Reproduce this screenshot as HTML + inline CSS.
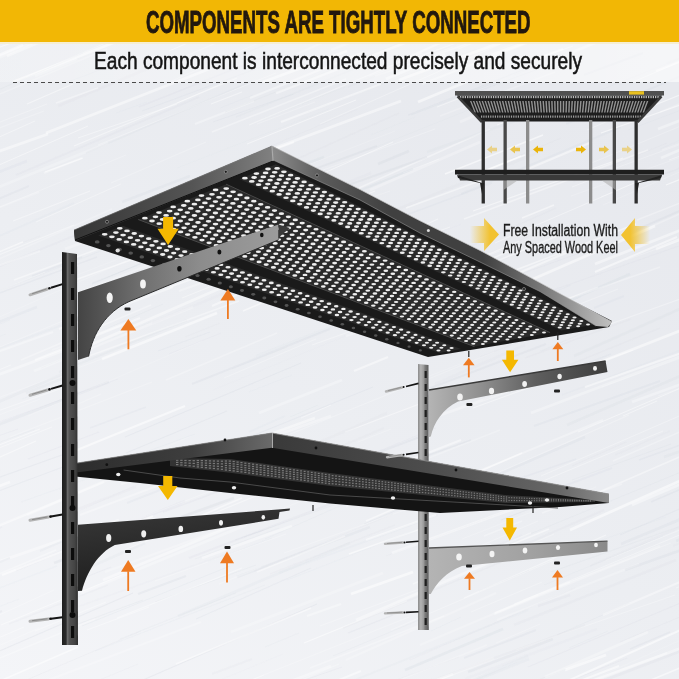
<!DOCTYPE html>
<html><head><meta charset="utf-8">
<style>
html,body{margin:0;padding:0;}
body{width:679px;height:679px;overflow:hidden;position:relative;background:#e8eaee;font-family:"Liberation Sans",sans-serif;}
#bg{position:absolute;left:0;top:0;width:679px;height:679px;}
.t{position:absolute;white-space:nowrap;transform-origin:0 0;line-height:1;}
#band{position:absolute;left:0;top:0;width:679px;height:42px;background:#f2b705;}
#title{left:146px;top:5.5px;font-weight:bold;font-size:32px;color:#22180e;-webkit-text-stroke:0.9px #22180e;transform:scaleX(0.584);}
#sub{left:94px;top:49px;font-size:24px;color:#141414;-webkit-text-stroke:0.55px #141414;transform:scaleX(0.797);}
#l1{left:503px;top:222.5px;font-size:15.8px;color:#1c1c1c;-webkit-text-stroke:0.35px #1c1c1c;transform:scaleX(0.775);}
#l2{left:503px;top:240.3px;font-size:15.8px;color:#1c1c1c;-webkit-text-stroke:0.35px #1c1c1c;transform:scaleX(0.69);}
#dash{position:absolute;left:13px;top:82px;width:653px;height:1px;background:repeating-linear-gradient(90deg,#4a4a4a 0 4px,transparent 4px 7px);}
svg{position:absolute;left:0;top:0;}
</style></head>
<body>
<svg id="bg" width="679" height="679" viewBox="0 0 679 679">
  <defs>
    <linearGradient id="bgg" x1="0" y1="1" x2="0.6" y2="0">
      <stop offset="0" stop-color="#f4f5f8"/>
      <stop offset="0.5" stop-color="#eceef2"/>
      <stop offset="1" stop-color="#e7e9ee"/>
    </linearGradient>
  </defs>
  <rect width="679" height="679" fill="url(#bgg)"/>
  <filter id="blr" x="-5%" y="-5%" width="110%" height="110%"><feGaussianBlur stdDeviation="0.75"/></filter><g filter="url(#blr)"><line x1="540" y1="705" x2="717" y2="637" stroke="#cdd2db" stroke-width="2.8" stroke-opacity="0.17"/><line x1="572" y1="187" x2="608" y2="173" stroke="#ffffff" stroke-width="0.9" stroke-opacity="0.36"/><line x1="356" y1="495" x2="385" y2="483" stroke="#ffffff" stroke-width="0.9" stroke-opacity="0.26"/><line x1="212" y1="674" x2="252" y2="659" stroke="#cdd2db" stroke-width="2" stroke-opacity="0.10"/><line x1="660" y1="149" x2="721" y2="122" stroke="#cdd2db" stroke-width="0.9" stroke-opacity="0.13"/><line x1="351" y1="594" x2="413" y2="572" stroke="#ffffff" stroke-width="2.8" stroke-opacity="0.54"/><line x1="-130" y1="344" x2="45" y2="272" stroke="#ffffff" stroke-width="1.1" stroke-opacity="0.31"/><line x1="-147" y1="594" x2="-65" y2="562" stroke="#ffffff" stroke-width="1.1" stroke-opacity="0.31"/><line x1="22" y1="399" x2="78" y2="378" stroke="#cdd2db" stroke-width="1.1" stroke-opacity="0.09"/><line x1="636" y1="-33" x2="789" y2="-90" stroke="#ffffff" stroke-width="1.1" stroke-opacity="0.49"/><line x1="508" y1="543" x2="686" y2="470" stroke="#cdd2db" stroke-width="0.7" stroke-opacity="0.23"/><line x1="170" y1="287" x2="283" y2="247" stroke="#ffffff" stroke-width="1.5" stroke-opacity="0.46"/><line x1="650" y1="-15" x2="828" y2="-81" stroke="#ffffff" stroke-width="0.7" stroke-opacity="0.38"/><line x1="-12" y1="212" x2="126" y2="155" stroke="#ffffff" stroke-width="0.7" stroke-opacity="0.31"/><line x1="-77" y1="91" x2="58" y2="33" stroke="#ffffff" stroke-width="1.5" stroke-opacity="0.22"/><line x1="346" y1="336" x2="413" y2="312" stroke="#ffffff" stroke-width="2" stroke-opacity="0.29"/><line x1="-15" y1="880" x2="115" y2="830" stroke="#ffffff" stroke-width="1.5" stroke-opacity="0.27"/><line x1="375" y1="76" x2="547" y2="16" stroke="#ffffff" stroke-width="1.5" stroke-opacity="0.35"/><line x1="636" y1="230" x2="734" y2="187" stroke="#cdd2db" stroke-width="2" stroke-opacity="0.24"/><line x1="304" y1="643" x2="407" y2="601" stroke="#ffffff" stroke-width="1.1" stroke-opacity="0.52"/><line x1="615" y1="455" x2="670" y2="431" stroke="#cdd2db" stroke-width="1.5" stroke-opacity="0.11"/><line x1="329" y1="471" x2="436" y2="428" stroke="#cdd2db" stroke-width="0.7" stroke-opacity="0.21"/><line x1="468" y1="672" x2="553" y2="639" stroke="#cdd2db" stroke-width="2.8" stroke-opacity="0.22"/><line x1="762" y1="630" x2="940" y2="555" stroke="#cdd2db" stroke-width="1.1" stroke-opacity="0.17"/><line x1="359" y1="188" x2="490" y2="129" stroke="#ffffff" stroke-width="1.5" stroke-opacity="0.38"/><line x1="182" y1="210" x2="264" y2="178" stroke="#ffffff" stroke-width="1.5" stroke-opacity="0.50"/><line x1="490" y1="877" x2="671" y2="812" stroke="#ffffff" stroke-width="2" stroke-opacity="0.54"/><line x1="187" y1="761" x2="258" y2="730" stroke="#cdd2db" stroke-width="0.7" stroke-opacity="0.20"/><line x1="576" y1="502" x2="707" y2="445" stroke="#ffffff" stroke-width="1.5" stroke-opacity="0.39"/><line x1="102" y1="896" x2="161" y2="875" stroke="#ffffff" stroke-width="2" stroke-opacity="0.43"/><line x1="488" y1="549" x2="522" y2="535" stroke="#cdd2db" stroke-width="1.5" stroke-opacity="0.11"/><line x1="-47" y1="870" x2="58" y2="832" stroke="#ffffff" stroke-width="2" stroke-opacity="0.36"/><line x1="419" y1="511" x2="484" y2="484" stroke="#ffffff" stroke-width="1.1" stroke-opacity="0.34"/><line x1="231" y1="59" x2="389" y2="-7" stroke="#cdd2db" stroke-width="1.1" stroke-opacity="0.17"/><line x1="125" y1="437" x2="301" y2="363" stroke="#cdd2db" stroke-width="1.1" stroke-opacity="0.22"/><line x1="606" y1="560" x2="692" y2="525" stroke="#ffffff" stroke-width="0.9" stroke-opacity="0.33"/><line x1="35" y1="76" x2="77" y2="59" stroke="#ffffff" stroke-width="2.8" stroke-opacity="0.24"/><line x1="422" y1="84" x2="550" y2="34" stroke="#ffffff" stroke-width="2" stroke-opacity="0.35"/><line x1="121" y1="874" x2="208" y2="837" stroke="#cdd2db" stroke-width="0.9" stroke-opacity="0.13"/><line x1="312" y1="345" x2="391" y2="317" stroke="#ffffff" stroke-width="1.1" stroke-opacity="0.30"/><line x1="-37" y1="541" x2="61" y2="501" stroke="#ffffff" stroke-width="1.1" stroke-opacity="0.25"/><line x1="297" y1="482" x2="363" y2="455" stroke="#cdd2db" stroke-width="1.5" stroke-opacity="0.13"/><line x1="-6" y1="889" x2="67" y2="858" stroke="#cdd2db" stroke-width="2" stroke-opacity="0.17"/><line x1="669" y1="800" x2="700" y2="789" stroke="#ffffff" stroke-width="0.9" stroke-opacity="0.39"/><line x1="126" y1="453" x2="227" y2="411" stroke="#cdd2db" stroke-width="1.1" stroke-opacity="0.22"/><line x1="-147" y1="476" x2="-13" y2="417" stroke="#cdd2db" stroke-width="0.7" stroke-opacity="0.17"/><line x1="574" y1="356" x2="691" y2="304" stroke="#cdd2db" stroke-width="2.8" stroke-opacity="0.19"/><line x1="632" y1="402" x2="770" y2="352" stroke="#ffffff" stroke-width="2.8" stroke-opacity="0.30"/><line x1="-89" y1="744" x2="50" y2="693" stroke="#cdd2db" stroke-width="1.5" stroke-opacity="0.19"/><line x1="139" y1="107" x2="277" y2="52" stroke="#cdd2db" stroke-width="1.5" stroke-opacity="0.17"/><line x1="354" y1="-4" x2="497" y2="-62" stroke="#cdd2db" stroke-width="1.1" stroke-opacity="0.21"/><line x1="-126" y1="636" x2="57" y2="566" stroke="#cdd2db" stroke-width="1.5" stroke-opacity="0.09"/><line x1="54" y1="563" x2="234" y2="498" stroke="#cdd2db" stroke-width="2.8" stroke-opacity="0.24"/><line x1="257" y1="124" x2="315" y2="102" stroke="#ffffff" stroke-width="0.9" stroke-opacity="0.27"/><line x1="464" y1="658" x2="536" y2="630" stroke="#cdd2db" stroke-width="2" stroke-opacity="0.20"/><line x1="-25" y1="360" x2="53" y2="332" stroke="#ffffff" stroke-width="2" stroke-opacity="0.32"/><line x1="701" y1="81" x2="776" y2="53" stroke="#cdd2db" stroke-width="2" stroke-opacity="0.17"/><line x1="366" y1="540" x2="436" y2="515" stroke="#ffffff" stroke-width="2" stroke-opacity="0.49"/><line x1="757" y1="718" x2="920" y2="649" stroke="#cdd2db" stroke-width="1.5" stroke-opacity="0.11"/><line x1="459" y1="31" x2="593" y2="-20" stroke="#cdd2db" stroke-width="0.7" stroke-opacity="0.17"/><line x1="213" y1="390" x2="392" y2="317" stroke="#cdd2db" stroke-width="0.7" stroke-opacity="0.09"/><line x1="-100" y1="93" x2="79" y2="26" stroke="#cdd2db" stroke-width="2.8" stroke-opacity="0.20"/><line x1="698" y1="417" x2="758" y2="390" stroke="#cdd2db" stroke-width="2.8" stroke-opacity="0.14"/><line x1="160" y1="533" x2="242" y2="498" stroke="#ffffff" stroke-width="1.5" stroke-opacity="0.45"/><line x1="125" y1="550" x2="304" y2="476" stroke="#ffffff" stroke-width="1.1" stroke-opacity="0.41"/><line x1="538" y1="326" x2="582" y2="309" stroke="#ffffff" stroke-width="0.7" stroke-opacity="0.27"/><line x1="722" y1="578" x2="804" y2="545" stroke="#ffffff" stroke-width="1.5" stroke-opacity="0.51"/><line x1="249" y1="392" x2="292" y2="375" stroke="#cdd2db" stroke-width="0.9" stroke-opacity="0.10"/><line x1="658" y1="396" x2="775" y2="354" stroke="#ffffff" stroke-width="0.7" stroke-opacity="0.26"/><line x1="69" y1="408" x2="101" y2="394" stroke="#ffffff" stroke-width="1.1" stroke-opacity="0.22"/><line x1="275" y1="756" x2="326" y2="733" stroke="#ffffff" stroke-width="2.8" stroke-opacity="0.36"/><line x1="774" y1="-18" x2="913" y2="-78" stroke="#ffffff" stroke-width="2" stroke-opacity="0.23"/><line x1="755" y1="296" x2="832" y2="265" stroke="#ffffff" stroke-width="1.5" stroke-opacity="0.22"/><line x1="285" y1="687" x2="342" y2="667" stroke="#cdd2db" stroke-width="0.9" stroke-opacity="0.19"/><line x1="757" y1="-44" x2="795" y2="-59" stroke="#ffffff" stroke-width="2.8" stroke-opacity="0.22"/><line x1="770" y1="443" x2="854" y2="410" stroke="#cdd2db" stroke-width="0.7" stroke-opacity="0.12"/><line x1="-64" y1="398" x2="73" y2="347" stroke="#ffffff" stroke-width="2.8" stroke-opacity="0.34"/><line x1="88" y1="337" x2="163" y2="304" stroke="#cdd2db" stroke-width="0.7" stroke-opacity="0.24"/><line x1="497" y1="559" x2="554" y2="534" stroke="#ffffff" stroke-width="0.9" stroke-opacity="0.31"/><line x1="354" y1="825" x2="475" y2="772" stroke="#ffffff" stroke-width="2.8" stroke-opacity="0.21"/><line x1="302" y1="493" x2="390" y2="458" stroke="#ffffff" stroke-width="2.8" stroke-opacity="0.20"/><line x1="490" y1="797" x2="678" y2="727" stroke="#ffffff" stroke-width="2" stroke-opacity="0.31"/><line x1="568" y1="728" x2="644" y2="695" stroke="#ffffff" stroke-width="0.9" stroke-opacity="0.37"/><line x1="593" y1="869" x2="727" y2="818" stroke="#ffffff" stroke-width="1.1" stroke-opacity="0.45"/><line x1="36" y1="222" x2="121" y2="184" stroke="#ffffff" stroke-width="0.7" stroke-opacity="0.47"/><line x1="565" y1="-50" x2="638" y2="-80" stroke="#cdd2db" stroke-width="0.9" stroke-opacity="0.15"/><line x1="460" y1="857" x2="604" y2="804" stroke="#ffffff" stroke-width="2.8" stroke-opacity="0.24"/><line x1="373" y1="255" x2="450" y2="227" stroke="#ffffff" stroke-width="0.9" stroke-opacity="0.44"/><line x1="-91" y1="676" x2="24" y2="627" stroke="#ffffff" stroke-width="0.7" stroke-opacity="0.54"/><line x1="255" y1="195" x2="435" y2="129" stroke="#ffffff" stroke-width="0.7" stroke-opacity="0.35"/><line x1="157" y1="-38" x2="277" y2="-88" stroke="#cdd2db" stroke-width="0.9" stroke-opacity="0.10"/><line x1="9" y1="624" x2="108" y2="585" stroke="#cdd2db" stroke-width="1.5" stroke-opacity="0.10"/><line x1="701" y1="388" x2="797" y2="348" stroke="#ffffff" stroke-width="1.5" stroke-opacity="0.43"/><line x1="290" y1="417" x2="318" y2="405" stroke="#cdd2db" stroke-width="0.9" stroke-opacity="0.15"/><line x1="760" y1="-19" x2="877" y2="-71" stroke="#cdd2db" stroke-width="1.5" stroke-opacity="0.14"/><line x1="37" y1="731" x2="113" y2="700" stroke="#ffffff" stroke-width="2" stroke-opacity="0.46"/><line x1="177" y1="186" x2="358" y2="109" stroke="#cdd2db" stroke-width="0.7" stroke-opacity="0.15"/><line x1="623" y1="416" x2="657" y2="401" stroke="#ffffff" stroke-width="0.9" stroke-opacity="0.46"/><line x1="706" y1="707" x2="852" y2="645" stroke="#cdd2db" stroke-width="1.5" stroke-opacity="0.22"/><line x1="594" y1="308" x2="624" y2="296" stroke="#cdd2db" stroke-width="2" stroke-opacity="0.18"/><line x1="-129" y1="594" x2="-4" y2="548" stroke="#ffffff" stroke-width="2" stroke-opacity="0.37"/><line x1="221" y1="883" x2="379" y2="823" stroke="#cdd2db" stroke-width="2.8" stroke-opacity="0.09"/><line x1="238" y1="860" x2="268" y2="847" stroke="#ffffff" stroke-width="2" stroke-opacity="0.30"/><line x1="570" y1="530" x2="731" y2="458" stroke="#ffffff" stroke-width="2.8" stroke-opacity="0.54"/><line x1="714" y1="173" x2="747" y2="158" stroke="#cdd2db" stroke-width="0.7" stroke-opacity="0.24"/><line x1="490" y1="746" x2="636" y2="694" stroke="#cdd2db" stroke-width="2" stroke-opacity="0.16"/><line x1="-37" y1="275" x2="112" y2="209" stroke="#ffffff" stroke-width="1.5" stroke-opacity="0.20"/><line x1="16" y1="570" x2="185" y2="501" stroke="#cdd2db" stroke-width="2.8" stroke-opacity="0.15"/><line x1="491" y1="476" x2="629" y2="415" stroke="#ffffff" stroke-width="1.1" stroke-opacity="0.24"/><line x1="592" y1="707" x2="631" y2="691" stroke="#ffffff" stroke-width="0.9" stroke-opacity="0.34"/><line x1="460" y1="491" x2="585" y2="437" stroke="#cdd2db" stroke-width="2.8" stroke-opacity="0.20"/><line x1="246" y1="452" x2="416" y2="383" stroke="#ffffff" stroke-width="1.1" stroke-opacity="0.23"/><line x1="158" y1="351" x2="210" y2="332" stroke="#cdd2db" stroke-width="1.1" stroke-opacity="0.18"/><line x1="27" y1="515" x2="155" y2="459" stroke="#ffffff" stroke-width="2.8" stroke-opacity="0.23"/><line x1="-22" y1="443" x2="18" y2="429" stroke="#cdd2db" stroke-width="0.9" stroke-opacity="0.19"/><line x1="63" y1="612" x2="226" y2="554" stroke="#cdd2db" stroke-width="1.5" stroke-opacity="0.08"/><line x1="-46" y1="269" x2="40" y2="236" stroke="#cdd2db" stroke-width="0.7" stroke-opacity="0.15"/><line x1="566" y1="124" x2="734" y2="54" stroke="#cdd2db" stroke-width="2" stroke-opacity="0.18"/><line x1="-54" y1="48" x2="-15" y2="34" stroke="#ffffff" stroke-width="0.9" stroke-opacity="0.26"/><line x1="769" y1="677" x2="836" y2="653" stroke="#ffffff" stroke-width="2" stroke-opacity="0.20"/><line x1="745" y1="76" x2="774" y2="66" stroke="#cdd2db" stroke-width="1.5" stroke-opacity="0.24"/><line x1="557" y1="635" x2="630" y2="603" stroke="#cdd2db" stroke-width="0.7" stroke-opacity="0.24"/><line x1="32" y1="276" x2="82" y2="257" stroke="#cdd2db" stroke-width="1.5" stroke-opacity="0.21"/><line x1="-48" y1="338" x2="126" y2="261" stroke="#ffffff" stroke-width="0.7" stroke-opacity="0.22"/><line x1="71" y1="583" x2="111" y2="567" stroke="#cdd2db" stroke-width="1.1" stroke-opacity="0.17"/><line x1="17" y1="752" x2="180" y2="686" stroke="#ffffff" stroke-width="0.9" stroke-opacity="0.32"/><line x1="-145" y1="678" x2="-60" y2="646" stroke="#ffffff" stroke-width="0.7" stroke-opacity="0.40"/><line x1="657" y1="24" x2="841" y2="-41" stroke="#cdd2db" stroke-width="0.9" stroke-opacity="0.15"/><line x1="-71" y1="215" x2="108" y2="143" stroke="#ffffff" stroke-width="2.8" stroke-opacity="0.21"/><line x1="567" y1="425" x2="729" y2="355" stroke="#cdd2db" stroke-width="2.8" stroke-opacity="0.19"/><line x1="-128" y1="681" x2="-36" y2="640" stroke="#cdd2db" stroke-width="1.5" stroke-opacity="0.15"/><line x1="553" y1="797" x2="605" y2="779" stroke="#ffffff" stroke-width="0.9" stroke-opacity="0.54"/><line x1="52" y1="350" x2="123" y2="325" stroke="#ffffff" stroke-width="1.5" stroke-opacity="0.20"/><line x1="565" y1="670" x2="606" y2="655" stroke="#ffffff" stroke-width="2.8" stroke-opacity="0.51"/><line x1="33" y1="-32" x2="193" y2="-91" stroke="#cdd2db" stroke-width="1.1" stroke-opacity="0.10"/><line x1="706" y1="841" x2="738" y2="827" stroke="#cdd2db" stroke-width="0.9" stroke-opacity="0.10"/><line x1="458" y1="267" x2="519" y2="241" stroke="#ffffff" stroke-width="1.1" stroke-opacity="0.54"/><line x1="-66" y1="55" x2="64" y2="6" stroke="#ffffff" stroke-width="1.1" stroke-opacity="0.52"/><line x1="262" y1="777" x2="443" y2="706" stroke="#ffffff" stroke-width="0.9" stroke-opacity="0.39"/><line x1="-26" y1="407" x2="115" y2="354" stroke="#ffffff" stroke-width="0.7" stroke-opacity="0.27"/><line x1="516" y1="174" x2="592" y2="142" stroke="#ffffff" stroke-width="2" stroke-opacity="0.44"/><line x1="572" y1="480" x2="671" y2="444" stroke="#cdd2db" stroke-width="0.7" stroke-opacity="0.23"/><line x1="343" y1="628" x2="518" y2="555" stroke="#cdd2db" stroke-width="1.5" stroke-opacity="0.13"/><line x1="717" y1="24" x2="814" y2="-19" stroke="#ffffff" stroke-width="2.8" stroke-opacity="0.42"/><line x1="327" y1="727" x2="413" y2="689" stroke="#ffffff" stroke-width="1.5" stroke-opacity="0.32"/><line x1="376" y1="147" x2="476" y2="107" stroke="#cdd2db" stroke-width="0.7" stroke-opacity="0.10"/><line x1="198" y1="274" x2="357" y2="216" stroke="#cdd2db" stroke-width="1.5" stroke-opacity="0.20"/><line x1="621" y1="544" x2="710" y2="507" stroke="#cdd2db" stroke-width="2.8" stroke-opacity="0.20"/><line x1="664" y1="819" x2="824" y2="757" stroke="#ffffff" stroke-width="2" stroke-opacity="0.22"/><line x1="372" y1="-41" x2="407" y2="-54" stroke="#ffffff" stroke-width="2" stroke-opacity="0.50"/><line x1="398" y1="62" x2="537" y2="-1" stroke="#ffffff" stroke-width="2" stroke-opacity="0.40"/><line x1="497" y1="620" x2="639" y2="564" stroke="#ffffff" stroke-width="2" stroke-opacity="0.22"/><line x1="453" y1="797" x2="595" y2="740" stroke="#cdd2db" stroke-width="0.7" stroke-opacity="0.20"/><line x1="227" y1="240" x2="325" y2="198" stroke="#ffffff" stroke-width="1.1" stroke-opacity="0.47"/><line x1="689" y1="392" x2="741" y2="371" stroke="#cdd2db" stroke-width="0.9" stroke-opacity="0.13"/><line x1="276" y1="93" x2="461" y2="21" stroke="#ffffff" stroke-width="2.8" stroke-opacity="0.42"/><line x1="13" y1="82" x2="118" y2="41" stroke="#ffffff" stroke-width="2.8" stroke-opacity="0.53"/><line x1="-134" y1="362" x2="-18" y2="314" stroke="#ffffff" stroke-width="2" stroke-opacity="0.52"/><line x1="466" y1="349" x2="618" y2="289" stroke="#ffffff" stroke-width="1.1" stroke-opacity="0.24"/><line x1="183" y1="795" x2="252" y2="766" stroke="#cdd2db" stroke-width="2.8" stroke-opacity="0.10"/><line x1="491" y1="55" x2="535" y2="39" stroke="#ffffff" stroke-width="2.8" stroke-opacity="0.46"/><line x1="572" y1="466" x2="626" y2="442" stroke="#cdd2db" stroke-width="1.1" stroke-opacity="0.13"/><line x1="156" y1="41" x2="194" y2="26" stroke="#ffffff" stroke-width="2.8" stroke-opacity="0.55"/><line x1="-88" y1="15" x2="-54" y2="2" stroke="#cdd2db" stroke-width="0.7" stroke-opacity="0.23"/><line x1="-53" y1="345" x2="10" y2="320" stroke="#cdd2db" stroke-width="0.7" stroke-opacity="0.17"/><line x1="484" y1="257" x2="569" y2="224" stroke="#ffffff" stroke-width="0.7" stroke-opacity="0.24"/><line x1="-43" y1="461" x2="-2" y2="445" stroke="#ffffff" stroke-width="2.8" stroke-opacity="0.35"/><line x1="362" y1="874" x2="457" y2="834" stroke="#cdd2db" stroke-width="0.9" stroke-opacity="0.24"/><line x1="460" y1="122" x2="518" y2="97" stroke="#ffffff" stroke-width="2.8" stroke-opacity="0.25"/><line x1="723" y1="393" x2="820" y2="350" stroke="#cdd2db" stroke-width="2" stroke-opacity="0.13"/><line x1="435" y1="384" x2="525" y2="345" stroke="#cdd2db" stroke-width="2.8" stroke-opacity="0.10"/><line x1="496" y1="643" x2="540" y2="624" stroke="#ffffff" stroke-width="0.9" stroke-opacity="0.26"/><line x1="265" y1="539" x2="426" y2="468" stroke="#cdd2db" stroke-width="0.9" stroke-opacity="0.16"/><line x1="673" y1="546" x2="810" y2="489" stroke="#cdd2db" stroke-width="2" stroke-opacity="0.10"/><line x1="163" y1="512" x2="293" y2="464" stroke="#cdd2db" stroke-width="1.5" stroke-opacity="0.17"/><line x1="413" y1="5" x2="487" y2="-24" stroke="#ffffff" stroke-width="2" stroke-opacity="0.35"/><line x1="-31" y1="572" x2="119" y2="520" stroke="#ffffff" stroke-width="2.8" stroke-opacity="0.37"/><line x1="746" y1="347" x2="818" y2="316" stroke="#cdd2db" stroke-width="2" stroke-opacity="0.14"/><line x1="320" y1="626" x2="446" y2="579" stroke="#ffffff" stroke-width="0.7" stroke-opacity="0.37"/><line x1="585" y1="683" x2="743" y2="612" stroke="#ffffff" stroke-width="0.7" stroke-opacity="0.20"/><line x1="535" y1="111" x2="591" y2="91" stroke="#ffffff" stroke-width="2" stroke-opacity="0.49"/><line x1="208" y1="562" x2="272" y2="538" stroke="#cdd2db" stroke-width="1.1" stroke-opacity="0.12"/><line x1="-88" y1="834" x2="-2" y2="798" stroke="#ffffff" stroke-width="2" stroke-opacity="0.46"/><line x1="405" y1="670" x2="503" y2="629" stroke="#cdd2db" stroke-width="2.8" stroke-opacity="0.23"/><line x1="-148" y1="354" x2="-46" y2="314" stroke="#cdd2db" stroke-width="0.9" stroke-opacity="0.10"/><line x1="258" y1="713" x2="361" y2="671" stroke="#ffffff" stroke-width="2" stroke-opacity="0.47"/><line x1="420" y1="392" x2="546" y2="344" stroke="#cdd2db" stroke-width="2" stroke-opacity="0.22"/><line x1="-131" y1="790" x2="54" y2="719" stroke="#cdd2db" stroke-width="0.9" stroke-opacity="0.20"/><line x1="347" y1="793" x2="401" y2="770" stroke="#ffffff" stroke-width="1.5" stroke-opacity="0.35"/><line x1="528" y1="319" x2="581" y2="297" stroke="#cdd2db" stroke-width="0.7" stroke-opacity="0.20"/><line x1="224" y1="378" x2="316" y2="339" stroke="#ffffff" stroke-width="0.7" stroke-opacity="0.38"/><line x1="489" y1="747" x2="559" y2="717" stroke="#cdd2db" stroke-width="0.7" stroke-opacity="0.23"/><line x1="237" y1="577" x2="370" y2="527" stroke="#cdd2db" stroke-width="2.8" stroke-opacity="0.20"/><line x1="391" y1="630" x2="554" y2="560" stroke="#ffffff" stroke-width="0.7" stroke-opacity="0.39"/><line x1="190" y1="40" x2="315" y2="-6" stroke="#cdd2db" stroke-width="1.1" stroke-opacity="0.18"/><line x1="356" y1="620" x2="532" y2="544" stroke="#ffffff" stroke-width="2.8" stroke-opacity="0.39"/><line x1="626" y1="260" x2="802" y2="197" stroke="#ffffff" stroke-width="0.7" stroke-opacity="0.33"/><line x1="522" y1="301" x2="693" y2="241" stroke="#cdd2db" stroke-width="1.1" stroke-opacity="0.15"/><line x1="415" y1="460" x2="471" y2="440" stroke="#cdd2db" stroke-width="1.5" stroke-opacity="0.24"/><line x1="297" y1="54" x2="404" y2="6" stroke="#ffffff" stroke-width="2" stroke-opacity="0.23"/><line x1="142" y1="27" x2="222" y2="-4" stroke="#ffffff" stroke-width="0.9" stroke-opacity="0.50"/><line x1="138" y1="594" x2="186" y2="576" stroke="#cdd2db" stroke-width="2" stroke-opacity="0.21"/><line x1="484" y1="31" x2="590" y2="-8" stroke="#ffffff" stroke-width="1.5" stroke-opacity="0.31"/><line x1="423" y1="494" x2="603" y2="420" stroke="#ffffff" stroke-width="2" stroke-opacity="0.30"/><line x1="131" y1="835" x2="204" y2="802" stroke="#ffffff" stroke-width="0.7" stroke-opacity="0.42"/><line x1="769" y1="777" x2="853" y2="743" stroke="#ffffff" stroke-width="0.7" stroke-opacity="0.23"/><line x1="155" y1="602" x2="256" y2="565" stroke="#cdd2db" stroke-width="0.7" stroke-opacity="0.22"/><line x1="278" y1="795" x2="388" y2="749" stroke="#ffffff" stroke-width="2" stroke-opacity="0.50"/><line x1="270" y1="574" x2="395" y2="525" stroke="#cdd2db" stroke-width="1.5" stroke-opacity="0.10"/><line x1="150" y1="-14" x2="300" y2="-80" stroke="#cdd2db" stroke-width="1.5" stroke-opacity="0.18"/><line x1="265" y1="647" x2="299" y2="633" stroke="#cdd2db" stroke-width="0.7" stroke-opacity="0.20"/><line x1="708" y1="230" x2="780" y2="198" stroke="#cdd2db" stroke-width="1.5" stroke-opacity="0.09"/><line x1="0" y1="266" x2="137" y2="210" stroke="#cdd2db" stroke-width="2" stroke-opacity="0.15"/><line x1="280" y1="-13" x2="366" y2="-48" stroke="#cdd2db" stroke-width="1.1" stroke-opacity="0.10"/><line x1="104" y1="824" x2="186" y2="791" stroke="#cdd2db" stroke-width="2.8" stroke-opacity="0.15"/><line x1="777" y1="74" x2="925" y2="20" stroke="#ffffff" stroke-width="2.8" stroke-opacity="0.33"/><line x1="765" y1="-41" x2="899" y2="-99" stroke="#ffffff" stroke-width="1.1" stroke-opacity="0.42"/><line x1="421" y1="382" x2="494" y2="352" stroke="#ffffff" stroke-width="0.7" stroke-opacity="0.27"/><line x1="493" y1="781" x2="626" y2="727" stroke="#cdd2db" stroke-width="0.7" stroke-opacity="0.21"/><line x1="165" y1="531" x2="218" y2="509" stroke="#ffffff" stroke-width="0.7" stroke-opacity="0.37"/><line x1="339" y1="-7" x2="402" y2="-33" stroke="#cdd2db" stroke-width="1.1" stroke-opacity="0.12"/><line x1="-120" y1="66" x2="-62" y2="42" stroke="#ffffff" stroke-width="2.8" stroke-opacity="0.29"/><line x1="-48" y1="896" x2="95" y2="832" stroke="#cdd2db" stroke-width="1.1" stroke-opacity="0.13"/><line x1="101" y1="12" x2="156" y2="-12" stroke="#cdd2db" stroke-width="2.8" stroke-opacity="0.22"/><line x1="287" y1="171" x2="324" y2="157" stroke="#cdd2db" stroke-width="2.8" stroke-opacity="0.23"/><line x1="206" y1="495" x2="279" y2="466" stroke="#cdd2db" stroke-width="0.7" stroke-opacity="0.08"/><line x1="539" y1="828" x2="617" y2="794" stroke="#cdd2db" stroke-width="0.9" stroke-opacity="0.16"/><line x1="542" y1="513" x2="622" y2="484" stroke="#ffffff" stroke-width="1.5" stroke-opacity="0.29"/><line x1="632" y1="505" x2="730" y2="463" stroke="#ffffff" stroke-width="2.8" stroke-opacity="0.40"/><line x1="-145" y1="237" x2="-82" y2="210" stroke="#ffffff" stroke-width="0.9" stroke-opacity="0.43"/><line x1="633" y1="82" x2="779" y2="19" stroke="#ffffff" stroke-width="0.9" stroke-opacity="0.41"/><line x1="531" y1="413" x2="698" y2="350" stroke="#ffffff" stroke-width="2.8" stroke-opacity="0.29"/><line x1="399" y1="711" x2="529" y2="659" stroke="#cdd2db" stroke-width="2.8" stroke-opacity="0.14"/><line x1="335" y1="747" x2="411" y2="716" stroke="#ffffff" stroke-width="2" stroke-opacity="0.26"/><line x1="202" y1="746" x2="366" y2="685" stroke="#cdd2db" stroke-width="2" stroke-opacity="0.10"/><line x1="371" y1="135" x2="415" y2="117" stroke="#cdd2db" stroke-width="0.7" stroke-opacity="0.11"/><line x1="35" y1="631" x2="106" y2="602" stroke="#ffffff" stroke-width="1.1" stroke-opacity="0.32"/><line x1="431" y1="-30" x2="496" y2="-55" stroke="#cdd2db" stroke-width="1.1" stroke-opacity="0.15"/><line x1="-87" y1="325" x2="97" y2="257" stroke="#cdd2db" stroke-width="1.5" stroke-opacity="0.20"/><line x1="350" y1="682" x2="528" y2="610" stroke="#cdd2db" stroke-width="2" stroke-opacity="0.12"/><line x1="90" y1="428" x2="146" y2="407" stroke="#cdd2db" stroke-width="1.5" stroke-opacity="0.18"/><line x1="711" y1="622" x2="851" y2="569" stroke="#cdd2db" stroke-width="2.8" stroke-opacity="0.17"/><line x1="464" y1="219" x2="648" y2="150" stroke="#ffffff" stroke-width="1.5" stroke-opacity="0.38"/><line x1="562" y1="395" x2="739" y2="328" stroke="#cdd2db" stroke-width="1.5" stroke-opacity="0.12"/><line x1="511" y1="159" x2="561" y2="138" stroke="#cdd2db" stroke-width="0.7" stroke-opacity="0.19"/><line x1="584" y1="767" x2="635" y2="747" stroke="#cdd2db" stroke-width="1.5" stroke-opacity="0.20"/><line x1="-46" y1="-5" x2="100" y2="-69" stroke="#ffffff" stroke-width="1.5" stroke-opacity="0.26"/><line x1="-131" y1="699" x2="-36" y2="657" stroke="#ffffff" stroke-width="2.8" stroke-opacity="0.46"/><line x1="58" y1="106" x2="166" y2="61" stroke="#cdd2db" stroke-width="2.8" stroke-opacity="0.13"/><line x1="396" y1="-42" x2="582" y2="-111" stroke="#ffffff" stroke-width="0.9" stroke-opacity="0.53"/><line x1="128" y1="721" x2="193" y2="694" stroke="#ffffff" stroke-width="2.8" stroke-opacity="0.37"/><line x1="67" y1="344" x2="130" y2="321" stroke="#ffffff" stroke-width="1.5" stroke-opacity="0.24"/><line x1="143" y1="680" x2="317" y2="604" stroke="#cdd2db" stroke-width="1.1" stroke-opacity="0.24"/><line x1="370" y1="190" x2="480" y2="142" stroke="#ffffff" stroke-width="2.8" stroke-opacity="0.25"/><line x1="-52" y1="367" x2="98" y2="312" stroke="#cdd2db" stroke-width="2" stroke-opacity="0.12"/><line x1="21" y1="360" x2="151" y2="305" stroke="#ffffff" stroke-width="1.5" stroke-opacity="0.29"/><line x1="516" y1="650" x2="675" y2="595" stroke="#ffffff" stroke-width="0.7" stroke-opacity="0.40"/><line x1="519" y1="547" x2="604" y2="510" stroke="#cdd2db" stroke-width="2" stroke-opacity="0.13"/><line x1="746" y1="-43" x2="849" y2="-85" stroke="#cdd2db" stroke-width="2.8" stroke-opacity="0.16"/><line x1="573" y1="182" x2="667" y2="143" stroke="#cdd2db" stroke-width="0.7" stroke-opacity="0.19"/><line x1="212" y1="132" x2="346" y2="79" stroke="#ffffff" stroke-width="1.5" stroke-opacity="0.33"/><line x1="-123" y1="65" x2="-32" y2="25" stroke="#cdd2db" stroke-width="0.7" stroke-opacity="0.16"/><line x1="685" y1="811" x2="753" y2="784" stroke="#cdd2db" stroke-width="0.9" stroke-opacity="0.16"/><line x1="-71" y1="796" x2="47" y2="744" stroke="#cdd2db" stroke-width="1.1" stroke-opacity="0.15"/><line x1="285" y1="1" x2="341" y2="-20" stroke="#ffffff" stroke-width="0.9" stroke-opacity="0.49"/><line x1="44" y1="173" x2="82" y2="158" stroke="#ffffff" stroke-width="2" stroke-opacity="0.28"/><line x1="751" y1="565" x2="871" y2="522" stroke="#ffffff" stroke-width="0.9" stroke-opacity="0.26"/><line x1="-43" y1="395" x2="-4" y2="379" stroke="#ffffff" stroke-width="1.5" stroke-opacity="0.52"/><line x1="719" y1="641" x2="759" y2="626" stroke="#cdd2db" stroke-width="1.1" stroke-opacity="0.15"/><line x1="333" y1="656" x2="419" y2="620" stroke="#cdd2db" stroke-width="0.9" stroke-opacity="0.15"/><line x1="412" y1="350" x2="571" y2="285" stroke="#cdd2db" stroke-width="0.9" stroke-opacity="0.20"/><line x1="-121" y1="786" x2="-78" y2="771" stroke="#cdd2db" stroke-width="0.9" stroke-opacity="0.15"/><line x1="676" y1="588" x2="722" y2="570" stroke="#ffffff" stroke-width="0.9" stroke-opacity="0.34"/><line x1="202" y1="249" x2="266" y2="224" stroke="#ffffff" stroke-width="0.9" stroke-opacity="0.30"/><line x1="308" y1="112" x2="477" y2="49" stroke="#cdd2db" stroke-width="0.7" stroke-opacity="0.14"/><line x1="312" y1="868" x2="354" y2="849" stroke="#cdd2db" stroke-width="0.9" stroke-opacity="0.17"/><line x1="483" y1="400" x2="660" y2="328" stroke="#cdd2db" stroke-width="1.5" stroke-opacity="0.13"/><line x1="689" y1="-25" x2="844" y2="-85" stroke="#ffffff" stroke-width="2" stroke-opacity="0.35"/><line x1="-130" y1="603" x2="-52" y2="569" stroke="#cdd2db" stroke-width="1.1" stroke-opacity="0.22"/><line x1="370" y1="846" x2="508" y2="795" stroke="#cdd2db" stroke-width="0.7" stroke-opacity="0.12"/><line x1="21" y1="502" x2="152" y2="456" stroke="#cdd2db" stroke-width="1.1" stroke-opacity="0.12"/><line x1="-0" y1="525" x2="104" y2="482" stroke="#ffffff" stroke-width="2" stroke-opacity="0.36"/><line x1="142" y1="-17" x2="216" y2="-45" stroke="#ffffff" stroke-width="1.5" stroke-opacity="0.40"/><line x1="94" y1="22" x2="139" y2="5" stroke="#ffffff" stroke-width="2" stroke-opacity="0.34"/><line x1="-51" y1="292" x2="-1" y2="273" stroke="#ffffff" stroke-width="1.5" stroke-opacity="0.41"/><line x1="461" y1="194" x2="621" y2="127" stroke="#cdd2db" stroke-width="2" stroke-opacity="0.18"/><line x1="731" y1="624" x2="836" y2="579" stroke="#ffffff" stroke-width="2.8" stroke-opacity="0.30"/><line x1="403" y1="173" x2="439" y2="159" stroke="#ffffff" stroke-width="0.7" stroke-opacity="0.47"/><line x1="471" y1="612" x2="542" y2="582" stroke="#ffffff" stroke-width="0.7" stroke-opacity="0.38"/><line x1="413" y1="584" x2="531" y2="533" stroke="#ffffff" stroke-width="1.5" stroke-opacity="0.37"/><line x1="-20" y1="410" x2="65" y2="373" stroke="#cdd2db" stroke-width="2.8" stroke-opacity="0.16"/><line x1="434" y1="338" x2="504" y2="310" stroke="#ffffff" stroke-width="2.8" stroke-opacity="0.46"/><line x1="769" y1="510" x2="869" y2="470" stroke="#ffffff" stroke-width="1.5" stroke-opacity="0.49"/><line x1="176" y1="664" x2="311" y2="608" stroke="#ffffff" stroke-width="1.5" stroke-opacity="0.45"/><line x1="538" y1="606" x2="570" y2="595" stroke="#cdd2db" stroke-width="2.8" stroke-opacity="0.17"/><line x1="155" y1="581" x2="286" y2="534" stroke="#ffffff" stroke-width="0.7" stroke-opacity="0.34"/><line x1="486" y1="17" x2="646" y2="-53" stroke="#ffffff" stroke-width="0.9" stroke-opacity="0.51"/><line x1="256" y1="744" x2="346" y2="712" stroke="#ffffff" stroke-width="2" stroke-opacity="0.54"/><line x1="692" y1="789" x2="825" y2="731" stroke="#ffffff" stroke-width="1.1" stroke-opacity="0.34"/><line x1="210" y1="781" x2="289" y2="752" stroke="#cdd2db" stroke-width="0.9" stroke-opacity="0.10"/><line x1="436" y1="-4" x2="464" y2="-16" stroke="#cdd2db" stroke-width="1.1" stroke-opacity="0.16"/><line x1="270" y1="24" x2="436" y2="-42" stroke="#cdd2db" stroke-width="0.9" stroke-opacity="0.17"/><line x1="386" y1="556" x2="504" y2="512" stroke="#cdd2db" stroke-width="0.7" stroke-opacity="0.16"/><line x1="639" y1="460" x2="705" y2="436" stroke="#cdd2db" stroke-width="1.5" stroke-opacity="0.20"/><line x1="-44" y1="676" x2="95" y2="619" stroke="#ffffff" stroke-width="1.5" stroke-opacity="0.28"/><line x1="376" y1="509" x2="442" y2="486" stroke="#cdd2db" stroke-width="0.9" stroke-opacity="0.11"/><line x1="529" y1="318" x2="630" y2="274" stroke="#cdd2db" stroke-width="2.8" stroke-opacity="0.23"/><line x1="-136" y1="-32" x2="10" y2="-90" stroke="#ffffff" stroke-width="0.9" stroke-opacity="0.52"/><line x1="169" y1="51" x2="246" y2="18" stroke="#ffffff" stroke-width="0.9" stroke-opacity="0.49"/><line x1="497" y1="125" x2="594" y2="91" stroke="#ffffff" stroke-width="0.9" stroke-opacity="0.48"/><line x1="752" y1="850" x2="865" y2="800" stroke="#cdd2db" stroke-width="1.1" stroke-opacity="0.24"/><line x1="751" y1="66" x2="799" y2="48" stroke="#cdd2db" stroke-width="2.8" stroke-opacity="0.13"/><line x1="729" y1="833" x2="794" y2="810" stroke="#cdd2db" stroke-width="1.5" stroke-opacity="0.12"/><line x1="0" y1="748" x2="131" y2="692" stroke="#cdd2db" stroke-width="2.8" stroke-opacity="0.20"/><line x1="-121" y1="205" x2="-28" y2="167" stroke="#ffffff" stroke-width="1.1" stroke-opacity="0.51"/><line x1="532" y1="498" x2="612" y2="468" stroke="#cdd2db" stroke-width="2" stroke-opacity="0.18"/><line x1="585" y1="387" x2="693" y2="349" stroke="#ffffff" stroke-width="2" stroke-opacity="0.45"/><line x1="394" y1="734" x2="456" y2="711" stroke="#cdd2db" stroke-width="1.5" stroke-opacity="0.24"/><line x1="-82" y1="272" x2="74" y2="203" stroke="#cdd2db" stroke-width="2" stroke-opacity="0.12"/><line x1="571" y1="196" x2="755" y2="131" stroke="#ffffff" stroke-width="0.7" stroke-opacity="0.26"/><line x1="-29" y1="742" x2="102" y2="691" stroke="#cdd2db" stroke-width="1.1" stroke-opacity="0.20"/><line x1="243" y1="311" x2="332" y2="273" stroke="#ffffff" stroke-width="1.5" stroke-opacity="0.48"/><line x1="-73" y1="150" x2="47" y2="104" stroke="#ffffff" stroke-width="0.9" stroke-opacity="0.29"/><line x1="177" y1="736" x2="265" y2="698" stroke="#ffffff" stroke-width="0.9" stroke-opacity="0.32"/><line x1="-1" y1="322" x2="37" y2="307" stroke="#cdd2db" stroke-width="2.8" stroke-opacity="0.18"/><line x1="415" y1="58" x2="584" y2="-3" stroke="#ffffff" stroke-width="1.1" stroke-opacity="0.39"/><line x1="34" y1="371" x2="193" y2="307" stroke="#ffffff" stroke-width="2.8" stroke-opacity="0.25"/><line x1="260" y1="-41" x2="314" y2="-60" stroke="#ffffff" stroke-width="0.7" stroke-opacity="0.42"/><line x1="197" y1="461" x2="315" y2="418" stroke="#ffffff" stroke-width="2.8" stroke-opacity="0.42"/><line x1="694" y1="617" x2="749" y2="593" stroke="#ffffff" stroke-width="1.5" stroke-opacity="0.36"/><line x1="14" y1="859" x2="47" y2="845" stroke="#ffffff" stroke-width="0.9" stroke-opacity="0.48"/><line x1="-149" y1="230" x2="27" y2="161" stroke="#cdd2db" stroke-width="2.8" stroke-opacity="0.18"/><line x1="422" y1="685" x2="453" y2="674" stroke="#ffffff" stroke-width="2.8" stroke-opacity="0.45"/><line x1="-68" y1="891" x2="103" y2="817" stroke="#ffffff" stroke-width="2.8" stroke-opacity="0.39"/><line x1="53" y1="755" x2="228" y2="690" stroke="#cdd2db" stroke-width="0.9" stroke-opacity="0.23"/><line x1="-81" y1="88" x2="97" y2="17" stroke="#ffffff" stroke-width="2.8" stroke-opacity="0.48"/><line x1="-74" y1="197" x2="88" y2="126" stroke="#ffffff" stroke-width="0.9" stroke-opacity="0.47"/><line x1="525" y1="358" x2="631" y2="319" stroke="#cdd2db" stroke-width="1.5" stroke-opacity="0.13"/><line x1="-143" y1="899" x2="8" y2="835" stroke="#cdd2db" stroke-width="0.7" stroke-opacity="0.22"/><line x1="677" y1="843" x2="716" y2="827" stroke="#cdd2db" stroke-width="2.8" stroke-opacity="0.12"/><line x1="366" y1="521" x2="522" y2="453" stroke="#ffffff" stroke-width="1.5" stroke-opacity="0.48"/><line x1="20" y1="713" x2="138" y2="664" stroke="#cdd2db" stroke-width="0.9" stroke-opacity="0.12"/><line x1="-80" y1="850" x2="49" y2="798" stroke="#ffffff" stroke-width="1.5" stroke-opacity="0.30"/><line x1="748" y1="612" x2="818" y2="585" stroke="#cdd2db" stroke-width="2.8" stroke-opacity="0.17"/><line x1="-102" y1="77" x2="29" y2="21" stroke="#cdd2db" stroke-width="2" stroke-opacity="0.13"/><line x1="156" y1="69" x2="320" y2="-2" stroke="#ffffff" stroke-width="1.1" stroke-opacity="0.28"/><line x1="642" y1="182" x2="719" y2="154" stroke="#cdd2db" stroke-width="1.5" stroke-opacity="0.17"/><line x1="478" y1="720" x2="619" y2="666" stroke="#ffffff" stroke-width="2" stroke-opacity="0.52"/><line x1="473" y1="211" x2="623" y2="158" stroke="#ffffff" stroke-width="1.1" stroke-opacity="0.48"/><line x1="625" y1="-33" x2="725" y2="-77" stroke="#cdd2db" stroke-width="1.1" stroke-opacity="0.17"/><line x1="660" y1="112" x2="837" y2="39" stroke="#ffffff" stroke-width="1.5" stroke-opacity="0.21"/><line x1="-74" y1="-10" x2="48" y2="-58" stroke="#ffffff" stroke-width="1.5" stroke-opacity="0.43"/><line x1="185" y1="337" x2="220" y2="323" stroke="#cdd2db" stroke-width="1.1" stroke-opacity="0.10"/><line x1="578" y1="432" x2="723" y2="370" stroke="#ffffff" stroke-width="0.9" stroke-opacity="0.49"/><line x1="-21" y1="660" x2="133" y2="593" stroke="#cdd2db" stroke-width="1.1" stroke-opacity="0.24"/><line x1="-92" y1="761" x2="-35" y2="740" stroke="#cdd2db" stroke-width="1.1" stroke-opacity="0.22"/><line x1="78" y1="138" x2="177" y2="104" stroke="#ffffff" stroke-width="0.9" stroke-opacity="0.42"/><line x1="386" y1="700" x2="494" y2="658" stroke="#ffffff" stroke-width="2.8" stroke-opacity="0.28"/><line x1="398" y1="693" x2="585" y2="625" stroke="#cdd2db" stroke-width="2" stroke-opacity="0.13"/><line x1="684" y1="461" x2="779" y2="423" stroke="#ffffff" stroke-width="0.9" stroke-opacity="0.42"/><line x1="432" y1="418" x2="534" y2="382" stroke="#ffffff" stroke-width="2.8" stroke-opacity="0.29"/><line x1="448" y1="-4" x2="477" y2="-16" stroke="#cdd2db" stroke-width="0.7" stroke-opacity="0.12"/><line x1="98" y1="145" x2="276" y2="73" stroke="#ffffff" stroke-width="0.9" stroke-opacity="0.32"/><line x1="281" y1="283" x2="328" y2="263" stroke="#cdd2db" stroke-width="0.9" stroke-opacity="0.14"/><line x1="2" y1="575" x2="153" y2="516" stroke="#ffffff" stroke-width="2" stroke-opacity="0.54"/><line x1="82" y1="626" x2="230" y2="566" stroke="#cdd2db" stroke-width="0.9" stroke-opacity="0.20"/><line x1="491" y1="775" x2="620" y2="725" stroke="#ffffff" stroke-width="1.5" stroke-opacity="0.35"/><line x1="281" y1="122" x2="381" y2="84" stroke="#ffffff" stroke-width="2" stroke-opacity="0.44"/><line x1="543" y1="481" x2="663" y2="431" stroke="#ffffff" stroke-width="0.7" stroke-opacity="0.47"/><line x1="177" y1="262" x2="219" y2="245" stroke="#ffffff" stroke-width="0.9" stroke-opacity="0.32"/><line x1="119" y1="17" x2="216" y2="-22" stroke="#ffffff" stroke-width="0.9" stroke-opacity="0.51"/><line x1="-131" y1="27" x2="7" y2="-24" stroke="#cdd2db" stroke-width="1.1" stroke-opacity="0.15"/><line x1="249" y1="432" x2="285" y2="416" stroke="#cdd2db" stroke-width="2" stroke-opacity="0.09"/><line x1="620" y1="642" x2="793" y2="570" stroke="#cdd2db" stroke-width="1.1" stroke-opacity="0.13"/><line x1="80" y1="772" x2="161" y2="737" stroke="#ffffff" stroke-width="2.8" stroke-opacity="0.27"/><line x1="326" y1="193" x2="427" y2="157" stroke="#cdd2db" stroke-width="2" stroke-opacity="0.24"/><line x1="323" y1="720" x2="432" y2="679" stroke="#cdd2db" stroke-width="0.9" stroke-opacity="0.21"/><line x1="601" y1="133" x2="731" y2="87" stroke="#ffffff" stroke-width="1.1" stroke-opacity="0.54"/><line x1="192" y1="384" x2="330" y2="329" stroke="#cdd2db" stroke-width="2" stroke-opacity="0.21"/><line x1="345" y1="432" x2="462" y2="388" stroke="#ffffff" stroke-width="1.1" stroke-opacity="0.42"/><line x1="301" y1="418" x2="331" y2="405" stroke="#ffffff" stroke-width="0.9" stroke-opacity="0.42"/><line x1="223" y1="43" x2="346" y2="-0" stroke="#ffffff" stroke-width="1.1" stroke-opacity="0.25"/><line x1="587" y1="130" x2="664" y2="97" stroke="#ffffff" stroke-width="0.9" stroke-opacity="0.34"/><line x1="189" y1="558" x2="346" y2="498" stroke="#cdd2db" stroke-width="2" stroke-opacity="0.17"/><line x1="329" y1="708" x2="487" y2="645" stroke="#ffffff" stroke-width="1.5" stroke-opacity="0.21"/><line x1="-125" y1="555" x2="-22" y2="513" stroke="#cdd2db" stroke-width="2.8" stroke-opacity="0.20"/><line x1="545" y1="746" x2="701" y2="682" stroke="#ffffff" stroke-width="0.9" stroke-opacity="0.39"/><line x1="704" y1="451" x2="835" y2="394" stroke="#cdd2db" stroke-width="2.8" stroke-opacity="0.22"/><line x1="394" y1="390" x2="460" y2="364" stroke="#ffffff" stroke-width="0.7" stroke-opacity="0.21"/><line x1="-76" y1="367" x2="6" y2="334" stroke="#cdd2db" stroke-width="0.9" stroke-opacity="0.11"/><line x1="16" y1="175" x2="199" y2="97" stroke="#cdd2db" stroke-width="2" stroke-opacity="0.15"/><line x1="209" y1="490" x2="387" y2="413" stroke="#cdd2db" stroke-width="2.8" stroke-opacity="0.10"/><line x1="484" y1="536" x2="522" y2="521" stroke="#ffffff" stroke-width="1.5" stroke-opacity="0.27"/><line x1="122" y1="202" x2="190" y2="176" stroke="#cdd2db" stroke-width="2.8" stroke-opacity="0.20"/><line x1="528" y1="684" x2="566" y2="669" stroke="#cdd2db" stroke-width="0.7" stroke-opacity="0.24"/><line x1="-8" y1="58" x2="23" y2="45" stroke="#ffffff" stroke-width="2.8" stroke-opacity="0.47"/><line x1="763" y1="646" x2="808" y2="629" stroke="#ffffff" stroke-width="2" stroke-opacity="0.21"/><line x1="166" y1="380" x2="277" y2="333" stroke="#ffffff" stroke-width="1.5" stroke-opacity="0.25"/><line x1="118" y1="462" x2="195" y2="434" stroke="#cdd2db" stroke-width="0.7" stroke-opacity="0.17"/><line x1="196" y1="619" x2="311" y2="568" stroke="#cdd2db" stroke-width="1.1" stroke-opacity="0.20"/><line x1="688" y1="122" x2="727" y2="107" stroke="#ffffff" stroke-width="2.8" stroke-opacity="0.45"/><line x1="208" y1="685" x2="283" y2="654" stroke="#cdd2db" stroke-width="0.7" stroke-opacity="0.09"/><line x1="179" y1="291" x2="333" y2="236" stroke="#ffffff" stroke-width="2" stroke-opacity="0.25"/><line x1="396" y1="819" x2="527" y2="764" stroke="#ffffff" stroke-width="1.5" stroke-opacity="0.47"/><line x1="-117" y1="297" x2="-71" y2="281" stroke="#cdd2db" stroke-width="0.7" stroke-opacity="0.10"/><line x1="762" y1="108" x2="836" y2="76" stroke="#cdd2db" stroke-width="0.9" stroke-opacity="0.09"/><line x1="86" y1="788" x2="230" y2="734" stroke="#ffffff" stroke-width="2" stroke-opacity="0.48"/><line x1="664" y1="457" x2="715" y2="439" stroke="#cdd2db" stroke-width="2.8" stroke-opacity="0.19"/><line x1="709" y1="667" x2="873" y2="596" stroke="#ffffff" stroke-width="0.9" stroke-opacity="0.28"/><line x1="250" y1="98" x2="364" y2="52" stroke="#ffffff" stroke-width="2" stroke-opacity="0.38"/><line x1="529" y1="109" x2="564" y2="97" stroke="#ffffff" stroke-width="2.8" stroke-opacity="0.30"/><line x1="128" y1="464" x2="191" y2="436" stroke="#ffffff" stroke-width="0.7" stroke-opacity="0.21"/><line x1="-134" y1="857" x2="30" y2="786" stroke="#cdd2db" stroke-width="0.7" stroke-opacity="0.17"/><line x1="316" y1="6" x2="451" y2="-51" stroke="#cdd2db" stroke-width="2.8" stroke-opacity="0.19"/><line x1="121" y1="484" x2="175" y2="464" stroke="#ffffff" stroke-width="2.8" stroke-opacity="0.26"/><line x1="427" y1="152" x2="591" y2="94" stroke="#cdd2db" stroke-width="2.8" stroke-opacity="0.14"/><line x1="511" y1="882" x2="624" y2="836" stroke="#cdd2db" stroke-width="1.5" stroke-opacity="0.16"/><line x1="-34" y1="104" x2="83" y2="53" stroke="#cdd2db" stroke-width="0.7" stroke-opacity="0.22"/><line x1="595" y1="264" x2="681" y2="230" stroke="#ffffff" stroke-width="2.8" stroke-opacity="0.42"/><line x1="-102" y1="488" x2="52" y2="427" stroke="#ffffff" stroke-width="0.7" stroke-opacity="0.51"/><line x1="693" y1="597" x2="846" y2="528" stroke="#ffffff" stroke-width="1.5" stroke-opacity="0.25"/><line x1="-12" y1="848" x2="54" y2="821" stroke="#cdd2db" stroke-width="0.9" stroke-opacity="0.21"/><line x1="630" y1="-4" x2="675" y2="-22" stroke="#cdd2db" stroke-width="1.5" stroke-opacity="0.08"/><line x1="65" y1="249" x2="114" y2="231" stroke="#ffffff" stroke-width="2.8" stroke-opacity="0.25"/><line x1="87" y1="630" x2="149" y2="607" stroke="#ffffff" stroke-width="0.7" stroke-opacity="0.55"/><line x1="349" y1="290" x2="428" y2="256" stroke="#ffffff" stroke-width="2.8" stroke-opacity="0.42"/><line x1="729" y1="587" x2="770" y2="572" stroke="#ffffff" stroke-width="1.5" stroke-opacity="0.40"/><line x1="708" y1="832" x2="825" y2="780" stroke="#ffffff" stroke-width="1.5" stroke-opacity="0.41"/><line x1="369" y1="690" x2="459" y2="657" stroke="#cdd2db" stroke-width="1.1" stroke-opacity="0.11"/><line x1="74" y1="146" x2="237" y2="78" stroke="#ffffff" stroke-width="1.1" stroke-opacity="0.41"/><line x1="-112" y1="606" x2="10" y2="558" stroke="#cdd2db" stroke-width="2" stroke-opacity="0.22"/><line x1="284" y1="553" x2="444" y2="496" stroke="#ffffff" stroke-width="0.7" stroke-opacity="0.31"/><line x1="118" y1="32" x2="286" y2="-28" stroke="#ffffff" stroke-width="0.7" stroke-opacity="0.44"/><line x1="628" y1="130" x2="772" y2="76" stroke="#cdd2db" stroke-width="0.7" stroke-opacity="0.17"/><line x1="761" y1="894" x2="915" y2="830" stroke="#ffffff" stroke-width="2" stroke-opacity="0.43"/><line x1="103" y1="580" x2="237" y2="524" stroke="#ffffff" stroke-width="2.8" stroke-opacity="0.40"/><line x1="449" y1="729" x2="627" y2="658" stroke="#cdd2db" stroke-width="1.1" stroke-opacity="0.17"/><line x1="157" y1="263" x2="260" y2="223" stroke="#cdd2db" stroke-width="0.9" stroke-opacity="0.13"/><line x1="723" y1="-31" x2="770" y2="-49" stroke="#cdd2db" stroke-width="0.7" stroke-opacity="0.15"/><line x1="263" y1="82" x2="347" y2="51" stroke="#ffffff" stroke-width="2.8" stroke-opacity="0.51"/><line x1="-103" y1="481" x2="35" y2="429" stroke="#cdd2db" stroke-width="0.7" stroke-opacity="0.20"/><line x1="544" y1="585" x2="663" y2="536" stroke="#cdd2db" stroke-width="0.7" stroke-opacity="0.17"/><line x1="573" y1="52" x2="616" y2="34" stroke="#ffffff" stroke-width="2.8" stroke-opacity="0.34"/><line x1="-142" y1="118" x2="-20" y2="72" stroke="#cdd2db" stroke-width="0.7" stroke-opacity="0.12"/><line x1="755" y1="92" x2="817" y2="67" stroke="#cdd2db" stroke-width="0.9" stroke-opacity="0.16"/><line x1="556" y1="15" x2="738" y2="-62" stroke="#cdd2db" stroke-width="2" stroke-opacity="0.10"/><line x1="291" y1="861" x2="389" y2="826" stroke="#ffffff" stroke-width="2.8" stroke-opacity="0.25"/><line x1="123" y1="525" x2="268" y2="469" stroke="#ffffff" stroke-width="0.7" stroke-opacity="0.34"/><line x1="-58" y1="9" x2="106" y2="-51" stroke="#ffffff" stroke-width="2.8" stroke-opacity="0.23"/><line x1="263" y1="492" x2="323" y2="468" stroke="#cdd2db" stroke-width="2" stroke-opacity="0.20"/><line x1="54" y1="284" x2="195" y2="229" stroke="#ffffff" stroke-width="0.7" stroke-opacity="0.21"/><line x1="755" y1="516" x2="939" y2="448" stroke="#cdd2db" stroke-width="1.5" stroke-opacity="0.22"/><line x1="96" y1="827" x2="125" y2="815" stroke="#cdd2db" stroke-width="2" stroke-opacity="0.10"/><line x1="411" y1="115" x2="494" y2="83" stroke="#cdd2db" stroke-width="1.1" stroke-opacity="0.23"/><line x1="578" y1="817" x2="744" y2="750" stroke="#ffffff" stroke-width="1.1" stroke-opacity="0.29"/><line x1="615" y1="121" x2="772" y2="58" stroke="#ffffff" stroke-width="1.1" stroke-opacity="0.52"/><line x1="508" y1="15" x2="677" y2="-54" stroke="#cdd2db" stroke-width="0.9" stroke-opacity="0.14"/><line x1="764" y1="52" x2="804" y2="37" stroke="#cdd2db" stroke-width="2.8" stroke-opacity="0.13"/><line x1="-87" y1="289" x2="74" y2="225" stroke="#ffffff" stroke-width="1.1" stroke-opacity="0.37"/><line x1="687" y1="653" x2="741" y2="630" stroke="#cdd2db" stroke-width="2" stroke-opacity="0.15"/><line x1="177" y1="103" x2="221" y2="84" stroke="#ffffff" stroke-width="0.7" stroke-opacity="0.46"/><line x1="620" y1="535" x2="748" y2="479" stroke="#cdd2db" stroke-width="1.1" stroke-opacity="0.20"/><line x1="358" y1="442" x2="391" y2="429" stroke="#ffffff" stroke-width="0.9" stroke-opacity="0.23"/><line x1="265" y1="182" x2="295" y2="168" stroke="#cdd2db" stroke-width="2.8" stroke-opacity="0.12"/><line x1="284" y1="508" x2="326" y2="491" stroke="#ffffff" stroke-width="0.9" stroke-opacity="0.22"/><line x1="-73" y1="513" x2="-5" y2="489" stroke="#ffffff" stroke-width="0.7" stroke-opacity="0.29"/><line x1="741" y1="791" x2="787" y2="771" stroke="#cdd2db" stroke-width="0.7" stroke-opacity="0.17"/><line x1="29" y1="2" x2="206" y2="-70" stroke="#ffffff" stroke-width="1.5" stroke-opacity="0.50"/><line x1="-79" y1="232" x2="29" y2="186" stroke="#cdd2db" stroke-width="2" stroke-opacity="0.20"/><line x1="603" y1="205" x2="698" y2="164" stroke="#ffffff" stroke-width="0.7" stroke-opacity="0.24"/><line x1="589" y1="18" x2="746" y2="-41" stroke="#cdd2db" stroke-width="0.7" stroke-opacity="0.10"/><line x1="494" y1="296" x2="655" y2="226" stroke="#ffffff" stroke-width="2.8" stroke-opacity="0.48"/><line x1="427" y1="238" x2="461" y2="224" stroke="#cdd2db" stroke-width="0.9" stroke-opacity="0.09"/><line x1="465" y1="869" x2="611" y2="810" stroke="#ffffff" stroke-width="2" stroke-opacity="0.38"/><line x1="728" y1="151" x2="906" y2="75" stroke="#cdd2db" stroke-width="1.5" stroke-opacity="0.10"/><line x1="457" y1="500" x2="576" y2="459" stroke="#cdd2db" stroke-width="1.5" stroke-opacity="0.18"/><line x1="235" y1="213" x2="393" y2="142" stroke="#ffffff" stroke-width="0.9" stroke-opacity="0.51"/><line x1="257" y1="177" x2="399" y2="113" stroke="#cdd2db" stroke-width="1.5" stroke-opacity="0.13"/><line x1="395" y1="294" x2="462" y2="270" stroke="#ffffff" stroke-width="0.7" stroke-opacity="0.21"/><line x1="637" y1="220" x2="718" y2="188" stroke="#ffffff" stroke-width="1.5" stroke-opacity="0.29"/><line x1="244" y1="537" x2="359" y2="496" stroke="#cdd2db" stroke-width="0.7" stroke-opacity="0.23"/><line x1="536" y1="782" x2="618" y2="753" stroke="#ffffff" stroke-width="2" stroke-opacity="0.34"/><line x1="667" y1="63" x2="794" y2="16" stroke="#cdd2db" stroke-width="2.8" stroke-opacity="0.12"/><line x1="202" y1="558" x2="292" y2="526" stroke="#ffffff" stroke-width="2.8" stroke-opacity="0.37"/><line x1="720" y1="522" x2="852" y2="464" stroke="#ffffff" stroke-width="1.5" stroke-opacity="0.40"/><line x1="397" y1="465" x2="461" y2="440" stroke="#ffffff" stroke-width="2" stroke-opacity="0.43"/><line x1="455" y1="877" x2="523" y2="853" stroke="#cdd2db" stroke-width="2.8" stroke-opacity="0.18"/><line x1="-134" y1="-20" x2="32" y2="-92" stroke="#cdd2db" stroke-width="1.5" stroke-opacity="0.23"/><line x1="392" y1="12" x2="506" y2="-32" stroke="#ffffff" stroke-width="0.7" stroke-opacity="0.53"/><line x1="698" y1="459" x2="748" y2="437" stroke="#ffffff" stroke-width="1.1" stroke-opacity="0.44"/><line x1="-25" y1="702" x2="141" y2="631" stroke="#cdd2db" stroke-width="0.7" stroke-opacity="0.19"/><line x1="778" y1="261" x2="905" y2="206" stroke="#cdd2db" stroke-width="0.7" stroke-opacity="0.24"/><line x1="-126" y1="625" x2="-97" y2="615" stroke="#ffffff" stroke-width="2.8" stroke-opacity="0.35"/><line x1="14" y1="280" x2="109" y2="245" stroke="#ffffff" stroke-width="1.5" stroke-opacity="0.42"/><line x1="300" y1="871" x2="386" y2="838" stroke="#cdd2db" stroke-width="2" stroke-opacity="0.12"/><line x1="444" y1="728" x2="511" y2="700" stroke="#cdd2db" stroke-width="0.9" stroke-opacity="0.18"/><line x1="373" y1="219" x2="537" y2="153" stroke="#cdd2db" stroke-width="2.8" stroke-opacity="0.13"/><line x1="764" y1="114" x2="831" y2="84" stroke="#ffffff" stroke-width="1.1" stroke-opacity="0.38"/><line x1="127" y1="843" x2="304" y2="769" stroke="#ffffff" stroke-width="2.8" stroke-opacity="0.53"/><line x1="65" y1="83" x2="116" y2="64" stroke="#cdd2db" stroke-width="0.7" stroke-opacity="0.20"/><line x1="348" y1="633" x2="393" y2="615" stroke="#cdd2db" stroke-width="1.1" stroke-opacity="0.22"/><line x1="92" y1="732" x2="165" y2="705" stroke="#cdd2db" stroke-width="2" stroke-opacity="0.16"/><line x1="746" y1="557" x2="826" y2="521" stroke="#cdd2db" stroke-width="1.5" stroke-opacity="0.11"/><line x1="258" y1="788" x2="384" y2="731" stroke="#ffffff" stroke-width="1.1" stroke-opacity="0.49"/><line x1="637" y1="827" x2="761" y2="781" stroke="#cdd2db" stroke-width="0.7" stroke-opacity="0.17"/><line x1="534" y1="426" x2="660" y2="381" stroke="#cdd2db" stroke-width="2" stroke-opacity="0.20"/><line x1="7" y1="56" x2="115" y2="10" stroke="#ffffff" stroke-width="2.8" stroke-opacity="0.40"/><line x1="-127" y1="96" x2="-1" y2="47" stroke="#ffffff" stroke-width="0.7" stroke-opacity="0.45"/><line x1="431" y1="631" x2="461" y2="617" stroke="#cdd2db" stroke-width="0.9" stroke-opacity="0.13"/><line x1="739" y1="523" x2="859" y2="481" stroke="#ffffff" stroke-width="0.9" stroke-opacity="0.27"/><line x1="717" y1="223" x2="806" y2="186" stroke="#ffffff" stroke-width="2.8" stroke-opacity="0.54"/><line x1="-132" y1="587" x2="-67" y2="563" stroke="#ffffff" stroke-width="2.8" stroke-opacity="0.32"/><line x1="751" y1="579" x2="847" y2="543" stroke="#cdd2db" stroke-width="1.1" stroke-opacity="0.15"/><line x1="331" y1="50" x2="461" y2="-2" stroke="#ffffff" stroke-width="2.8" stroke-opacity="0.24"/><line x1="541" y1="351" x2="590" y2="330" stroke="#cdd2db" stroke-width="1.1" stroke-opacity="0.16"/><line x1="730" y1="26" x2="919" y2="-41" stroke="#ffffff" stroke-width="0.9" stroke-opacity="0.54"/><line x1="13" y1="811" x2="147" y2="757" stroke="#ffffff" stroke-width="2.8" stroke-opacity="0.24"/><line x1="613" y1="461" x2="774" y2="391" stroke="#ffffff" stroke-width="1.5" stroke-opacity="0.26"/><line x1="-45" y1="438" x2="118" y2="379" stroke="#cdd2db" stroke-width="0.7" stroke-opacity="0.21"/><line x1="116" y1="113" x2="147" y2="102" stroke="#cdd2db" stroke-width="0.9" stroke-opacity="0.10"/><line x1="351" y1="314" x2="509" y2="257" stroke="#cdd2db" stroke-width="1.5" stroke-opacity="0.10"/><line x1="320" y1="124" x2="503" y2="43" stroke="#ffffff" stroke-width="0.7" stroke-opacity="0.44"/><line x1="177" y1="168" x2="329" y2="109" stroke="#cdd2db" stroke-width="0.7" stroke-opacity="0.11"/><line x1="67" y1="563" x2="102" y2="550" stroke="#cdd2db" stroke-width="2" stroke-opacity="0.24"/><line x1="246" y1="859" x2="312" y2="834" stroke="#cdd2db" stroke-width="0.7" stroke-opacity="0.15"/><line x1="382" y1="304" x2="522" y2="246" stroke="#ffffff" stroke-width="1.5" stroke-opacity="0.41"/><line x1="316" y1="783" x2="468" y2="721" stroke="#cdd2db" stroke-width="1.1" stroke-opacity="0.11"/><line x1="335" y1="208" x2="375" y2="191" stroke="#ffffff" stroke-width="1.1" stroke-opacity="0.44"/><line x1="65" y1="356" x2="230" y2="284" stroke="#ffffff" stroke-width="2.8" stroke-opacity="0.42"/><line x1="520" y1="744" x2="601" y2="708" stroke="#ffffff" stroke-width="2" stroke-opacity="0.52"/><line x1="586" y1="743" x2="756" y2="677" stroke="#cdd2db" stroke-width="1.1" stroke-opacity="0.15"/><line x1="117" y1="618" x2="242" y2="568" stroke="#ffffff" stroke-width="1.1" stroke-opacity="0.38"/><line x1="-127" y1="544" x2="-39" y2="513" stroke="#ffffff" stroke-width="0.7" stroke-opacity="0.45"/><line x1="-91" y1="578" x2="-40" y2="559" stroke="#ffffff" stroke-width="0.7" stroke-opacity="0.30"/><line x1="247" y1="144" x2="356" y2="100" stroke="#ffffff" stroke-width="0.9" stroke-opacity="0.52"/><line x1="779" y1="474" x2="949" y2="401" stroke="#ffffff" stroke-width="2" stroke-opacity="0.35"/><line x1="230" y1="759" x2="335" y2="719" stroke="#ffffff" stroke-width="0.7" stroke-opacity="0.50"/><line x1="45" y1="172" x2="83" y2="158" stroke="#ffffff" stroke-width="1.1" stroke-opacity="0.49"/><line x1="768" y1="57" x2="925" y2="-2" stroke="#ffffff" stroke-width="0.7" stroke-opacity="0.42"/><line x1="102" y1="359" x2="217" y2="313" stroke="#ffffff" stroke-width="2.8" stroke-opacity="0.51"/><line x1="765" y1="607" x2="864" y2="568" stroke="#ffffff" stroke-width="0.7" stroke-opacity="0.46"/><line x1="724" y1="68" x2="848" y2="23" stroke="#ffffff" stroke-width="1.5" stroke-opacity="0.23"/><line x1="514" y1="625" x2="676" y2="560" stroke="#cdd2db" stroke-width="2.8" stroke-opacity="0.13"/><line x1="533" y1="60" x2="563" y2="49" stroke="#ffffff" stroke-width="2" stroke-opacity="0.50"/><line x1="240" y1="452" x2="280" y2="438" stroke="#ffffff" stroke-width="0.7" stroke-opacity="0.27"/><line x1="368" y1="817" x2="490" y2="768" stroke="#ffffff" stroke-width="0.7" stroke-opacity="0.22"/><line x1="142" y1="111" x2="261" y2="67" stroke="#cdd2db" stroke-width="1.1" stroke-opacity="0.18"/><line x1="354" y1="819" x2="463" y2="779" stroke="#ffffff" stroke-width="0.7" stroke-opacity="0.35"/><line x1="269" y1="275" x2="396" y2="224" stroke="#ffffff" stroke-width="1.1" stroke-opacity="0.36"/><line x1="-149" y1="608" x2="-62" y2="578" stroke="#cdd2db" stroke-width="2" stroke-opacity="0.20"/><line x1="345" y1="870" x2="413" y2="845" stroke="#cdd2db" stroke-width="2" stroke-opacity="0.17"/><line x1="465" y1="679" x2="597" y2="629" stroke="#cdd2db" stroke-width="2.8" stroke-opacity="0.08"/><line x1="725" y1="-46" x2="802" y2="-75" stroke="#ffffff" stroke-width="1.5" stroke-opacity="0.28"/><line x1="47" y1="290" x2="170" y2="246" stroke="#ffffff" stroke-width="1.5" stroke-opacity="0.47"/><line x1="458" y1="49" x2="608" y2="-10" stroke="#ffffff" stroke-width="0.7" stroke-opacity="0.54"/><line x1="285" y1="20" x2="338" y2="-2" stroke="#ffffff" stroke-width="2" stroke-opacity="0.47"/><line x1="495" y1="613" x2="570" y2="582" stroke="#ffffff" stroke-width="2" stroke-opacity="0.31"/><line x1="537" y1="775" x2="634" y2="733" stroke="#cdd2db" stroke-width="1.1" stroke-opacity="0.22"/><line x1="708" y1="251" x2="828" y2="199" stroke="#cdd2db" stroke-width="2.8" stroke-opacity="0.22"/><line x1="40" y1="551" x2="79" y2="534" stroke="#cdd2db" stroke-width="2" stroke-opacity="0.16"/><line x1="254" y1="571" x2="393" y2="514" stroke="#cdd2db" stroke-width="1.1" stroke-opacity="0.11"/><line x1="514" y1="604" x2="682" y2="534" stroke="#ffffff" stroke-width="0.7" stroke-opacity="0.50"/><line x1="627" y1="821" x2="722" y2="782" stroke="#ffffff" stroke-width="0.7" stroke-opacity="0.32"/><line x1="436" y1="795" x2="526" y2="754" stroke="#cdd2db" stroke-width="1.5" stroke-opacity="0.13"/><line x1="675" y1="741" x2="742" y2="718" stroke="#cdd2db" stroke-width="1.1" stroke-opacity="0.20"/><line x1="28" y1="459" x2="99" y2="432" stroke="#cdd2db" stroke-width="1.1" stroke-opacity="0.17"/><line x1="120" y1="639" x2="236" y2="593" stroke="#cdd2db" stroke-width="1.1" stroke-opacity="0.14"/><line x1="46" y1="681" x2="201" y2="622" stroke="#ffffff" stroke-width="2" stroke-opacity="0.21"/><line x1="41" y1="368" x2="151" y2="322" stroke="#cdd2db" stroke-width="0.7" stroke-opacity="0.10"/><line x1="697" y1="34" x2="860" y2="-36" stroke="#ffffff" stroke-width="2.8" stroke-opacity="0.40"/><line x1="169" y1="354" x2="221" y2="333" stroke="#cdd2db" stroke-width="0.9" stroke-opacity="0.17"/><line x1="146" y1="763" x2="328" y2="697" stroke="#ffffff" stroke-width="2.8" stroke-opacity="0.29"/><line x1="219" y1="584" x2="261" y2="567" stroke="#ffffff" stroke-width="1.1" stroke-opacity="0.21"/><line x1="59" y1="372" x2="187" y2="320" stroke="#cdd2db" stroke-width="2" stroke-opacity="0.16"/><line x1="161" y1="258" x2="215" y2="238" stroke="#cdd2db" stroke-width="2.8" stroke-opacity="0.24"/><line x1="561" y1="106" x2="736" y2="36" stroke="#cdd2db" stroke-width="0.7" stroke-opacity="0.15"/><line x1="86" y1="153" x2="252" y2="81" stroke="#cdd2db" stroke-width="1.5" stroke-opacity="0.16"/><line x1="210" y1="730" x2="316" y2="690" stroke="#ffffff" stroke-width="0.9" stroke-opacity="0.43"/><line x1="522" y1="218" x2="554" y2="205" stroke="#ffffff" stroke-width="1.5" stroke-opacity="0.46"/><line x1="235" y1="540" x2="264" y2="530" stroke="#cdd2db" stroke-width="0.9" stroke-opacity="0.20"/><line x1="248" y1="223" x2="371" y2="173" stroke="#cdd2db" stroke-width="2.8" stroke-opacity="0.10"/><line x1="167" y1="83" x2="270" y2="38" stroke="#ffffff" stroke-width="0.7" stroke-opacity="0.32"/><line x1="625" y1="570" x2="813" y2="503" stroke="#cdd2db" stroke-width="2.8" stroke-opacity="0.22"/><line x1="681" y1="222" x2="858" y2="151" stroke="#cdd2db" stroke-width="2.8" stroke-opacity="0.24"/><line x1="482" y1="56" x2="625" y2="1" stroke="#ffffff" stroke-width="0.7" stroke-opacity="0.22"/><line x1="0" y1="681" x2="78" y2="647" stroke="#ffffff" stroke-width="1.5" stroke-opacity="0.51"/><line x1="231" y1="632" x2="383" y2="573" stroke="#ffffff" stroke-width="2.8" stroke-opacity="0.21"/><line x1="689" y1="287" x2="749" y2="263" stroke="#ffffff" stroke-width="1.1" stroke-opacity="0.24"/><line x1="399" y1="80" x2="540" y2="28" stroke="#ffffff" stroke-width="2.8" stroke-opacity="0.46"/><line x1="686" y1="821" x2="811" y2="771" stroke="#ffffff" stroke-width="2" stroke-opacity="0.46"/><line x1="546" y1="379" x2="611" y2="354" stroke="#cdd2db" stroke-width="1.5" stroke-opacity="0.18"/><line x1="-26" y1="874" x2="140" y2="809" stroke="#cdd2db" stroke-width="1.1" stroke-opacity="0.21"/><line x1="13" y1="221" x2="90" y2="191" stroke="#ffffff" stroke-width="1.1" stroke-opacity="0.37"/><line x1="377" y1="226" x2="492" y2="183" stroke="#cdd2db" stroke-width="1.5" stroke-opacity="0.18"/><line x1="-149" y1="31" x2="26" y2="-40" stroke="#cdd2db" stroke-width="1.5" stroke-opacity="0.18"/><line x1="418" y1="102" x2="466" y2="82" stroke="#ffffff" stroke-width="2.8" stroke-opacity="0.51"/><line x1="552" y1="726" x2="583" y2="714" stroke="#ffffff" stroke-width="0.7" stroke-opacity="0.48"/><line x1="630" y1="649" x2="670" y2="632" stroke="#cdd2db" stroke-width="1.5" stroke-opacity="0.20"/><line x1="92" y1="768" x2="215" y2="714" stroke="#cdd2db" stroke-width="1.5" stroke-opacity="0.20"/><line x1="688" y1="260" x2="753" y2="232" stroke="#ffffff" stroke-width="0.7" stroke-opacity="0.43"/><line x1="153" y1="250" x2="246" y2="213" stroke="#cdd2db" stroke-width="2.8" stroke-opacity="0.17"/><line x1="138" y1="276" x2="198" y2="254" stroke="#cdd2db" stroke-width="1.5" stroke-opacity="0.10"/><line x1="771" y1="698" x2="877" y2="658" stroke="#ffffff" stroke-width="0.9" stroke-opacity="0.38"/><line x1="712" y1="719" x2="823" y2="678" stroke="#ffffff" stroke-width="1.5" stroke-opacity="0.21"/><line x1="257" y1="572" x2="345" y2="536" stroke="#ffffff" stroke-width="1.5" stroke-opacity="0.39"/><line x1="697" y1="657" x2="746" y2="637" stroke="#ffffff" stroke-width="2.8" stroke-opacity="0.42"/><line x1="717" y1="431" x2="771" y2="409" stroke="#ffffff" stroke-width="2" stroke-opacity="0.39"/><line x1="223" y1="452" x2="259" y2="439" stroke="#ffffff" stroke-width="1.1" stroke-opacity="0.22"/><line x1="153" y1="239" x2="315" y2="182" stroke="#cdd2db" stroke-width="0.7" stroke-opacity="0.22"/><line x1="771" y1="644" x2="879" y2="598" stroke="#ffffff" stroke-width="1.1" stroke-opacity="0.25"/><line x1="154" y1="-39" x2="187" y2="-54" stroke="#cdd2db" stroke-width="0.9" stroke-opacity="0.09"/><line x1="479" y1="591" x2="529" y2="570" stroke="#cdd2db" stroke-width="0.7" stroke-opacity="0.20"/><line x1="-105" y1="487" x2="-59" y2="470" stroke="#ffffff" stroke-width="0.7" stroke-opacity="0.31"/><line x1="220" y1="108" x2="253" y2="95" stroke="#cdd2db" stroke-width="0.7" stroke-opacity="0.17"/><line x1="728" y1="515" x2="820" y2="475" stroke="#ffffff" stroke-width="1.1" stroke-opacity="0.38"/><line x1="440" y1="116" x2="555" y2="72" stroke="#ffffff" stroke-width="1.5" stroke-opacity="0.21"/><line x1="595" y1="272" x2="677" y2="237" stroke="#ffffff" stroke-width="2" stroke-opacity="0.49"/><line x1="157" y1="220" x2="217" y2="198" stroke="#cdd2db" stroke-width="0.7" stroke-opacity="0.10"/><line x1="-88" y1="70" x2="-0" y2="35" stroke="#ffffff" stroke-width="0.7" stroke-opacity="0.54"/><line x1="-129" y1="835" x2="-6" y2="783" stroke="#ffffff" stroke-width="0.9" stroke-opacity="0.49"/><line x1="656" y1="249" x2="688" y2="236" stroke="#ffffff" stroke-width="2.8" stroke-opacity="0.44"/><line x1="185" y1="805" x2="320" y2="750" stroke="#ffffff" stroke-width="1.1" stroke-opacity="0.27"/><line x1="78" y1="509" x2="136" y2="487" stroke="#cdd2db" stroke-width="2.8" stroke-opacity="0.10"/><line x1="473" y1="176" x2="521" y2="156" stroke="#ffffff" stroke-width="1.5" stroke-opacity="0.52"/><line x1="250" y1="889" x2="389" y2="831" stroke="#ffffff" stroke-width="1.1" stroke-opacity="0.46"/><line x1="756" y1="162" x2="896" y2="110" stroke="#cdd2db" stroke-width="2.8" stroke-opacity="0.24"/><line x1="713" y1="407" x2="857" y2="344" stroke="#ffffff" stroke-width="0.7" stroke-opacity="0.39"/><line x1="-56" y1="743" x2="37" y2="707" stroke="#cdd2db" stroke-width="0.9" stroke-opacity="0.13"/><line x1="602" y1="387" x2="714" y2="346" stroke="#ffffff" stroke-width="0.7" stroke-opacity="0.25"/><line x1="480" y1="357" x2="532" y2="337" stroke="#cdd2db" stroke-width="0.7" stroke-opacity="0.15"/><line x1="263" y1="119" x2="345" y2="87" stroke="#cdd2db" stroke-width="0.9" stroke-opacity="0.11"/><line x1="257" y1="865" x2="360" y2="823" stroke="#cdd2db" stroke-width="2.8" stroke-opacity="0.19"/><line x1="570" y1="680" x2="747" y2="600" stroke="#ffffff" stroke-width="2" stroke-opacity="0.55"/><line x1="-0" y1="894" x2="82" y2="864" stroke="#cdd2db" stroke-width="1.5" stroke-opacity="0.10"/><line x1="138" y1="724" x2="208" y2="699" stroke="#cdd2db" stroke-width="0.7" stroke-opacity="0.13"/><line x1="392" y1="553" x2="538" y2="500" stroke="#ffffff" stroke-width="2.8" stroke-opacity="0.38"/><line x1="-90" y1="177" x2="-30" y2="153" stroke="#cdd2db" stroke-width="2.8" stroke-opacity="0.11"/><line x1="772" y1="413" x2="948" y2="338" stroke="#ffffff" stroke-width="1.1" stroke-opacity="0.30"/><line x1="-142" y1="271" x2="-24" y2="224" stroke="#cdd2db" stroke-width="1.1" stroke-opacity="0.23"/><line x1="661" y1="158" x2="728" y2="129" stroke="#ffffff" stroke-width="2.8" stroke-opacity="0.34"/><line x1="739" y1="322" x2="875" y2="269" stroke="#ffffff" stroke-width="1.5" stroke-opacity="0.51"/><line x1="40" y1="797" x2="212" y2="727" stroke="#ffffff" stroke-width="1.5" stroke-opacity="0.30"/><line x1="310" y1="668" x2="444" y2="616" stroke="#ffffff" stroke-width="1.5" stroke-opacity="0.25"/><line x1="92" y1="284" x2="237" y2="223" stroke="#cdd2db" stroke-width="1.1" stroke-opacity="0.23"/><line x1="-144" y1="471" x2="40" y2="399" stroke="#ffffff" stroke-width="0.7" stroke-opacity="0.27"/><line x1="177" y1="761" x2="345" y2="688" stroke="#ffffff" stroke-width="1.5" stroke-opacity="0.46"/><line x1="-139" y1="426" x2="11" y2="365" stroke="#ffffff" stroke-width="0.9" stroke-opacity="0.40"/><line x1="742" y1="125" x2="897" y2="63" stroke="#ffffff" stroke-width="1.1" stroke-opacity="0.22"/><line x1="305" y1="737" x2="432" y2="692" stroke="#ffffff" stroke-width="0.7" stroke-opacity="0.31"/><line x1="346" y1="507" x2="401" y2="485" stroke="#ffffff" stroke-width="1.1" stroke-opacity="0.37"/><line x1="349" y1="554" x2="420" y2="529" stroke="#ffffff" stroke-width="1.5" stroke-opacity="0.54"/><line x1="689" y1="-9" x2="720" y2="-22" stroke="#ffffff" stroke-width="1.5" stroke-opacity="0.31"/><line x1="386" y1="79" x2="445" y2="54" stroke="#ffffff" stroke-width="2.8" stroke-opacity="0.41"/><line x1="92" y1="283" x2="218" y2="234" stroke="#cdd2db" stroke-width="0.9" stroke-opacity="0.16"/><line x1="593" y1="841" x2="711" y2="794" stroke="#ffffff" stroke-width="0.9" stroke-opacity="0.34"/><line x1="212" y1="306" x2="257" y2="286" stroke="#ffffff" stroke-width="2" stroke-opacity="0.44"/><line x1="80" y1="515" x2="223" y2="461" stroke="#ffffff" stroke-width="2" stroke-opacity="0.30"/><line x1="-85" y1="160" x2="44" y2="111" stroke="#ffffff" stroke-width="1.1" stroke-opacity="0.22"/><line x1="182" y1="791" x2="354" y2="731" stroke="#ffffff" stroke-width="0.9" stroke-opacity="0.45"/><line x1="603" y1="615" x2="766" y2="545" stroke="#ffffff" stroke-width="2" stroke-opacity="0.38"/><line x1="523" y1="600" x2="671" y2="543" stroke="#ffffff" stroke-width="0.7" stroke-opacity="0.33"/><line x1="-104" y1="8" x2="-54" y2="-12" stroke="#cdd2db" stroke-width="1.5" stroke-opacity="0.15"/><line x1="473" y1="408" x2="633" y2="350" stroke="#ffffff" stroke-width="1.1" stroke-opacity="0.41"/><line x1="551" y1="572" x2="692" y2="522" stroke="#cdd2db" stroke-width="1.1" stroke-opacity="0.16"/><line x1="182" y1="298" x2="302" y2="250" stroke="#ffffff" stroke-width="0.9" stroke-opacity="0.41"/><line x1="95" y1="651" x2="265" y2="585" stroke="#cdd2db" stroke-width="1.1" stroke-opacity="0.12"/><line x1="748" y1="298" x2="842" y2="260" stroke="#ffffff" stroke-width="2.8" stroke-opacity="0.40"/><line x1="-108" y1="185" x2="35" y2="121" stroke="#ffffff" stroke-width="0.9" stroke-opacity="0.42"/><line x1="111" y1="183" x2="206" y2="142" stroke="#ffffff" stroke-width="1.1" stroke-opacity="0.22"/><line x1="680" y1="121" x2="798" y2="73" stroke="#cdd2db" stroke-width="0.7" stroke-opacity="0.17"/><line x1="413" y1="707" x2="528" y2="656" stroke="#cdd2db" stroke-width="2.8" stroke-opacity="0.12"/><line x1="-103" y1="617" x2="56" y2="550" stroke="#ffffff" stroke-width="1.5" stroke-opacity="0.30"/><line x1="-114" y1="487" x2="-36" y2="459" stroke="#ffffff" stroke-width="2" stroke-opacity="0.54"/><line x1="-39" y1="424" x2="71" y2="385" stroke="#ffffff" stroke-width="1.1" stroke-opacity="0.34"/><line x1="699" y1="896" x2="820" y2="851" stroke="#ffffff" stroke-width="0.7" stroke-opacity="0.41"/><line x1="560" y1="555" x2="666" y2="517" stroke="#cdd2db" stroke-width="0.9" stroke-opacity="0.13"/><line x1="715" y1="557" x2="764" y2="538" stroke="#cdd2db" stroke-width="0.9" stroke-opacity="0.23"/><line x1="169" y1="727" x2="331" y2="666" stroke="#ffffff" stroke-width="2.8" stroke-opacity="0.30"/><line x1="-98" y1="292" x2="23" y2="242" stroke="#ffffff" stroke-width="1.5" stroke-opacity="0.54"/><line x1="572" y1="688" x2="667" y2="653" stroke="#ffffff" stroke-width="2" stroke-opacity="0.30"/><line x1="507" y1="-4" x2="648" y2="-58" stroke="#cdd2db" stroke-width="0.7" stroke-opacity="0.14"/><line x1="-117" y1="825" x2="56" y2="757" stroke="#ffffff" stroke-width="1.1" stroke-opacity="0.27"/><line x1="467" y1="883" x2="581" y2="843" stroke="#cdd2db" stroke-width="1.1" stroke-opacity="0.10"/><line x1="408" y1="115" x2="566" y2="53" stroke="#cdd2db" stroke-width="1.1" stroke-opacity="0.21"/><line x1="81" y1="593" x2="246" y2="525" stroke="#ffffff" stroke-width="2.8" stroke-opacity="0.28"/><line x1="774" y1="165" x2="851" y2="132" stroke="#ffffff" stroke-width="1.5" stroke-opacity="0.47"/><line x1="769" y1="115" x2="854" y2="82" stroke="#cdd2db" stroke-width="1.1" stroke-opacity="0.17"/><line x1="232" y1="164" x2="401" y2="101" stroke="#ffffff" stroke-width="2.8" stroke-opacity="0.45"/><line x1="352" y1="778" x2="401" y2="759" stroke="#cdd2db" stroke-width="2.8" stroke-opacity="0.13"/><line x1="369" y1="76" x2="453" y2="47" stroke="#ffffff" stroke-width="0.7" stroke-opacity="0.33"/><line x1="478" y1="269" x2="569" y2="231" stroke="#ffffff" stroke-width="1.5" stroke-opacity="0.43"/><line x1="232" y1="369" x2="287" y2="347" stroke="#cdd2db" stroke-width="0.9" stroke-opacity="0.15"/><line x1="292" y1="319" x2="345" y2="296" stroke="#cdd2db" stroke-width="1.5" stroke-opacity="0.09"/><line x1="236" y1="117" x2="381" y2="58" stroke="#cdd2db" stroke-width="1.5" stroke-opacity="0.14"/><line x1="708" y1="641" x2="739" y2="629" stroke="#ffffff" stroke-width="0.7" stroke-opacity="0.24"/><line x1="130" y1="845" x2="303" y2="779" stroke="#cdd2db" stroke-width="0.7" stroke-opacity="0.21"/><line x1="67" y1="577" x2="145" y2="543" stroke="#cdd2db" stroke-width="2.8" stroke-opacity="0.14"/><line x1="753" y1="573" x2="847" y2="537" stroke="#ffffff" stroke-width="2" stroke-opacity="0.20"/><line x1="638" y1="17" x2="669" y2="5" stroke="#cdd2db" stroke-width="2" stroke-opacity="0.14"/><line x1="259" y1="413" x2="342" y2="380" stroke="#ffffff" stroke-width="2.8" stroke-opacity="0.28"/><line x1="195" y1="124" x2="254" y2="101" stroke="#ffffff" stroke-width="2" stroke-opacity="0.30"/><line x1="38" y1="-32" x2="215" y2="-97" stroke="#ffffff" stroke-width="2" stroke-opacity="0.32"/><line x1="152" y1="218" x2="214" y2="194" stroke="#ffffff" stroke-width="0.7" stroke-opacity="0.36"/><line x1="669" y1="160" x2="795" y2="115" stroke="#ffffff" stroke-width="0.7" stroke-opacity="0.54"/><line x1="-125" y1="126" x2="-10" y2="84" stroke="#ffffff" stroke-width="0.7" stroke-opacity="0.36"/><line x1="-106" y1="248" x2="39" y2="192" stroke="#ffffff" stroke-width="2" stroke-opacity="0.20"/><line x1="249" y1="125" x2="422" y2="53" stroke="#ffffff" stroke-width="1.1" stroke-opacity="0.36"/><line x1="-85" y1="820" x2="84" y2="751" stroke="#cdd2db" stroke-width="0.9" stroke-opacity="0.10"/><line x1="73" y1="295" x2="239" y2="229" stroke="#ffffff" stroke-width="2" stroke-opacity="0.21"/><line x1="160" y1="740" x2="339" y2="664" stroke="#ffffff" stroke-width="1.1" stroke-opacity="0.23"/><line x1="495" y1="243" x2="662" y2="171" stroke="#ffffff" stroke-width="0.9" stroke-opacity="0.42"/><line x1="570" y1="374" x2="730" y2="311" stroke="#ffffff" stroke-width="2.8" stroke-opacity="0.48"/><line x1="-62" y1="448" x2="109" y2="382" stroke="#cdd2db" stroke-width="2.8" stroke-opacity="0.20"/><line x1="-135" y1="24" x2="-38" y2="-18" stroke="#ffffff" stroke-width="1.1" stroke-opacity="0.22"/><line x1="89" y1="356" x2="239" y2="301" stroke="#ffffff" stroke-width="1.5" stroke-opacity="0.37"/><line x1="410" y1="660" x2="575" y2="588" stroke="#cdd2db" stroke-width="1.1" stroke-opacity="0.11"/><line x1="-68" y1="175" x2="48" y2="134" stroke="#ffffff" stroke-width="2.8" stroke-opacity="0.45"/><line x1="726" y1="149" x2="846" y2="103" stroke="#cdd2db" stroke-width="2" stroke-opacity="0.20"/><line x1="362" y1="760" x2="486" y2="709" stroke="#cdd2db" stroke-width="1.5" stroke-opacity="0.13"/><line x1="156" y1="745" x2="317" y2="679" stroke="#cdd2db" stroke-width="0.9" stroke-opacity="0.12"/><line x1="77" y1="450" x2="185" y2="406" stroke="#ffffff" stroke-width="2" stroke-opacity="0.55"/><line x1="211" y1="104" x2="242" y2="92" stroke="#ffffff" stroke-width="1.1" stroke-opacity="0.42"/><line x1="-36" y1="473" x2="36" y2="441" stroke="#ffffff" stroke-width="1.1" stroke-opacity="0.45"/><line x1="490" y1="253" x2="539" y2="232" stroke="#cdd2db" stroke-width="0.9" stroke-opacity="0.19"/><line x1="326" y1="13" x2="378" y2="-7" stroke="#ffffff" stroke-width="2" stroke-opacity="0.52"/><line x1="46" y1="133" x2="209" y2="69" stroke="#ffffff" stroke-width="2.8" stroke-opacity="0.46"/><line x1="346" y1="660" x2="496" y2="593" stroke="#ffffff" stroke-width="2" stroke-opacity="0.22"/><line x1="767" y1="845" x2="932" y2="783" stroke="#ffffff" stroke-width="0.7" stroke-opacity="0.50"/><line x1="609" y1="-43" x2="670" y2="-69" stroke="#cdd2db" stroke-width="2" stroke-opacity="0.10"/><line x1="545" y1="677" x2="648" y2="632" stroke="#ffffff" stroke-width="2.8" stroke-opacity="0.29"/><line x1="628" y1="237" x2="751" y2="182" stroke="#ffffff" stroke-width="1.5" stroke-opacity="0.24"/><line x1="236" y1="686" x2="409" y2="617" stroke="#ffffff" stroke-width="1.1" stroke-opacity="0.22"/><line x1="165" y1="259" x2="235" y2="233" stroke="#cdd2db" stroke-width="0.7" stroke-opacity="0.24"/><line x1="1" y1="625" x2="124" y2="574" stroke="#ffffff" stroke-width="0.9" stroke-opacity="0.49"/><line x1="287" y1="286" x2="324" y2="271" stroke="#cdd2db" stroke-width="2" stroke-opacity="0.21"/><line x1="693" y1="72" x2="861" y2="-4" stroke="#cdd2db" stroke-width="1.1" stroke-opacity="0.13"/><line x1="509" y1="805" x2="622" y2="763" stroke="#ffffff" stroke-width="0.7" stroke-opacity="0.52"/><line x1="165" y1="-31" x2="201" y2="-46" stroke="#cdd2db" stroke-width="1.5" stroke-opacity="0.22"/><line x1="498" y1="726" x2="608" y2="686" stroke="#ffffff" stroke-width="1.5" stroke-opacity="0.43"/><line x1="542" y1="57" x2="573" y2="46" stroke="#ffffff" stroke-width="0.9" stroke-opacity="0.48"/><line x1="-30" y1="-12" x2="80" y2="-50" stroke="#ffffff" stroke-width="2" stroke-opacity="0.23"/><line x1="514" y1="75" x2="542" y2="64" stroke="#cdd2db" stroke-width="0.9" stroke-opacity="0.16"/><line x1="462" y1="539" x2="596" y2="487" stroke="#ffffff" stroke-width="0.7" stroke-opacity="0.27"/><line x1="457" y1="567" x2="549" y2="529" stroke="#ffffff" stroke-width="1.5" stroke-opacity="0.46"/><line x1="-104" y1="197" x2="-15" y2="158" stroke="#cdd2db" stroke-width="2" stroke-opacity="0.10"/><line x1="274" y1="293" x2="438" y2="219" stroke="#ffffff" stroke-width="1.1" stroke-opacity="0.40"/><line x1="56" y1="103" x2="98" y2="88" stroke="#ffffff" stroke-width="1.5" stroke-opacity="0.34"/><line x1="25" y1="839" x2="173" y2="778" stroke="#cdd2db" stroke-width="2" stroke-opacity="0.24"/><line x1="171" y1="861" x2="294" y2="817" stroke="#ffffff" stroke-width="1.1" stroke-opacity="0.42"/><line x1="774" y1="754" x2="898" y2="707" stroke="#cdd2db" stroke-width="0.7" stroke-opacity="0.22"/><line x1="751" y1="458" x2="799" y2="441" stroke="#ffffff" stroke-width="2" stroke-opacity="0.21"/><line x1="-48" y1="724" x2="53" y2="682" stroke="#cdd2db" stroke-width="1.1" stroke-opacity="0.16"/><line x1="658" y1="129" x2="738" y2="98" stroke="#ffffff" stroke-width="2.8" stroke-opacity="0.35"/><line x1="654" y1="791" x2="714" y2="766" stroke="#cdd2db" stroke-width="0.9" stroke-opacity="0.22"/><line x1="364" y1="524" x2="428" y2="497" stroke="#cdd2db" stroke-width="0.9" stroke-opacity="0.22"/><line x1="599" y1="328" x2="683" y2="298" stroke="#ffffff" stroke-width="1.1" stroke-opacity="0.31"/><line x1="448" y1="30" x2="618" y2="-34" stroke="#cdd2db" stroke-width="0.7" stroke-opacity="0.20"/><line x1="95" y1="304" x2="188" y2="265" stroke="#cdd2db" stroke-width="0.7" stroke-opacity="0.20"/><line x1="569" y1="648" x2="608" y2="631" stroke="#cdd2db" stroke-width="0.9" stroke-opacity="0.16"/><line x1="420" y1="645" x2="538" y2="595" stroke="#ffffff" stroke-width="2" stroke-opacity="0.21"/><line x1="127" y1="503" x2="292" y2="438" stroke="#cdd2db" stroke-width="2" stroke-opacity="0.18"/><line x1="-42" y1="280" x2="40" y2="251" stroke="#ffffff" stroke-width="2" stroke-opacity="0.31"/><line x1="26" y1="393" x2="64" y2="378" stroke="#cdd2db" stroke-width="2.8" stroke-opacity="0.16"/><line x1="-134" y1="536" x2="10" y2="482" stroke="#ffffff" stroke-width="2.8" stroke-opacity="0.48"/><line x1="406" y1="208" x2="493" y2="176" stroke="#ffffff" stroke-width="1.5" stroke-opacity="0.43"/><line x1="259" y1="-3" x2="385" y2="-59" stroke="#ffffff" stroke-width="2.8" stroke-opacity="0.43"/><line x1="39" y1="801" x2="193" y2="744" stroke="#ffffff" stroke-width="1.1" stroke-opacity="0.40"/><line x1="421" y1="781" x2="590" y2="721" stroke="#ffffff" stroke-width="1.5" stroke-opacity="0.40"/><line x1="79" y1="511" x2="163" y2="473" stroke="#cdd2db" stroke-width="0.7" stroke-opacity="0.12"/><line x1="213" y1="122" x2="294" y2="94" stroke="#cdd2db" stroke-width="0.9" stroke-opacity="0.22"/><line x1="59" y1="329" x2="173" y2="287" stroke="#ffffff" stroke-width="2" stroke-opacity="0.39"/><line x1="700" y1="869" x2="856" y2="814" stroke="#cdd2db" stroke-width="1.5" stroke-opacity="0.20"/><line x1="723" y1="664" x2="844" y2="618" stroke="#cdd2db" stroke-width="2" stroke-opacity="0.13"/><line x1="702" y1="754" x2="744" y2="736" stroke="#ffffff" stroke-width="0.7" stroke-opacity="0.46"/><line x1="28" y1="416" x2="202" y2="341" stroke="#ffffff" stroke-width="0.7" stroke-opacity="0.21"/><line x1="590" y1="566" x2="748" y2="498" stroke="#cdd2db" stroke-width="2" stroke-opacity="0.10"/><line x1="-25" y1="626" x2="54" y2="590" stroke="#ffffff" stroke-width="0.7" stroke-opacity="0.37"/><line x1="765" y1="-3" x2="868" y2="-46" stroke="#ffffff" stroke-width="2.8" stroke-opacity="0.20"/><line x1="528" y1="667" x2="683" y2="602" stroke="#cdd2db" stroke-width="1.1" stroke-opacity="0.17"/><line x1="-57" y1="118" x2="107" y2="49" stroke="#ffffff" stroke-width="1.5" stroke-opacity="0.22"/><line x1="662" y1="150" x2="742" y2="121" stroke="#ffffff" stroke-width="1.1" stroke-opacity="0.26"/><line x1="755" y1="313" x2="783" y2="301" stroke="#cdd2db" stroke-width="1.5" stroke-opacity="0.13"/><line x1="584" y1="75" x2="643" y2="53" stroke="#cdd2db" stroke-width="2" stroke-opacity="0.21"/><line x1="-79" y1="520" x2="71" y2="464" stroke="#cdd2db" stroke-width="1.1" stroke-opacity="0.20"/><line x1="616" y1="168" x2="802" y2="100" stroke="#ffffff" stroke-width="0.7" stroke-opacity="0.33"/><line x1="348" y1="87" x2="486" y2="32" stroke="#cdd2db" stroke-width="1.5" stroke-opacity="0.13"/><line x1="-149" y1="807" x2="-62" y2="769" stroke="#ffffff" stroke-width="2.8" stroke-opacity="0.50"/><line x1="776" y1="488" x2="885" y2="442" stroke="#cdd2db" stroke-width="1.5" stroke-opacity="0.24"/><line x1="383" y1="34" x2="516" y2="-21" stroke="#cdd2db" stroke-width="0.9" stroke-opacity="0.18"/><line x1="-19" y1="355" x2="106" y2="303" stroke="#ffffff" stroke-width="0.7" stroke-opacity="0.31"/><line x1="28" y1="750" x2="189" y2="688" stroke="#ffffff" stroke-width="0.9" stroke-opacity="0.39"/><line x1="678" y1="800" x2="822" y2="744" stroke="#cdd2db" stroke-width="2" stroke-opacity="0.19"/><line x1="700" y1="74" x2="850" y2="16" stroke="#ffffff" stroke-width="0.7" stroke-opacity="0.23"/><line x1="-42" y1="492" x2="76" y2="450" stroke="#cdd2db" stroke-width="1.1" stroke-opacity="0.21"/><line x1="390" y1="282" x2="556" y2="208" stroke="#cdd2db" stroke-width="1.5" stroke-opacity="0.10"/><line x1="730" y1="397" x2="840" y2="349" stroke="#ffffff" stroke-width="0.7" stroke-opacity="0.23"/><line x1="27" y1="104" x2="73" y2="84" stroke="#ffffff" stroke-width="1.1" stroke-opacity="0.43"/><line x1="152" y1="323" x2="285" y2="268" stroke="#cdd2db" stroke-width="2.8" stroke-opacity="0.08"/><line x1="702" y1="876" x2="884" y2="807" stroke="#ffffff" stroke-width="1.1" stroke-opacity="0.37"/><line x1="369" y1="456" x2="425" y2="435" stroke="#cdd2db" stroke-width="2" stroke-opacity="0.22"/><line x1="222" y1="269" x2="258" y2="255" stroke="#cdd2db" stroke-width="1.1" stroke-opacity="0.09"/><line x1="494" y1="614" x2="660" y2="546" stroke="#ffffff" stroke-width="2.8" stroke-opacity="0.26"/><line x1="582" y1="685" x2="708" y2="638" stroke="#ffffff" stroke-width="2.8" stroke-opacity="0.32"/><line x1="354" y1="371" x2="388" y2="357" stroke="#ffffff" stroke-width="2" stroke-opacity="0.43"/><line x1="666" y1="185" x2="701" y2="171" stroke="#ffffff" stroke-width="1.1" stroke-opacity="0.54"/><line x1="651" y1="502" x2="799" y2="438" stroke="#cdd2db" stroke-width="1.5" stroke-opacity="0.22"/><line x1="35" y1="360" x2="140" y2="318" stroke="#ffffff" stroke-width="2" stroke-opacity="0.43"/><line x1="515" y1="389" x2="545" y2="375" stroke="#ffffff" stroke-width="1.1" stroke-opacity="0.52"/><line x1="656" y1="71" x2="762" y2="30" stroke="#ffffff" stroke-width="2" stroke-opacity="0.45"/><line x1="589" y1="164" x2="763" y2="92" stroke="#ffffff" stroke-width="0.9" stroke-opacity="0.25"/><line x1="707" y1="91" x2="892" y2="27" stroke="#cdd2db" stroke-width="2" stroke-opacity="0.22"/><line x1="717" y1="95" x2="877" y2="36" stroke="#ffffff" stroke-width="0.9" stroke-opacity="0.32"/><line x1="423" y1="886" x2="456" y2="874" stroke="#cdd2db" stroke-width="1.5" stroke-opacity="0.14"/><line x1="601" y1="197" x2="644" y2="179" stroke="#ffffff" stroke-width="0.7" stroke-opacity="0.35"/><line x1="276" y1="474" x2="384" y2="428" stroke="#cdd2db" stroke-width="2" stroke-opacity="0.10"/><line x1="488" y1="327" x2="660" y2="267" stroke="#ffffff" stroke-width="1.5" stroke-opacity="0.27"/><line x1="209" y1="208" x2="377" y2="146" stroke="#cdd2db" stroke-width="2" stroke-opacity="0.24"/><line x1="278" y1="32" x2="409" y2="-16" stroke="#ffffff" stroke-width="0.7" stroke-opacity="0.40"/><line x1="501" y1="748" x2="546" y2="731" stroke="#cdd2db" stroke-width="0.9" stroke-opacity="0.13"/><line x1="-103" y1="646" x2="19" y2="599" stroke="#cdd2db" stroke-width="0.9" stroke-opacity="0.13"/><line x1="464" y1="598" x2="606" y2="535" stroke="#ffffff" stroke-width="1.1" stroke-opacity="0.40"/><line x1="471" y1="834" x2="641" y2="772" stroke="#ffffff" stroke-width="1.1" stroke-opacity="0.53"/><line x1="262" y1="154" x2="294" y2="142" stroke="#ffffff" stroke-width="2" stroke-opacity="0.49"/><line x1="-101" y1="386" x2="-4" y2="346" stroke="#cdd2db" stroke-width="1.5" stroke-opacity="0.10"/><line x1="495" y1="278" x2="636" y2="224" stroke="#ffffff" stroke-width="1.5" stroke-opacity="0.45"/><line x1="445" y1="174" x2="543" y2="135" stroke="#ffffff" stroke-width="1.5" stroke-opacity="0.54"/><line x1="-119" y1="78" x2="26" y2="20" stroke="#ffffff" stroke-width="0.9" stroke-opacity="0.33"/><line x1="428" y1="307" x2="591" y2="249" stroke="#cdd2db" stroke-width="0.9" stroke-opacity="0.19"/><line x1="242" y1="440" x2="373" y2="387" stroke="#cdd2db" stroke-width="1.1" stroke-opacity="0.20"/><line x1="-87" y1="567" x2="2" y2="527" stroke="#cdd2db" stroke-width="1.5" stroke-opacity="0.15"/><line x1="409" y1="-46" x2="593" y2="-114" stroke="#ffffff" stroke-width="0.7" stroke-opacity="0.48"/><line x1="450" y1="559" x2="538" y2="521" stroke="#ffffff" stroke-width="0.9" stroke-opacity="0.26"/><line x1="526" y1="-28" x2="661" y2="-81" stroke="#ffffff" stroke-width="0.9" stroke-opacity="0.30"/><line x1="250" y1="873" x2="358" y2="827" stroke="#cdd2db" stroke-width="1.5" stroke-opacity="0.14"/><line x1="150" y1="844" x2="285" y2="785" stroke="#ffffff" stroke-width="1.1" stroke-opacity="0.46"/><line x1="501" y1="520" x2="560" y2="497" stroke="#cdd2db" stroke-width="1.1" stroke-opacity="0.24"/><line x1="10" y1="437" x2="152" y2="382" stroke="#ffffff" stroke-width="1.1" stroke-opacity="0.22"/><line x1="432" y1="350" x2="598" y2="287" stroke="#ffffff" stroke-width="1.1" stroke-opacity="0.39"/><line x1="764" y1="303" x2="876" y2="254" stroke="#ffffff" stroke-width="1.1" stroke-opacity="0.22"/><line x1="-55" y1="312" x2="116" y2="245" stroke="#cdd2db" stroke-width="1.1" stroke-opacity="0.14"/><line x1="365" y1="483" x2="500" y2="430" stroke="#ffffff" stroke-width="1.5" stroke-opacity="0.21"/><line x1="256" y1="356" x2="331" y2="327" stroke="#cdd2db" stroke-width="2.8" stroke-opacity="0.09"/><line x1="52" y1="761" x2="172" y2="719" stroke="#ffffff" stroke-width="2" stroke-opacity="0.31"/><line x1="287" y1="580" x2="418" y2="529" stroke="#cdd2db" stroke-width="1.1" stroke-opacity="0.09"/><line x1="178" y1="616" x2="350" y2="543" stroke="#cdd2db" stroke-width="2.8" stroke-opacity="0.14"/><line x1="743" y1="11" x2="902" y2="-49" stroke="#cdd2db" stroke-width="0.7" stroke-opacity="0.20"/><line x1="438" y1="275" x2="499" y2="251" stroke="#ffffff" stroke-width="0.7" stroke-opacity="0.30"/><line x1="738" y1="841" x2="786" y2="821" stroke="#cdd2db" stroke-width="0.9" stroke-opacity="0.21"/><line x1="162" y1="265" x2="339" y2="198" stroke="#ffffff" stroke-width="0.7" stroke-opacity="0.47"/><line x1="74" y1="824" x2="128" y2="801" stroke="#cdd2db" stroke-width="1.1" stroke-opacity="0.23"/><line x1="202" y1="461" x2="331" y2="416" stroke="#ffffff" stroke-width="2.8" stroke-opacity="0.32"/><line x1="-67" y1="499" x2="0" y2="469" stroke="#cdd2db" stroke-width="2" stroke-opacity="0.10"/><line x1="317" y1="731" x2="400" y2="695" stroke="#cdd2db" stroke-width="1.5" stroke-opacity="0.13"/><line x1="437" y1="107" x2="468" y2="95" stroke="#ffffff" stroke-width="0.9" stroke-opacity="0.45"/><line x1="476" y1="174" x2="525" y2="155" stroke="#ffffff" stroke-width="1.5" stroke-opacity="0.51"/><line x1="26" y1="77" x2="143" y2="27" stroke="#ffffff" stroke-width="0.9" stroke-opacity="0.35"/><line x1="-19" y1="54" x2="115" y2="5" stroke="#ffffff" stroke-width="1.1" stroke-opacity="0.48"/><line x1="727" y1="123" x2="820" y2="89" stroke="#ffffff" stroke-width="2.8" stroke-opacity="0.24"/><line x1="-127" y1="665" x2="2" y2="611" stroke="#cdd2db" stroke-width="2" stroke-opacity="0.22"/><line x1="-52" y1="465" x2="40" y2="429" stroke="#ffffff" stroke-width="0.9" stroke-opacity="0.51"/><line x1="98" y1="26" x2="262" y2="-39" stroke="#cdd2db" stroke-width="2" stroke-opacity="0.12"/><line x1="307" y1="616" x2="341" y2="604" stroke="#ffffff" stroke-width="2" stroke-opacity="0.34"/><line x1="275" y1="225" x2="413" y2="169" stroke="#cdd2db" stroke-width="2" stroke-opacity="0.23"/><line x1="699" y1="-38" x2="868" y2="-105" stroke="#ffffff" stroke-width="0.9" stroke-opacity="0.50"/><line x1="708" y1="448" x2="743" y2="433" stroke="#cdd2db" stroke-width="0.7" stroke-opacity="0.15"/><line x1="458" y1="819" x2="549" y2="785" stroke="#cdd2db" stroke-width="0.9" stroke-opacity="0.24"/><line x1="-31" y1="659" x2="39" y2="628" stroke="#ffffff" stroke-width="0.7" stroke-opacity="0.32"/><line x1="478" y1="91" x2="566" y2="59" stroke="#cdd2db" stroke-width="0.9" stroke-opacity="0.22"/><line x1="323" y1="897" x2="368" y2="880" stroke="#ffffff" stroke-width="2.8" stroke-opacity="0.28"/><line x1="676" y1="541" x2="831" y2="473" stroke="#cdd2db" stroke-width="2.8" stroke-opacity="0.22"/><line x1="514" y1="275" x2="568" y2="252" stroke="#ffffff" stroke-width="2" stroke-opacity="0.44"/><line x1="298" y1="885" x2="400" y2="844" stroke="#ffffff" stroke-width="2.8" stroke-opacity="0.42"/><line x1="541" y1="476" x2="700" y2="407" stroke="#ffffff" stroke-width="0.7" stroke-opacity="0.43"/><line x1="365" y1="861" x2="506" y2="811" stroke="#ffffff" stroke-width="2.8" stroke-opacity="0.39"/><line x1="517" y1="769" x2="589" y2="740" stroke="#ffffff" stroke-width="0.7" stroke-opacity="0.25"/><line x1="478" y1="750" x2="535" y2="729" stroke="#cdd2db" stroke-width="0.9" stroke-opacity="0.16"/><line x1="-131" y1="722" x2="-59" y2="695" stroke="#ffffff" stroke-width="1.1" stroke-opacity="0.49"/><line x1="330" y1="212" x2="390" y2="191" stroke="#ffffff" stroke-width="0.7" stroke-opacity="0.27"/><line x1="225" y1="112" x2="402" y2="42" stroke="#cdd2db" stroke-width="1.1" stroke-opacity="0.19"/><line x1="733" y1="211" x2="822" y2="179" stroke="#ffffff" stroke-width="1.1" stroke-opacity="0.29"/><line x1="-82" y1="877" x2="-21" y2="854" stroke="#cdd2db" stroke-width="1.1" stroke-opacity="0.16"/><line x1="78" y1="624" x2="143" y2="600" stroke="#cdd2db" stroke-width="1.1" stroke-opacity="0.19"/><line x1="279" y1="573" x2="438" y2="515" stroke="#cdd2db" stroke-width="2" stroke-opacity="0.09"/><line x1="684" y1="613" x2="738" y2="591" stroke="#cdd2db" stroke-width="2" stroke-opacity="0.10"/><line x1="378" y1="164" x2="409" y2="151" stroke="#cdd2db" stroke-width="2.8" stroke-opacity="0.24"/><line x1="744" y1="20" x2="891" y2="-42" stroke="#ffffff" stroke-width="1.1" stroke-opacity="0.50"/><line x1="259" y1="184" x2="395" y2="131" stroke="#ffffff" stroke-width="0.7" stroke-opacity="0.22"/><line x1="-104" y1="-45" x2="-36" y2="-69" stroke="#cdd2db" stroke-width="2.8" stroke-opacity="0.16"/><line x1="85" y1="749" x2="264" y2="675" stroke="#ffffff" stroke-width="0.9" stroke-opacity="0.32"/><line x1="731" y1="826" x2="762" y2="812" stroke="#ffffff" stroke-width="2.8" stroke-opacity="0.49"/><line x1="695" y1="682" x2="786" y2="644" stroke="#ffffff" stroke-width="0.9" stroke-opacity="0.31"/><line x1="651" y1="680" x2="687" y2="665" stroke="#ffffff" stroke-width="1.5" stroke-opacity="0.50"/><line x1="183" y1="842" x2="330" y2="777" stroke="#cdd2db" stroke-width="1.1" stroke-opacity="0.21"/><line x1="460" y1="100" x2="501" y2="83" stroke="#cdd2db" stroke-width="0.7" stroke-opacity="0.10"/><line x1="195" y1="559" x2="279" y2="528" stroke="#cdd2db" stroke-width="0.9" stroke-opacity="0.15"/><line x1="-86" y1="526" x2="-13" y2="493" stroke="#ffffff" stroke-width="0.7" stroke-opacity="0.51"/><line x1="-130" y1="397" x2="-30" y2="361" stroke="#cdd2db" stroke-width="2.8" stroke-opacity="0.20"/><line x1="105" y1="572" x2="247" y2="520" stroke="#ffffff" stroke-width="2" stroke-opacity="0.24"/><line x1="-105" y1="885" x2="-53" y2="862" stroke="#cdd2db" stroke-width="2.8" stroke-opacity="0.20"/><line x1="640" y1="749" x2="762" y2="698" stroke="#ffffff" stroke-width="1.5" stroke-opacity="0.34"/></g>
</svg>
<div id="band"></div>
<div style="position:absolute;left:0;top:42px;width:679px;height:2px;background:#f6eed2;"></div>
<div style="position:absolute;left:0;top:44px;width:679px;height:38px;background:linear-gradient(90deg,rgba(255,255,255,0.25),rgba(255,255,255,0.6));"></div>
<div class="t" id="title">COMPONENTS ARE TIGHTLY CONNECTED</div>
<div class="t" id="sub">Each component is interconnected precisely and securely</div>
<div id="dash"></div>
<svg id="art" width="679" height="679" viewBox="0 0 679 679">
<defs><linearGradient id="rimRg" gradientUnits="userSpaceOnUse" x1="272" y1="0" x2="612" y2="0"><stop offset="0" stop-color="#8c8c8c"/><stop offset="0.15" stop-color="#5a5a5a"/><stop offset="0.35" stop-color="#404040"/><stop offset="0.62" stop-color="#404040"/><stop offset="0.8" stop-color="#7a7a7a"/><stop offset="1" stop-color="#c0c0c0"/></linearGradient>
<linearGradient id="rimLg" gradientUnits="userSpaceOnUse" x1="74" y1="0" x2="272" y2="0"><stop offset="0" stop-color="#353535"/><stop offset="0.6" stop-color="#555"/><stop offset="1" stop-color="#808080"/></linearGradient>
<linearGradient id="brL" gradientUnits="userSpaceOnUse" x1="78" y1="0" x2="280" y2="0"><stop offset="0" stop-color="#444"/><stop offset="0.3" stop-color="#6e6e6e"/><stop offset="0.6" stop-color="#8c8c8c"/><stop offset="1" stop-color="#9c9c9c"/></linearGradient>
<linearGradient id="upR" gradientUnits="userSpaceOnUse" x1="418" y1="0" x2="429" y2="0"><stop offset="0" stop-color="#8a8a8a"/><stop offset="0.25" stop-color="#b4b4b4"/><stop offset="0.5" stop-color="#9c9c9c"/><stop offset="0.65" stop-color="#7a7a7a"/><stop offset="1" stop-color="#5a5a5a"/></linearGradient>
<linearGradient id="brR" gradientUnits="userSpaceOnUse" x1="429" y1="0" x2="607" y2="0"><stop offset="0" stop-color="#b4b4b4"/><stop offset="0.3" stop-color="#8e8e8e"/><stop offset="0.6" stop-color="#5e5e5e"/><stop offset="1" stop-color="#3e3e3e"/></linearGradient>
<linearGradient id="rimBL" gradientUnits="userSpaceOnUse" x1="0" y1="433" x2="0" y2="452"><stop offset="0" stop-color="#7a7a7a"/><stop offset="1" stop-color="#505050"/></linearGradient>
<linearGradient id="rimBL2" gradientUnits="userSpaceOnUse" x1="74" y1="0" x2="272" y2="0"><stop offset="0" stop-color="#2c2c2c"/><stop offset="0.6" stop-color="#3e3e3e"/><stop offset="1" stop-color="#6a6a6a"/></linearGradient>
<linearGradient id="rimB2" gradientUnits="userSpaceOnUse" x1="272" y1="0" x2="609" y2="0"><stop offset="0" stop-color="#3a3a3a"/><stop offset="0.5" stop-color="#4e4e4e"/><stop offset="0.85" stop-color="#666"/><stop offset="1" stop-color="#8a8a8a"/></linearGradient>
<linearGradient id="rimBh" gradientUnits="userSpaceOnUse" x1="272" y1="0" x2="609" y2="0"><stop offset="0" stop-color="#000"/><stop offset="1" stop-color="#fff"/></linearGradient>
<linearGradient id="upL" gradientUnits="userSpaceOnUse" x1="62" y1="0" x2="78" y2="0"><stop offset="0" stop-color="#1e1e1e"/><stop offset="0.25" stop-color="#2a2a2a"/><stop offset="0.34" stop-color="#6a6a6a"/><stop offset="0.48" stop-color="#505050"/><stop offset="0.8" stop-color="#444"/><stop offset="1" stop-color="#2e2e2e"/></linearGradient>
<linearGradient id="brL2" gradientUnits="userSpaceOnUse" x1="0" y1="505" x2="10" y2="590"><stop offset="0" stop-color="#555"/><stop offset="0.25" stop-color="#363636"/><stop offset="1" stop-color="#222"/></linearGradient>
<linearGradient id="brR2" gradientUnits="userSpaceOnUse" x1="429" y1="0" x2="607" y2="0"><stop offset="0" stop-color="#b4b4b4"/><stop offset="0.6" stop-color="#a0a0a0"/><stop offset="1" stop-color="#8a8a8a"/></linearGradient>
<linearGradient id="yaL2" gradientUnits="userSpaceOnUse" x1="470" y1="0" x2="490" y2="0"><stop offset="0" stop-color="#f2c230" stop-opacity="0"/><stop offset="1" stop-color="#f2c230" stop-opacity="1"/></linearGradient>
<linearGradient id="yaR2" gradientUnits="userSpaceOnUse" x1="650" y1="0" x2="630" y2="0"><stop offset="0" stop-color="#f2c230" stop-opacity="0"/><stop offset="1" stop-color="#f2c230" stop-opacity="1"/></linearGradient></defs>
<polygon points="74.0,230.0 272.0,146.0 612.0,321.0 609.0,327.0 428.0,357.0 75.0,241.0" fill="#1a1a1a" />
<polygon points="98.1,235.6 439.8,353.0 461.1,349.1 122.8,225.7" fill="#2a2a2a" />
<polygon points="138.6,219.4 474.7,346.6 549.6,332.7 225.5,184.5" fill="#2a2a2a" />
<polygon points="239.3,178.9 561.5,330.5 593.0,324.7 275.9,164.3" fill="#2a2a2a" />
<g fill="#eeeeee" opacity="1"><ellipse cx="104.7" cy="234.3" rx="2.9" ry="1.4"/><ellipse cx="111.9" cy="236.8" rx="2.9" ry="1.4"/><ellipse cx="119.2" cy="239.4" rx="2.8" ry="1.4"/><ellipse cx="126.4" cy="241.9" rx="2.8" ry="1.4"/><ellipse cx="133.7" cy="244.4" rx="2.8" ry="1.4"/><ellipse cx="140.9" cy="246.9" rx="2.8" ry="1.4"/><ellipse cx="148.2" cy="249.5" rx="2.8" ry="1.4"/><ellipse cx="155.5" cy="252.0" rx="2.8" ry="1.4"/><ellipse cx="162.7" cy="254.5" rx="2.7" ry="1.4"/><ellipse cx="170.0" cy="257.0" rx="2.7" ry="1.4"/><ellipse cx="177.2" cy="259.5" rx="2.7" ry="1.4"/><ellipse cx="184.5" cy="262.1" rx="2.7" ry="1.3"/><ellipse cx="191.7" cy="264.6" rx="2.7" ry="1.3"/><ellipse cx="199.0" cy="267.1" rx="2.6" ry="1.3"/><ellipse cx="206.3" cy="269.6" rx="2.6" ry="1.3"/><ellipse cx="213.5" cy="272.2" rx="2.6" ry="1.3"/><ellipse cx="220.8" cy="274.7" rx="2.6" ry="1.3"/><ellipse cx="228.0" cy="277.2" rx="2.6" ry="1.3"/><ellipse cx="235.3" cy="279.7" rx="2.6" ry="1.3"/><ellipse cx="242.5" cy="282.2" rx="2.5" ry="1.3"/><ellipse cx="249.8" cy="284.8" rx="2.5" ry="1.3"/><ellipse cx="257.1" cy="287.3" rx="2.5" ry="1.3"/><ellipse cx="264.3" cy="289.8" rx="2.5" ry="1.2"/><ellipse cx="271.6" cy="292.3" rx="2.5" ry="1.2"/><ellipse cx="278.8" cy="294.9" rx="2.4" ry="1.2"/><ellipse cx="286.1" cy="297.4" rx="2.4" ry="1.2"/><ellipse cx="293.3" cy="299.9" rx="2.4" ry="1.2"/><ellipse cx="300.6" cy="302.4" rx="2.4" ry="1.2"/><ellipse cx="307.8" cy="304.9" rx="2.4" ry="1.2"/><ellipse cx="315.1" cy="307.5" rx="2.4" ry="1.2"/><ellipse cx="322.4" cy="310.0" rx="2.3" ry="1.2"/><ellipse cx="329.6" cy="312.5" rx="2.3" ry="1.2"/><ellipse cx="336.9" cy="315.0" rx="2.3" ry="1.2"/><ellipse cx="344.1" cy="317.6" rx="2.3" ry="1.1"/><ellipse cx="351.4" cy="320.1" rx="2.3" ry="1.1"/><ellipse cx="358.6" cy="322.6" rx="2.3" ry="1.1"/><ellipse cx="365.9" cy="325.1" rx="2.2" ry="1.1"/><ellipse cx="373.2" cy="327.7" rx="2.2" ry="1.1"/><ellipse cx="380.4" cy="330.2" rx="2.2" ry="1.1"/><ellipse cx="387.7" cy="332.7" rx="2.2" ry="1.1"/><ellipse cx="394.9" cy="335.2" rx="2.2" ry="1.1"/><ellipse cx="402.2" cy="337.7" rx="2.1" ry="1.1"/><ellipse cx="409.4" cy="340.3" rx="2.1" ry="1.1"/><ellipse cx="416.7" cy="342.8" rx="2.1" ry="1.1"/><ellipse cx="424.0" cy="345.3" rx="2.1" ry="1.0"/><ellipse cx="431.2" cy="347.8" rx="2.1" ry="1.0"/><ellipse cx="438.5" cy="350.4" rx="2.1" ry="1.0"/><ellipse cx="115.9" cy="232.6" rx="2.9" ry="1.4"/><ellipse cx="123.1" cy="235.1" rx="2.9" ry="1.4"/><ellipse cx="130.3" cy="237.7" rx="2.8" ry="1.4"/><ellipse cx="137.6" cy="240.3" rx="2.8" ry="1.4"/><ellipse cx="144.8" cy="242.8" rx="2.8" ry="1.4"/><ellipse cx="152.0" cy="245.4" rx="2.8" ry="1.4"/><ellipse cx="159.3" cy="247.9" rx="2.8" ry="1.4"/><ellipse cx="166.5" cy="250.5" rx="2.7" ry="1.4"/><ellipse cx="173.7" cy="253.1" rx="2.7" ry="1.4"/><ellipse cx="181.0" cy="255.6" rx="2.7" ry="1.4"/><ellipse cx="188.2" cy="258.2" rx="2.7" ry="1.3"/><ellipse cx="195.4" cy="260.7" rx="2.7" ry="1.3"/><ellipse cx="202.7" cy="263.3" rx="2.7" ry="1.3"/><ellipse cx="209.9" cy="265.9" rx="2.6" ry="1.3"/><ellipse cx="217.1" cy="268.4" rx="2.6" ry="1.3"/><ellipse cx="224.4" cy="271.0" rx="2.6" ry="1.3"/><ellipse cx="231.6" cy="273.6" rx="2.6" ry="1.3"/><ellipse cx="238.8" cy="276.1" rx="2.6" ry="1.3"/><ellipse cx="246.1" cy="278.7" rx="2.5" ry="1.3"/><ellipse cx="253.3" cy="281.2" rx="2.5" ry="1.3"/><ellipse cx="260.5" cy="283.8" rx="2.5" ry="1.3"/><ellipse cx="267.8" cy="286.4" rx="2.5" ry="1.2"/><ellipse cx="275.0" cy="288.9" rx="2.5" ry="1.2"/><ellipse cx="282.2" cy="291.5" rx="2.5" ry="1.2"/><ellipse cx="289.5" cy="294.0" rx="2.4" ry="1.2"/><ellipse cx="296.7" cy="296.6" rx="2.4" ry="1.2"/><ellipse cx="303.9" cy="299.2" rx="2.4" ry="1.2"/><ellipse cx="311.2" cy="301.7" rx="2.4" ry="1.2"/><ellipse cx="318.4" cy="304.3" rx="2.4" ry="1.2"/><ellipse cx="325.6" cy="306.9" rx="2.4" ry="1.2"/><ellipse cx="332.9" cy="309.4" rx="2.3" ry="1.2"/><ellipse cx="340.1" cy="312.0" rx="2.3" ry="1.2"/><ellipse cx="347.3" cy="314.5" rx="2.3" ry="1.1"/><ellipse cx="354.6" cy="317.1" rx="2.3" ry="1.1"/><ellipse cx="361.8" cy="319.7" rx="2.3" ry="1.1"/><ellipse cx="369.1" cy="322.2" rx="2.2" ry="1.1"/><ellipse cx="376.3" cy="324.8" rx="2.2" ry="1.1"/><ellipse cx="383.5" cy="327.3" rx="2.2" ry="1.1"/><ellipse cx="390.8" cy="329.9" rx="2.2" ry="1.1"/><ellipse cx="398.0" cy="332.5" rx="2.2" ry="1.1"/><ellipse cx="405.2" cy="335.0" rx="2.2" ry="1.1"/><ellipse cx="412.5" cy="337.6" rx="2.1" ry="1.1"/><ellipse cx="419.7" cy="340.2" rx="2.1" ry="1.1"/><ellipse cx="426.9" cy="342.7" rx="2.1" ry="1.0"/><ellipse cx="434.2" cy="345.3" rx="2.1" ry="1.0"/><ellipse cx="441.4" cy="347.8" rx="2.1" ry="1.0"/><ellipse cx="448.6" cy="350.4" rx="2.0" ry="1.0"/><ellipse cx="119.8" cy="228.3" rx="2.9" ry="1.4"/><ellipse cx="127.0" cy="230.9" rx="2.9" ry="1.4"/><ellipse cx="134.2" cy="233.5" rx="2.8" ry="1.4"/><ellipse cx="141.4" cy="236.1" rx="2.8" ry="1.4"/><ellipse cx="148.7" cy="238.7" rx="2.8" ry="1.4"/><ellipse cx="155.9" cy="241.3" rx="2.8" ry="1.4"/><ellipse cx="163.1" cy="243.9" rx="2.8" ry="1.4"/><ellipse cx="170.3" cy="246.5" rx="2.8" ry="1.4"/><ellipse cx="177.5" cy="249.1" rx="2.7" ry="1.4"/><ellipse cx="184.7" cy="251.7" rx="2.7" ry="1.4"/><ellipse cx="191.9" cy="254.3" rx="2.7" ry="1.4"/><ellipse cx="199.1" cy="256.9" rx="2.7" ry="1.3"/><ellipse cx="206.3" cy="259.5" rx="2.7" ry="1.3"/><ellipse cx="213.6" cy="262.1" rx="2.6" ry="1.3"/><ellipse cx="220.8" cy="264.7" rx="2.6" ry="1.3"/><ellipse cx="228.0" cy="267.3" rx="2.6" ry="1.3"/><ellipse cx="235.2" cy="269.9" rx="2.6" ry="1.3"/><ellipse cx="242.4" cy="272.5" rx="2.6" ry="1.3"/><ellipse cx="249.6" cy="275.1" rx="2.6" ry="1.3"/><ellipse cx="256.8" cy="277.7" rx="2.5" ry="1.3"/><ellipse cx="264.0" cy="280.3" rx="2.5" ry="1.3"/><ellipse cx="271.3" cy="282.9" rx="2.5" ry="1.3"/><ellipse cx="278.5" cy="285.5" rx="2.5" ry="1.2"/><ellipse cx="285.7" cy="288.1" rx="2.5" ry="1.2"/><ellipse cx="292.9" cy="290.7" rx="2.4" ry="1.2"/><ellipse cx="300.1" cy="293.3" rx="2.4" ry="1.2"/><ellipse cx="307.3" cy="295.9" rx="2.4" ry="1.2"/><ellipse cx="314.5" cy="298.5" rx="2.4" ry="1.2"/><ellipse cx="321.7" cy="301.1" rx="2.4" ry="1.2"/><ellipse cx="329.0" cy="303.7" rx="2.4" ry="1.2"/><ellipse cx="336.2" cy="306.3" rx="2.3" ry="1.2"/><ellipse cx="343.4" cy="308.9" rx="2.3" ry="1.2"/><ellipse cx="350.6" cy="311.5" rx="2.3" ry="1.2"/><ellipse cx="357.8" cy="314.1" rx="2.3" ry="1.1"/><ellipse cx="365.0" cy="316.7" rx="2.3" ry="1.1"/><ellipse cx="372.2" cy="319.3" rx="2.3" ry="1.1"/><ellipse cx="379.4" cy="321.9" rx="2.2" ry="1.1"/><ellipse cx="386.6" cy="324.5" rx="2.2" ry="1.1"/><ellipse cx="393.9" cy="327.1" rx="2.2" ry="1.1"/><ellipse cx="401.1" cy="329.7" rx="2.2" ry="1.1"/><ellipse cx="408.3" cy="332.3" rx="2.2" ry="1.1"/><ellipse cx="415.5" cy="334.9" rx="2.1" ry="1.1"/><ellipse cx="422.7" cy="337.5" rx="2.1" ry="1.1"/><ellipse cx="429.9" cy="340.1" rx="2.1" ry="1.1"/><ellipse cx="437.1" cy="342.7" rx="2.1" ry="1.0"/><ellipse cx="444.3" cy="345.3" rx="2.1" ry="1.0"/><ellipse cx="451.6" cy="347.9" rx="2.1" ry="1.0"/></g>
<g fill="#eeeeee" opacity="1"><ellipse cx="144.9" cy="218.2" rx="2.9" ry="1.4"/><ellipse cx="152.0" cy="221.0" rx="2.9" ry="1.4"/><ellipse cx="159.2" cy="223.7" rx="2.8" ry="1.4"/><ellipse cx="166.3" cy="226.4" rx="2.8" ry="1.4"/><ellipse cx="173.4" cy="229.1" rx="2.8" ry="1.4"/><ellipse cx="180.6" cy="231.9" rx="2.8" ry="1.4"/><ellipse cx="187.7" cy="234.6" rx="2.8" ry="1.4"/><ellipse cx="194.9" cy="237.3" rx="2.8" ry="1.4"/><ellipse cx="202.0" cy="240.1" rx="2.7" ry="1.4"/><ellipse cx="209.1" cy="242.8" rx="2.7" ry="1.4"/><ellipse cx="216.3" cy="245.5" rx="2.7" ry="1.4"/><ellipse cx="223.4" cy="248.2" rx="2.7" ry="1.3"/><ellipse cx="230.6" cy="251.0" rx="2.7" ry="1.3"/><ellipse cx="237.7" cy="253.7" rx="2.6" ry="1.3"/><ellipse cx="244.8" cy="256.4" rx="2.6" ry="1.3"/><ellipse cx="252.0" cy="259.2" rx="2.6" ry="1.3"/><ellipse cx="259.1" cy="261.9" rx="2.6" ry="1.3"/><ellipse cx="266.2" cy="264.6" rx="2.6" ry="1.3"/><ellipse cx="273.4" cy="267.4" rx="2.6" ry="1.3"/><ellipse cx="280.5" cy="270.1" rx="2.5" ry="1.3"/><ellipse cx="287.7" cy="272.8" rx="2.5" ry="1.3"/><ellipse cx="294.8" cy="275.5" rx="2.5" ry="1.3"/><ellipse cx="301.9" cy="278.3" rx="2.5" ry="1.2"/><ellipse cx="309.1" cy="281.0" rx="2.5" ry="1.2"/><ellipse cx="316.2" cy="283.7" rx="2.4" ry="1.2"/><ellipse cx="323.3" cy="286.5" rx="2.4" ry="1.2"/><ellipse cx="330.5" cy="289.2" rx="2.4" ry="1.2"/><ellipse cx="337.6" cy="291.9" rx="2.4" ry="1.2"/><ellipse cx="344.8" cy="294.6" rx="2.4" ry="1.2"/><ellipse cx="351.9" cy="297.4" rx="2.4" ry="1.2"/><ellipse cx="359.0" cy="300.1" rx="2.3" ry="1.2"/><ellipse cx="366.2" cy="302.8" rx="2.3" ry="1.2"/><ellipse cx="373.3" cy="305.6" rx="2.3" ry="1.2"/><ellipse cx="380.5" cy="308.3" rx="2.3" ry="1.1"/><ellipse cx="387.6" cy="311.0" rx="2.3" ry="1.1"/><ellipse cx="394.7" cy="313.8" rx="2.3" ry="1.1"/><ellipse cx="401.9" cy="316.5" rx="2.2" ry="1.1"/><ellipse cx="409.0" cy="319.2" rx="2.2" ry="1.1"/><ellipse cx="416.1" cy="321.9" rx="2.2" ry="1.1"/><ellipse cx="423.3" cy="324.7" rx="2.2" ry="1.1"/><ellipse cx="430.4" cy="327.4" rx="2.2" ry="1.1"/><ellipse cx="437.6" cy="330.1" rx="2.1" ry="1.1"/><ellipse cx="444.7" cy="332.9" rx="2.1" ry="1.1"/><ellipse cx="451.8" cy="335.6" rx="2.1" ry="1.1"/><ellipse cx="459.0" cy="338.3" rx="2.1" ry="1.0"/><ellipse cx="466.1" cy="341.1" rx="2.1" ry="1.0"/><ellipse cx="473.3" cy="343.8" rx="2.1" ry="1.0"/><ellipse cx="155.5" cy="216.8" rx="2.9" ry="1.4"/><ellipse cx="162.6" cy="219.5" rx="2.9" ry="1.4"/><ellipse cx="169.8" cy="222.3" rx="2.8" ry="1.4"/><ellipse cx="176.9" cy="225.1" rx="2.8" ry="1.4"/><ellipse cx="184.0" cy="227.8" rx="2.8" ry="1.4"/><ellipse cx="191.1" cy="230.6" rx="2.8" ry="1.4"/><ellipse cx="198.2" cy="233.4" rx="2.8" ry="1.4"/><ellipse cx="205.3" cy="236.1" rx="2.7" ry="1.4"/><ellipse cx="212.5" cy="238.9" rx="2.7" ry="1.4"/><ellipse cx="219.6" cy="241.7" rx="2.7" ry="1.4"/><ellipse cx="226.7" cy="244.4" rx="2.7" ry="1.3"/><ellipse cx="233.8" cy="247.2" rx="2.7" ry="1.3"/><ellipse cx="240.9" cy="250.0" rx="2.7" ry="1.3"/><ellipse cx="248.1" cy="252.7" rx="2.6" ry="1.3"/><ellipse cx="255.2" cy="255.5" rx="2.6" ry="1.3"/><ellipse cx="262.3" cy="258.3" rx="2.6" ry="1.3"/><ellipse cx="269.4" cy="261.0" rx="2.6" ry="1.3"/><ellipse cx="276.5" cy="263.8" rx="2.6" ry="1.3"/><ellipse cx="283.6" cy="266.6" rx="2.5" ry="1.3"/><ellipse cx="290.8" cy="269.3" rx="2.5" ry="1.3"/><ellipse cx="297.9" cy="272.1" rx="2.5" ry="1.3"/><ellipse cx="305.0" cy="274.9" rx="2.5" ry="1.2"/><ellipse cx="312.1" cy="277.6" rx="2.5" ry="1.2"/><ellipse cx="319.2" cy="280.4" rx="2.5" ry="1.2"/><ellipse cx="326.3" cy="283.2" rx="2.4" ry="1.2"/><ellipse cx="333.5" cy="285.9" rx="2.4" ry="1.2"/><ellipse cx="340.6" cy="288.7" rx="2.4" ry="1.2"/><ellipse cx="347.7" cy="291.5" rx="2.4" ry="1.2"/><ellipse cx="354.8" cy="294.2" rx="2.4" ry="1.2"/><ellipse cx="361.9" cy="297.0" rx="2.4" ry="1.2"/><ellipse cx="369.0" cy="299.8" rx="2.3" ry="1.2"/><ellipse cx="376.2" cy="302.5" rx="2.3" ry="1.2"/><ellipse cx="383.3" cy="305.3" rx="2.3" ry="1.1"/><ellipse cx="390.4" cy="308.1" rx="2.3" ry="1.1"/><ellipse cx="397.5" cy="310.8" rx="2.3" ry="1.1"/><ellipse cx="404.6" cy="313.6" rx="2.2" ry="1.1"/><ellipse cx="411.8" cy="316.3" rx="2.2" ry="1.1"/><ellipse cx="418.9" cy="319.1" rx="2.2" ry="1.1"/><ellipse cx="426.0" cy="321.9" rx="2.2" ry="1.1"/><ellipse cx="433.1" cy="324.6" rx="2.2" ry="1.1"/><ellipse cx="440.2" cy="327.4" rx="2.2" ry="1.1"/><ellipse cx="447.3" cy="330.2" rx="2.1" ry="1.1"/><ellipse cx="454.5" cy="332.9" rx="2.1" ry="1.1"/><ellipse cx="461.6" cy="335.7" rx="2.1" ry="1.0"/><ellipse cx="468.7" cy="338.5" rx="2.1" ry="1.0"/><ellipse cx="475.8" cy="341.2" rx="2.1" ry="1.0"/><ellipse cx="482.9" cy="344.0" rx="2.0" ry="1.0"/><ellipse cx="159.0" cy="212.6" rx="2.9" ry="1.4"/><ellipse cx="166.1" cy="215.4" rx="2.9" ry="1.4"/><ellipse cx="173.2" cy="218.2" rx="2.8" ry="1.4"/><ellipse cx="180.3" cy="221.0" rx="2.8" ry="1.4"/><ellipse cx="187.4" cy="223.8" rx="2.8" ry="1.4"/><ellipse cx="194.5" cy="226.6" rx="2.8" ry="1.4"/><ellipse cx="201.6" cy="229.4" rx="2.8" ry="1.4"/><ellipse cx="208.7" cy="232.2" rx="2.8" ry="1.4"/><ellipse cx="215.8" cy="235.0" rx="2.7" ry="1.4"/><ellipse cx="222.9" cy="237.8" rx="2.7" ry="1.4"/><ellipse cx="230.0" cy="240.6" rx="2.7" ry="1.4"/><ellipse cx="237.1" cy="243.4" rx="2.7" ry="1.3"/><ellipse cx="244.2" cy="246.2" rx="2.7" ry="1.3"/><ellipse cx="251.3" cy="249.0" rx="2.6" ry="1.3"/><ellipse cx="258.4" cy="251.8" rx="2.6" ry="1.3"/><ellipse cx="265.5" cy="254.6" rx="2.6" ry="1.3"/><ellipse cx="272.6" cy="257.4" rx="2.6" ry="1.3"/><ellipse cx="279.7" cy="260.2" rx="2.6" ry="1.3"/><ellipse cx="286.8" cy="263.0" rx="2.6" ry="1.3"/><ellipse cx="293.9" cy="265.8" rx="2.5" ry="1.3"/><ellipse cx="301.0" cy="268.6" rx="2.5" ry="1.3"/><ellipse cx="308.1" cy="271.4" rx="2.5" ry="1.3"/><ellipse cx="315.2" cy="274.2" rx="2.5" ry="1.2"/><ellipse cx="322.3" cy="277.0" rx="2.5" ry="1.2"/><ellipse cx="329.4" cy="279.8" rx="2.4" ry="1.2"/><ellipse cx="336.5" cy="282.6" rx="2.4" ry="1.2"/><ellipse cx="343.6" cy="285.4" rx="2.4" ry="1.2"/><ellipse cx="350.7" cy="288.2" rx="2.4" ry="1.2"/><ellipse cx="357.7" cy="291.0" rx="2.4" ry="1.2"/><ellipse cx="364.8" cy="293.8" rx="2.4" ry="1.2"/><ellipse cx="371.9" cy="296.6" rx="2.3" ry="1.2"/><ellipse cx="379.0" cy="299.4" rx="2.3" ry="1.2"/><ellipse cx="386.1" cy="302.2" rx="2.3" ry="1.2"/><ellipse cx="393.2" cy="305.0" rx="2.3" ry="1.1"/><ellipse cx="400.3" cy="307.8" rx="2.3" ry="1.1"/><ellipse cx="407.4" cy="310.6" rx="2.3" ry="1.1"/><ellipse cx="414.5" cy="313.4" rx="2.2" ry="1.1"/><ellipse cx="421.6" cy="316.2" rx="2.2" ry="1.1"/><ellipse cx="428.7" cy="319.1" rx="2.2" ry="1.1"/><ellipse cx="435.8" cy="321.9" rx="2.2" ry="1.1"/><ellipse cx="442.9" cy="324.7" rx="2.2" ry="1.1"/><ellipse cx="450.0" cy="327.5" rx="2.1" ry="1.1"/><ellipse cx="457.1" cy="330.3" rx="2.1" ry="1.1"/><ellipse cx="464.2" cy="333.1" rx="2.1" ry="1.1"/><ellipse cx="471.3" cy="335.9" rx="2.1" ry="1.0"/><ellipse cx="478.4" cy="338.7" rx="2.1" ry="1.0"/><ellipse cx="485.5" cy="341.5" rx="2.1" ry="1.0"/><ellipse cx="169.7" cy="211.1" rx="2.9" ry="1.4"/><ellipse cx="176.7" cy="214.0" rx="2.9" ry="1.4"/><ellipse cx="183.8" cy="216.8" rx="2.8" ry="1.4"/><ellipse cx="190.9" cy="219.7" rx="2.8" ry="1.4"/><ellipse cx="198.0" cy="222.5" rx="2.8" ry="1.4"/><ellipse cx="205.0" cy="225.3" rx="2.8" ry="1.4"/><ellipse cx="212.1" cy="228.2" rx="2.8" ry="1.4"/><ellipse cx="219.2" cy="231.0" rx="2.7" ry="1.4"/><ellipse cx="226.3" cy="233.9" rx="2.7" ry="1.4"/><ellipse cx="233.3" cy="236.7" rx="2.7" ry="1.4"/><ellipse cx="240.4" cy="239.5" rx="2.7" ry="1.3"/><ellipse cx="247.5" cy="242.4" rx="2.7" ry="1.3"/><ellipse cx="254.6" cy="245.2" rx="2.7" ry="1.3"/><ellipse cx="261.6" cy="248.1" rx="2.6" ry="1.3"/><ellipse cx="268.7" cy="250.9" rx="2.6" ry="1.3"/><ellipse cx="275.8" cy="253.7" rx="2.6" ry="1.3"/><ellipse cx="282.9" cy="256.6" rx="2.6" ry="1.3"/><ellipse cx="289.9" cy="259.4" rx="2.6" ry="1.3"/><ellipse cx="297.0" cy="262.2" rx="2.5" ry="1.3"/><ellipse cx="304.1" cy="265.1" rx="2.5" ry="1.3"/><ellipse cx="311.2" cy="267.9" rx="2.5" ry="1.3"/><ellipse cx="318.2" cy="270.8" rx="2.5" ry="1.2"/><ellipse cx="325.3" cy="273.6" rx="2.5" ry="1.2"/><ellipse cx="332.4" cy="276.4" rx="2.5" ry="1.2"/><ellipse cx="339.5" cy="279.3" rx="2.4" ry="1.2"/><ellipse cx="346.5" cy="282.1" rx="2.4" ry="1.2"/><ellipse cx="353.6" cy="285.0" rx="2.4" ry="1.2"/><ellipse cx="360.7" cy="287.8" rx="2.4" ry="1.2"/><ellipse cx="367.8" cy="290.6" rx="2.4" ry="1.2"/><ellipse cx="374.9" cy="293.5" rx="2.4" ry="1.2"/><ellipse cx="381.9" cy="296.3" rx="2.3" ry="1.2"/><ellipse cx="389.0" cy="299.2" rx="2.3" ry="1.2"/><ellipse cx="396.1" cy="302.0" rx="2.3" ry="1.1"/><ellipse cx="403.2" cy="304.8" rx="2.3" ry="1.1"/><ellipse cx="410.2" cy="307.7" rx="2.3" ry="1.1"/><ellipse cx="417.3" cy="310.5" rx="2.2" ry="1.1"/><ellipse cx="424.4" cy="313.3" rx="2.2" ry="1.1"/><ellipse cx="431.5" cy="316.2" rx="2.2" ry="1.1"/><ellipse cx="438.5" cy="319.0" rx="2.2" ry="1.1"/><ellipse cx="445.6" cy="321.9" rx="2.2" ry="1.1"/><ellipse cx="452.7" cy="324.7" rx="2.2" ry="1.1"/><ellipse cx="459.8" cy="327.5" rx="2.1" ry="1.1"/><ellipse cx="466.8" cy="330.4" rx="2.1" ry="1.1"/><ellipse cx="473.9" cy="333.2" rx="2.1" ry="1.0"/><ellipse cx="481.0" cy="336.1" rx="2.1" ry="1.0"/><ellipse cx="488.1" cy="338.9" rx="2.1" ry="1.0"/><ellipse cx="495.1" cy="341.7" rx="2.0" ry="1.0"/><ellipse cx="173.2" cy="206.9" rx="2.9" ry="1.4"/><ellipse cx="180.2" cy="209.8" rx="2.9" ry="1.4"/><ellipse cx="187.3" cy="212.6" rx="2.8" ry="1.4"/><ellipse cx="194.4" cy="215.5" rx="2.8" ry="1.4"/><ellipse cx="201.4" cy="218.4" rx="2.8" ry="1.4"/><ellipse cx="208.5" cy="221.3" rx="2.8" ry="1.4"/><ellipse cx="215.5" cy="224.1" rx="2.8" ry="1.4"/><ellipse cx="222.6" cy="227.0" rx="2.8" ry="1.4"/><ellipse cx="229.6" cy="229.9" rx="2.7" ry="1.4"/><ellipse cx="236.7" cy="232.8" rx="2.7" ry="1.4"/><ellipse cx="243.7" cy="235.7" rx="2.7" ry="1.4"/><ellipse cx="250.8" cy="238.5" rx="2.7" ry="1.3"/><ellipse cx="257.9" cy="241.4" rx="2.7" ry="1.3"/><ellipse cx="264.9" cy="244.3" rx="2.6" ry="1.3"/><ellipse cx="272.0" cy="247.2" rx="2.6" ry="1.3"/><ellipse cx="279.0" cy="250.0" rx="2.6" ry="1.3"/><ellipse cx="286.1" cy="252.9" rx="2.6" ry="1.3"/><ellipse cx="293.1" cy="255.8" rx="2.6" ry="1.3"/><ellipse cx="300.2" cy="258.7" rx="2.6" ry="1.3"/><ellipse cx="307.2" cy="261.5" rx="2.5" ry="1.3"/><ellipse cx="314.3" cy="264.4" rx="2.5" ry="1.3"/><ellipse cx="321.3" cy="267.3" rx="2.5" ry="1.3"/><ellipse cx="328.4" cy="270.2" rx="2.5" ry="1.2"/><ellipse cx="335.5" cy="273.0" rx="2.5" ry="1.2"/><ellipse cx="342.5" cy="275.9" rx="2.4" ry="1.2"/><ellipse cx="349.6" cy="278.8" rx="2.4" ry="1.2"/><ellipse cx="356.6" cy="281.7" rx="2.4" ry="1.2"/><ellipse cx="363.7" cy="284.5" rx="2.4" ry="1.2"/><ellipse cx="370.7" cy="287.4" rx="2.4" ry="1.2"/><ellipse cx="377.8" cy="290.3" rx="2.4" ry="1.2"/><ellipse cx="384.8" cy="293.2" rx="2.3" ry="1.2"/><ellipse cx="391.9" cy="296.0" rx="2.3" ry="1.2"/><ellipse cx="399.0" cy="298.9" rx="2.3" ry="1.2"/><ellipse cx="406.0" cy="301.8" rx="2.3" ry="1.1"/><ellipse cx="413.1" cy="304.7" rx="2.3" ry="1.1"/><ellipse cx="420.1" cy="307.5" rx="2.3" ry="1.1"/><ellipse cx="427.2" cy="310.4" rx="2.2" ry="1.1"/><ellipse cx="434.2" cy="313.3" rx="2.2" ry="1.1"/><ellipse cx="441.3" cy="316.2" rx="2.2" ry="1.1"/><ellipse cx="448.3" cy="319.0" rx="2.2" ry="1.1"/><ellipse cx="455.4" cy="321.9" rx="2.2" ry="1.1"/><ellipse cx="462.4" cy="324.8" rx="2.1" ry="1.1"/><ellipse cx="469.5" cy="327.7" rx="2.1" ry="1.1"/><ellipse cx="476.6" cy="330.5" rx="2.1" ry="1.1"/><ellipse cx="483.6" cy="333.4" rx="2.1" ry="1.0"/><ellipse cx="490.7" cy="336.3" rx="2.1" ry="1.0"/><ellipse cx="497.7" cy="339.2" rx="2.1" ry="1.0"/><ellipse cx="183.8" cy="205.5" rx="2.9" ry="1.4"/><ellipse cx="190.8" cy="208.4" rx="2.9" ry="1.4"/><ellipse cx="197.9" cy="211.3" rx="2.8" ry="1.4"/><ellipse cx="204.9" cy="214.3" rx="2.8" ry="1.4"/><ellipse cx="211.9" cy="217.2" rx="2.8" ry="1.4"/><ellipse cx="219.0" cy="220.1" rx="2.8" ry="1.4"/><ellipse cx="226.0" cy="223.0" rx="2.8" ry="1.4"/><ellipse cx="233.0" cy="225.9" rx="2.7" ry="1.4"/><ellipse cx="240.1" cy="228.8" rx="2.7" ry="1.4"/><ellipse cx="247.1" cy="231.7" rx="2.7" ry="1.4"/><ellipse cx="254.1" cy="234.6" rx="2.7" ry="1.3"/><ellipse cx="261.2" cy="237.6" rx="2.7" ry="1.3"/><ellipse cx="268.2" cy="240.5" rx="2.7" ry="1.3"/><ellipse cx="275.2" cy="243.4" rx="2.6" ry="1.3"/><ellipse cx="282.3" cy="246.3" rx="2.6" ry="1.3"/><ellipse cx="289.3" cy="249.2" rx="2.6" ry="1.3"/><ellipse cx="296.3" cy="252.1" rx="2.6" ry="1.3"/><ellipse cx="303.4" cy="255.0" rx="2.6" ry="1.3"/><ellipse cx="310.4" cy="257.9" rx="2.5" ry="1.3"/><ellipse cx="317.4" cy="260.8" rx="2.5" ry="1.3"/><ellipse cx="324.5" cy="263.8" rx="2.5" ry="1.3"/><ellipse cx="331.5" cy="266.7" rx="2.5" ry="1.2"/><ellipse cx="338.5" cy="269.6" rx="2.5" ry="1.2"/><ellipse cx="345.6" cy="272.5" rx="2.5" ry="1.2"/><ellipse cx="352.6" cy="275.4" rx="2.4" ry="1.2"/><ellipse cx="359.6" cy="278.3" rx="2.4" ry="1.2"/><ellipse cx="366.7" cy="281.2" rx="2.4" ry="1.2"/><ellipse cx="373.7" cy="284.1" rx="2.4" ry="1.2"/><ellipse cx="380.7" cy="287.0" rx="2.4" ry="1.2"/><ellipse cx="387.8" cy="290.0" rx="2.4" ry="1.2"/><ellipse cx="394.8" cy="292.9" rx="2.3" ry="1.2"/><ellipse cx="401.8" cy="295.8" rx="2.3" ry="1.2"/><ellipse cx="408.9" cy="298.7" rx="2.3" ry="1.1"/><ellipse cx="415.9" cy="301.6" rx="2.3" ry="1.1"/><ellipse cx="422.9" cy="304.5" rx="2.3" ry="1.1"/><ellipse cx="430.0" cy="307.4" rx="2.2" ry="1.1"/><ellipse cx="437.0" cy="310.3" rx="2.2" ry="1.1"/><ellipse cx="444.0" cy="313.3" rx="2.2" ry="1.1"/><ellipse cx="451.1" cy="316.2" rx="2.2" ry="1.1"/><ellipse cx="458.1" cy="319.1" rx="2.2" ry="1.1"/><ellipse cx="465.1" cy="322.0" rx="2.2" ry="1.1"/><ellipse cx="472.2" cy="324.9" rx="2.1" ry="1.1"/><ellipse cx="479.2" cy="327.8" rx="2.1" ry="1.1"/><ellipse cx="486.3" cy="330.7" rx="2.1" ry="1.0"/><ellipse cx="493.3" cy="333.6" rx="2.1" ry="1.0"/><ellipse cx="500.3" cy="336.5" rx="2.1" ry="1.0"/><ellipse cx="507.4" cy="339.5" rx="2.0" ry="1.0"/><ellipse cx="187.3" cy="201.2" rx="2.9" ry="1.4"/><ellipse cx="194.4" cy="204.2" rx="2.9" ry="1.4"/><ellipse cx="201.4" cy="207.1" rx="2.8" ry="1.4"/><ellipse cx="208.4" cy="210.1" rx="2.8" ry="1.4"/><ellipse cx="215.4" cy="213.0" rx="2.8" ry="1.4"/><ellipse cx="222.4" cy="216.0" rx="2.8" ry="1.4"/><ellipse cx="229.4" cy="218.9" rx="2.8" ry="1.4"/><ellipse cx="236.4" cy="221.9" rx="2.8" ry="1.4"/><ellipse cx="243.4" cy="224.8" rx="2.7" ry="1.4"/><ellipse cx="250.5" cy="227.8" rx="2.7" ry="1.4"/><ellipse cx="257.5" cy="230.7" rx="2.7" ry="1.4"/><ellipse cx="264.5" cy="233.7" rx="2.7" ry="1.3"/><ellipse cx="271.5" cy="236.6" rx="2.7" ry="1.3"/><ellipse cx="278.5" cy="239.6" rx="2.6" ry="1.3"/><ellipse cx="285.5" cy="242.5" rx="2.6" ry="1.3"/><ellipse cx="292.5" cy="245.5" rx="2.6" ry="1.3"/><ellipse cx="299.6" cy="248.4" rx="2.6" ry="1.3"/><ellipse cx="306.6" cy="251.4" rx="2.6" ry="1.3"/><ellipse cx="313.6" cy="254.3" rx="2.6" ry="1.3"/><ellipse cx="320.6" cy="257.2" rx="2.5" ry="1.3"/><ellipse cx="327.6" cy="260.2" rx="2.5" ry="1.3"/><ellipse cx="334.6" cy="263.1" rx="2.5" ry="1.3"/><ellipse cx="341.6" cy="266.1" rx="2.5" ry="1.2"/><ellipse cx="348.6" cy="269.0" rx="2.5" ry="1.2"/><ellipse cx="355.7" cy="272.0" rx="2.4" ry="1.2"/><ellipse cx="362.7" cy="274.9" rx="2.4" ry="1.2"/><ellipse cx="369.7" cy="277.9" rx="2.4" ry="1.2"/><ellipse cx="376.7" cy="280.8" rx="2.4" ry="1.2"/><ellipse cx="383.7" cy="283.8" rx="2.4" ry="1.2"/><ellipse cx="390.7" cy="286.7" rx="2.4" ry="1.2"/><ellipse cx="397.7" cy="289.7" rx="2.3" ry="1.2"/><ellipse cx="404.8" cy="292.6" rx="2.3" ry="1.2"/><ellipse cx="411.8" cy="295.6" rx="2.3" ry="1.2"/><ellipse cx="418.8" cy="298.5" rx="2.3" ry="1.1"/><ellipse cx="425.8" cy="301.5" rx="2.3" ry="1.1"/><ellipse cx="432.8" cy="304.4" rx="2.3" ry="1.1"/><ellipse cx="439.8" cy="307.4" rx="2.2" ry="1.1"/><ellipse cx="446.8" cy="310.3" rx="2.2" ry="1.1"/><ellipse cx="453.8" cy="313.3" rx="2.2" ry="1.1"/><ellipse cx="460.9" cy="316.2" rx="2.2" ry="1.1"/><ellipse cx="467.9" cy="319.2" rx="2.2" ry="1.1"/><ellipse cx="474.9" cy="322.1" rx="2.1" ry="1.1"/><ellipse cx="481.9" cy="325.1" rx="2.1" ry="1.1"/><ellipse cx="488.9" cy="328.0" rx="2.1" ry="1.1"/><ellipse cx="495.9" cy="331.0" rx="2.1" ry="1.0"/><ellipse cx="502.9" cy="333.9" rx="2.1" ry="1.0"/><ellipse cx="510.0" cy="336.8" rx="2.1" ry="1.0"/><ellipse cx="197.9" cy="199.9" rx="2.9" ry="1.4"/><ellipse cx="204.9" cy="202.9" rx="2.9" ry="1.4"/><ellipse cx="211.9" cy="205.9" rx="2.8" ry="1.4"/><ellipse cx="218.9" cy="208.8" rx="2.8" ry="1.4"/><ellipse cx="225.9" cy="211.8" rx="2.8" ry="1.4"/><ellipse cx="232.9" cy="214.8" rx="2.8" ry="1.4"/><ellipse cx="239.9" cy="217.8" rx="2.8" ry="1.4"/><ellipse cx="246.9" cy="220.8" rx="2.7" ry="1.4"/><ellipse cx="253.9" cy="223.8" rx="2.7" ry="1.4"/><ellipse cx="260.8" cy="226.8" rx="2.7" ry="1.4"/><ellipse cx="267.8" cy="229.7" rx="2.7" ry="1.3"/><ellipse cx="274.8" cy="232.7" rx="2.7" ry="1.3"/><ellipse cx="281.8" cy="235.7" rx="2.7" ry="1.3"/><ellipse cx="288.8" cy="238.7" rx="2.6" ry="1.3"/><ellipse cx="295.8" cy="241.7" rx="2.6" ry="1.3"/><ellipse cx="302.8" cy="244.7" rx="2.6" ry="1.3"/><ellipse cx="309.8" cy="247.6" rx="2.6" ry="1.3"/><ellipse cx="316.8" cy="250.6" rx="2.6" ry="1.3"/><ellipse cx="323.8" cy="253.6" rx="2.5" ry="1.3"/><ellipse cx="330.8" cy="256.6" rx="2.5" ry="1.3"/><ellipse cx="337.8" cy="259.6" rx="2.5" ry="1.3"/><ellipse cx="344.8" cy="262.6" rx="2.5" ry="1.2"/><ellipse cx="351.7" cy="265.6" rx="2.5" ry="1.2"/><ellipse cx="358.7" cy="268.5" rx="2.5" ry="1.2"/><ellipse cx="365.7" cy="271.5" rx="2.4" ry="1.2"/><ellipse cx="372.7" cy="274.5" rx="2.4" ry="1.2"/><ellipse cx="379.7" cy="277.5" rx="2.4" ry="1.2"/><ellipse cx="386.7" cy="280.5" rx="2.4" ry="1.2"/><ellipse cx="393.7" cy="283.5" rx="2.4" ry="1.2"/><ellipse cx="400.7" cy="286.4" rx="2.4" ry="1.2"/><ellipse cx="407.7" cy="289.4" rx="2.3" ry="1.2"/><ellipse cx="414.7" cy="292.4" rx="2.3" ry="1.2"/><ellipse cx="421.7" cy="295.4" rx="2.3" ry="1.1"/><ellipse cx="428.7" cy="298.4" rx="2.3" ry="1.1"/><ellipse cx="435.7" cy="301.4" rx="2.3" ry="1.1"/><ellipse cx="442.7" cy="304.4" rx="2.2" ry="1.1"/><ellipse cx="449.6" cy="307.3" rx="2.2" ry="1.1"/><ellipse cx="456.6" cy="310.3" rx="2.2" ry="1.1"/><ellipse cx="463.6" cy="313.3" rx="2.2" ry="1.1"/><ellipse cx="470.6" cy="316.3" rx="2.2" ry="1.1"/><ellipse cx="477.6" cy="319.3" rx="2.2" ry="1.1"/><ellipse cx="484.6" cy="322.3" rx="2.1" ry="1.1"/><ellipse cx="491.6" cy="325.2" rx="2.1" ry="1.1"/><ellipse cx="498.6" cy="328.2" rx="2.1" ry="1.0"/><ellipse cx="505.6" cy="331.2" rx="2.1" ry="1.0"/><ellipse cx="512.6" cy="334.2" rx="2.1" ry="1.0"/><ellipse cx="519.6" cy="337.2" rx="2.0" ry="1.0"/><ellipse cx="201.5" cy="195.6" rx="2.9" ry="1.4"/><ellipse cx="208.5" cy="198.6" rx="2.9" ry="1.4"/><ellipse cx="215.4" cy="201.6" rx="2.8" ry="1.4"/><ellipse cx="222.4" cy="204.6" rx="2.8" ry="1.4"/><ellipse cx="229.4" cy="207.7" rx="2.8" ry="1.4"/><ellipse cx="236.3" cy="210.7" rx="2.8" ry="1.4"/><ellipse cx="243.3" cy="213.7" rx="2.8" ry="1.4"/><ellipse cx="250.3" cy="216.7" rx="2.8" ry="1.4"/><ellipse cx="257.3" cy="219.7" rx="2.7" ry="1.4"/><ellipse cx="264.2" cy="222.8" rx="2.7" ry="1.4"/><ellipse cx="271.2" cy="225.8" rx="2.7" ry="1.4"/><ellipse cx="278.2" cy="228.8" rx="2.7" ry="1.3"/><ellipse cx="285.2" cy="231.8" rx="2.7" ry="1.3"/><ellipse cx="292.1" cy="234.8" rx="2.6" ry="1.3"/><ellipse cx="299.1" cy="237.9" rx="2.6" ry="1.3"/><ellipse cx="306.1" cy="240.9" rx="2.6" ry="1.3"/><ellipse cx="313.0" cy="243.9" rx="2.6" ry="1.3"/><ellipse cx="320.0" cy="246.9" rx="2.6" ry="1.3"/><ellipse cx="327.0" cy="249.9" rx="2.6" ry="1.3"/><ellipse cx="334.0" cy="253.0" rx="2.5" ry="1.3"/><ellipse cx="340.9" cy="256.0" rx="2.5" ry="1.3"/><ellipse cx="347.9" cy="259.0" rx="2.5" ry="1.3"/><ellipse cx="354.9" cy="262.0" rx="2.5" ry="1.2"/><ellipse cx="361.8" cy="265.1" rx="2.5" ry="1.2"/><ellipse cx="368.8" cy="268.1" rx="2.4" ry="1.2"/><ellipse cx="375.8" cy="271.1" rx="2.4" ry="1.2"/><ellipse cx="382.8" cy="274.1" rx="2.4" ry="1.2"/><ellipse cx="389.7" cy="277.1" rx="2.4" ry="1.2"/><ellipse cx="396.7" cy="280.2" rx="2.4" ry="1.2"/><ellipse cx="403.7" cy="283.2" rx="2.4" ry="1.2"/><ellipse cx="410.6" cy="286.2" rx="2.3" ry="1.2"/><ellipse cx="417.6" cy="289.2" rx="2.3" ry="1.2"/><ellipse cx="424.6" cy="292.2" rx="2.3" ry="1.2"/><ellipse cx="431.6" cy="295.3" rx="2.3" ry="1.1"/><ellipse cx="438.5" cy="298.3" rx="2.3" ry="1.1"/><ellipse cx="445.5" cy="301.3" rx="2.3" ry="1.1"/><ellipse cx="452.5" cy="304.3" rx="2.2" ry="1.1"/><ellipse cx="459.4" cy="307.3" rx="2.2" ry="1.1"/><ellipse cx="466.4" cy="310.4" rx="2.2" ry="1.1"/><ellipse cx="473.4" cy="313.4" rx="2.2" ry="1.1"/><ellipse cx="480.4" cy="316.4" rx="2.2" ry="1.1"/><ellipse cx="487.3" cy="319.4" rx="2.1" ry="1.1"/><ellipse cx="494.3" cy="322.5" rx="2.1" ry="1.1"/><ellipse cx="501.3" cy="325.5" rx="2.1" ry="1.1"/><ellipse cx="508.2" cy="328.5" rx="2.1" ry="1.0"/><ellipse cx="515.2" cy="331.5" rx="2.1" ry="1.0"/><ellipse cx="522.2" cy="334.5" rx="2.1" ry="1.0"/><ellipse cx="212.0" cy="194.3" rx="2.9" ry="1.4"/><ellipse cx="219.0" cy="197.3" rx="2.9" ry="1.4"/><ellipse cx="225.9" cy="200.4" rx="2.8" ry="1.4"/><ellipse cx="232.9" cy="203.4" rx="2.8" ry="1.4"/><ellipse cx="239.8" cy="206.5" rx="2.8" ry="1.4"/><ellipse cx="246.8" cy="209.6" rx="2.8" ry="1.4"/><ellipse cx="253.7" cy="212.6" rx="2.8" ry="1.4"/><ellipse cx="260.7" cy="215.7" rx="2.7" ry="1.4"/><ellipse cx="267.6" cy="218.7" rx="2.7" ry="1.4"/><ellipse cx="274.6" cy="221.8" rx="2.7" ry="1.4"/><ellipse cx="281.6" cy="224.8" rx="2.7" ry="1.3"/><ellipse cx="288.5" cy="227.9" rx="2.7" ry="1.3"/><ellipse cx="295.5" cy="231.0" rx="2.7" ry="1.3"/><ellipse cx="302.4" cy="234.0" rx="2.6" ry="1.3"/><ellipse cx="309.4" cy="237.1" rx="2.6" ry="1.3"/><ellipse cx="316.3" cy="240.1" rx="2.6" ry="1.3"/><ellipse cx="323.3" cy="243.2" rx="2.6" ry="1.3"/><ellipse cx="330.2" cy="246.2" rx="2.6" ry="1.3"/><ellipse cx="337.2" cy="249.3" rx="2.5" ry="1.3"/><ellipse cx="344.1" cy="252.4" rx="2.5" ry="1.3"/><ellipse cx="351.1" cy="255.4" rx="2.5" ry="1.3"/><ellipse cx="358.0" cy="258.5" rx="2.5" ry="1.2"/><ellipse cx="365.0" cy="261.5" rx="2.5" ry="1.2"/><ellipse cx="371.9" cy="264.6" rx="2.5" ry="1.2"/><ellipse cx="378.9" cy="267.6" rx="2.4" ry="1.2"/><ellipse cx="385.8" cy="270.7" rx="2.4" ry="1.2"/><ellipse cx="392.8" cy="273.8" rx="2.4" ry="1.2"/><ellipse cx="399.7" cy="276.8" rx="2.4" ry="1.2"/><ellipse cx="406.7" cy="279.9" rx="2.4" ry="1.2"/><ellipse cx="413.6" cy="282.9" rx="2.4" ry="1.2"/><ellipse cx="420.6" cy="286.0" rx="2.3" ry="1.2"/><ellipse cx="427.5" cy="289.0" rx="2.3" ry="1.2"/><ellipse cx="434.5" cy="292.1" rx="2.3" ry="1.1"/><ellipse cx="441.4" cy="295.2" rx="2.3" ry="1.1"/><ellipse cx="448.4" cy="298.2" rx="2.3" ry="1.1"/><ellipse cx="455.3" cy="301.3" rx="2.2" ry="1.1"/><ellipse cx="462.3" cy="304.3" rx="2.2" ry="1.1"/><ellipse cx="469.2" cy="307.4" rx="2.2" ry="1.1"/><ellipse cx="476.2" cy="310.5" rx="2.2" ry="1.1"/><ellipse cx="483.1" cy="313.5" rx="2.2" ry="1.1"/><ellipse cx="490.1" cy="316.6" rx="2.2" ry="1.1"/><ellipse cx="497.0" cy="319.6" rx="2.1" ry="1.1"/><ellipse cx="504.0" cy="322.7" rx="2.1" ry="1.1"/><ellipse cx="510.9" cy="325.7" rx="2.1" ry="1.0"/><ellipse cx="517.9" cy="328.8" rx="2.1" ry="1.0"/><ellipse cx="524.8" cy="331.9" rx="2.1" ry="1.0"/><ellipse cx="531.8" cy="334.9" rx="2.0" ry="1.0"/><ellipse cx="215.6" cy="189.9" rx="2.9" ry="1.4"/><ellipse cx="222.6" cy="193.0" rx="2.9" ry="1.4"/><ellipse cx="229.5" cy="196.1" rx="2.8" ry="1.4"/><ellipse cx="236.4" cy="199.2" rx="2.8" ry="1.4"/><ellipse cx="243.4" cy="202.3" rx="2.8" ry="1.4"/><ellipse cx="250.3" cy="205.4" rx="2.8" ry="1.4"/><ellipse cx="257.2" cy="208.5" rx="2.8" ry="1.4"/><ellipse cx="264.2" cy="211.6" rx="2.8" ry="1.4"/><ellipse cx="271.1" cy="214.7" rx="2.7" ry="1.4"/><ellipse cx="278.0" cy="217.8" rx="2.7" ry="1.4"/><ellipse cx="284.9" cy="220.8" rx="2.7" ry="1.4"/><ellipse cx="291.9" cy="223.9" rx="2.7" ry="1.3"/><ellipse cx="298.8" cy="227.0" rx="2.7" ry="1.3"/><ellipse cx="305.7" cy="230.1" rx="2.6" ry="1.3"/><ellipse cx="312.7" cy="233.2" rx="2.6" ry="1.3"/><ellipse cx="319.6" cy="236.3" rx="2.6" ry="1.3"/><ellipse cx="326.5" cy="239.4" rx="2.6" ry="1.3"/><ellipse cx="333.5" cy="242.5" rx="2.6" ry="1.3"/><ellipse cx="340.4" cy="245.6" rx="2.6" ry="1.3"/><ellipse cx="347.3" cy="248.7" rx="2.5" ry="1.3"/><ellipse cx="354.2" cy="251.8" rx="2.5" ry="1.3"/><ellipse cx="361.2" cy="254.9" rx="2.5" ry="1.3"/><ellipse cx="368.1" cy="258.0" rx="2.5" ry="1.2"/><ellipse cx="375.0" cy="261.1" rx="2.5" ry="1.2"/><ellipse cx="382.0" cy="264.2" rx="2.4" ry="1.2"/><ellipse cx="388.9" cy="267.3" rx="2.4" ry="1.2"/><ellipse cx="395.8" cy="270.3" rx="2.4" ry="1.2"/><ellipse cx="402.8" cy="273.4" rx="2.4" ry="1.2"/><ellipse cx="409.7" cy="276.5" rx="2.4" ry="1.2"/><ellipse cx="416.6" cy="279.6" rx="2.4" ry="1.2"/><ellipse cx="423.5" cy="282.7" rx="2.3" ry="1.2"/><ellipse cx="430.5" cy="285.8" rx="2.3" ry="1.2"/><ellipse cx="437.4" cy="288.9" rx="2.3" ry="1.2"/><ellipse cx="444.3" cy="292.0" rx="2.3" ry="1.1"/><ellipse cx="451.3" cy="295.1" rx="2.3" ry="1.1"/><ellipse cx="458.2" cy="298.2" rx="2.3" ry="1.1"/><ellipse cx="465.1" cy="301.3" rx="2.2" ry="1.1"/><ellipse cx="472.1" cy="304.4" rx="2.2" ry="1.1"/><ellipse cx="479.0" cy="307.5" rx="2.2" ry="1.1"/><ellipse cx="485.9" cy="310.6" rx="2.2" ry="1.1"/><ellipse cx="492.8" cy="313.7" rx="2.2" ry="1.1"/><ellipse cx="499.8" cy="316.8" rx="2.1" ry="1.1"/><ellipse cx="506.7" cy="319.8" rx="2.1" ry="1.1"/><ellipse cx="513.6" cy="322.9" rx="2.1" ry="1.1"/><ellipse cx="520.6" cy="326.0" rx="2.1" ry="1.0"/><ellipse cx="527.5" cy="329.1" rx="2.1" ry="1.0"/><ellipse cx="534.4" cy="332.2" rx="2.1" ry="1.0"/><ellipse cx="226.2" cy="188.6" rx="2.9" ry="1.4"/><ellipse cx="233.1" cy="191.8" rx="2.9" ry="1.4"/><ellipse cx="240.0" cy="194.9" rx="2.8" ry="1.4"/><ellipse cx="246.9" cy="198.0" rx="2.8" ry="1.4"/><ellipse cx="253.8" cy="201.2" rx="2.8" ry="1.4"/><ellipse cx="260.7" cy="204.3" rx="2.8" ry="1.4"/><ellipse cx="267.6" cy="207.4" rx="2.8" ry="1.4"/><ellipse cx="274.5" cy="210.6" rx="2.7" ry="1.4"/><ellipse cx="281.4" cy="213.7" rx="2.7" ry="1.4"/><ellipse cx="288.4" cy="216.8" rx="2.7" ry="1.4"/><ellipse cx="295.3" cy="219.9" rx="2.7" ry="1.3"/><ellipse cx="302.2" cy="223.1" rx="2.7" ry="1.3"/><ellipse cx="309.1" cy="226.2" rx="2.7" ry="1.3"/><ellipse cx="316.0" cy="229.3" rx="2.6" ry="1.3"/><ellipse cx="322.9" cy="232.5" rx="2.6" ry="1.3"/><ellipse cx="329.8" cy="235.6" rx="2.6" ry="1.3"/><ellipse cx="336.7" cy="238.7" rx="2.6" ry="1.3"/><ellipse cx="343.6" cy="241.9" rx="2.6" ry="1.3"/><ellipse cx="350.5" cy="245.0" rx="2.5" ry="1.3"/><ellipse cx="357.4" cy="248.1" rx="2.5" ry="1.3"/><ellipse cx="364.4" cy="251.2" rx="2.5" ry="1.3"/><ellipse cx="371.3" cy="254.4" rx="2.5" ry="1.2"/><ellipse cx="378.2" cy="257.5" rx="2.5" ry="1.2"/><ellipse cx="385.1" cy="260.6" rx="2.5" ry="1.2"/><ellipse cx="392.0" cy="263.8" rx="2.4" ry="1.2"/><ellipse cx="398.9" cy="266.9" rx="2.4" ry="1.2"/><ellipse cx="405.8" cy="270.0" rx="2.4" ry="1.2"/><ellipse cx="412.7" cy="273.2" rx="2.4" ry="1.2"/><ellipse cx="419.6" cy="276.3" rx="2.4" ry="1.2"/><ellipse cx="426.5" cy="279.4" rx="2.4" ry="1.2"/><ellipse cx="433.4" cy="282.6" rx="2.3" ry="1.2"/><ellipse cx="440.4" cy="285.7" rx="2.3" ry="1.2"/><ellipse cx="447.3" cy="288.8" rx="2.3" ry="1.1"/><ellipse cx="454.2" cy="291.9" rx="2.3" ry="1.1"/><ellipse cx="461.1" cy="295.1" rx="2.3" ry="1.1"/><ellipse cx="468.0" cy="298.2" rx="2.2" ry="1.1"/><ellipse cx="474.9" cy="301.3" rx="2.2" ry="1.1"/><ellipse cx="481.8" cy="304.5" rx="2.2" ry="1.1"/><ellipse cx="488.7" cy="307.6" rx="2.2" ry="1.1"/><ellipse cx="495.6" cy="310.7" rx="2.2" ry="1.1"/><ellipse cx="502.5" cy="313.9" rx="2.2" ry="1.1"/><ellipse cx="509.4" cy="317.0" rx="2.1" ry="1.1"/><ellipse cx="516.4" cy="320.1" rx="2.1" ry="1.1"/><ellipse cx="523.3" cy="323.2" rx="2.1" ry="1.0"/><ellipse cx="530.2" cy="326.4" rx="2.1" ry="1.0"/><ellipse cx="537.1" cy="329.5" rx="2.1" ry="1.0"/><ellipse cx="544.0" cy="332.6" rx="2.0" ry="1.0"/></g>
<g fill="#eeeeee" opacity="1"><ellipse cx="244.9" cy="178.2" rx="2.9" ry="1.4"/><ellipse cx="251.8" cy="181.4" rx="2.9" ry="1.4"/><ellipse cx="258.6" cy="184.7" rx="2.8" ry="1.4"/><ellipse cx="265.5" cy="187.9" rx="2.8" ry="1.4"/><ellipse cx="272.3" cy="191.2" rx="2.8" ry="1.4"/><ellipse cx="279.1" cy="194.4" rx="2.8" ry="1.3"/><ellipse cx="286.0" cy="197.7" rx="2.8" ry="1.3"/><ellipse cx="292.8" cy="200.9" rx="2.8" ry="1.3"/><ellipse cx="299.7" cy="204.1" rx="2.7" ry="1.3"/><ellipse cx="306.5" cy="207.4" rx="2.7" ry="1.3"/><ellipse cx="313.4" cy="210.6" rx="2.7" ry="1.3"/><ellipse cx="320.2" cy="213.9" rx="2.7" ry="1.3"/><ellipse cx="327.1" cy="217.1" rx="2.7" ry="1.3"/><ellipse cx="333.9" cy="220.4" rx="2.6" ry="1.3"/><ellipse cx="340.7" cy="223.6" rx="2.6" ry="1.3"/><ellipse cx="347.6" cy="226.9" rx="2.6" ry="1.3"/><ellipse cx="354.4" cy="230.1" rx="2.6" ry="1.3"/><ellipse cx="361.3" cy="233.3" rx="2.6" ry="1.2"/><ellipse cx="368.1" cy="236.6" rx="2.6" ry="1.2"/><ellipse cx="375.0" cy="239.8" rx="2.5" ry="1.2"/><ellipse cx="381.8" cy="243.1" rx="2.5" ry="1.2"/><ellipse cx="388.6" cy="246.3" rx="2.5" ry="1.2"/><ellipse cx="395.5" cy="249.6" rx="2.5" ry="1.2"/><ellipse cx="402.3" cy="252.8" rx="2.5" ry="1.2"/><ellipse cx="409.2" cy="256.1" rx="2.4" ry="1.2"/><ellipse cx="416.0" cy="259.3" rx="2.4" ry="1.2"/><ellipse cx="422.9" cy="262.5" rx="2.4" ry="1.2"/><ellipse cx="429.7" cy="265.8" rx="2.4" ry="1.2"/><ellipse cx="436.6" cy="269.0" rx="2.4" ry="1.1"/><ellipse cx="443.4" cy="272.3" rx="2.4" ry="1.1"/><ellipse cx="450.2" cy="275.5" rx="2.3" ry="1.1"/><ellipse cx="457.1" cy="278.8" rx="2.3" ry="1.1"/><ellipse cx="463.9" cy="282.0" rx="2.3" ry="1.1"/><ellipse cx="470.8" cy="285.3" rx="2.3" ry="1.1"/><ellipse cx="477.6" cy="288.5" rx="2.3" ry="1.1"/><ellipse cx="484.5" cy="291.8" rx="2.3" ry="1.1"/><ellipse cx="491.3" cy="295.0" rx="2.2" ry="1.1"/><ellipse cx="498.2" cy="298.2" rx="2.2" ry="1.1"/><ellipse cx="505.0" cy="301.5" rx="2.2" ry="1.1"/><ellipse cx="511.8" cy="304.7" rx="2.2" ry="1.1"/><ellipse cx="518.7" cy="308.0" rx="2.2" ry="1.0"/><ellipse cx="525.5" cy="311.2" rx="2.1" ry="1.0"/><ellipse cx="532.4" cy="314.5" rx="2.1" ry="1.0"/><ellipse cx="539.2" cy="317.7" rx="2.1" ry="1.0"/><ellipse cx="546.1" cy="321.0" rx="2.1" ry="1.0"/><ellipse cx="552.9" cy="324.2" rx="2.1" ry="1.0"/><ellipse cx="559.7" cy="327.4" rx="2.1" ry="1.0"/><ellipse cx="254.1" cy="177.5" rx="2.9" ry="1.4"/><ellipse cx="260.9" cy="180.8" rx="2.9" ry="1.4"/><ellipse cx="267.8" cy="184.1" rx="2.8" ry="1.4"/><ellipse cx="274.6" cy="187.3" rx="2.8" ry="1.4"/><ellipse cx="281.4" cy="190.6" rx="2.8" ry="1.4"/><ellipse cx="288.2" cy="193.9" rx="2.8" ry="1.3"/><ellipse cx="295.1" cy="197.2" rx="2.8" ry="1.3"/><ellipse cx="301.9" cy="200.4" rx="2.7" ry="1.3"/><ellipse cx="308.7" cy="203.7" rx="2.7" ry="1.3"/><ellipse cx="315.5" cy="207.0" rx="2.7" ry="1.3"/><ellipse cx="322.4" cy="210.3" rx="2.7" ry="1.3"/><ellipse cx="329.2" cy="213.5" rx="2.7" ry="1.3"/><ellipse cx="336.0" cy="216.8" rx="2.7" ry="1.3"/><ellipse cx="342.8" cy="220.1" rx="2.6" ry="1.3"/><ellipse cx="349.7" cy="223.4" rx="2.6" ry="1.3"/><ellipse cx="356.5" cy="226.6" rx="2.6" ry="1.3"/><ellipse cx="363.3" cy="229.9" rx="2.6" ry="1.2"/><ellipse cx="370.2" cy="233.2" rx="2.6" ry="1.2"/><ellipse cx="377.0" cy="236.5" rx="2.5" ry="1.2"/><ellipse cx="383.8" cy="239.7" rx="2.5" ry="1.2"/><ellipse cx="390.6" cy="243.0" rx="2.5" ry="1.2"/><ellipse cx="397.5" cy="246.3" rx="2.5" ry="1.2"/><ellipse cx="404.3" cy="249.6" rx="2.5" ry="1.2"/><ellipse cx="411.1" cy="252.8" rx="2.5" ry="1.2"/><ellipse cx="417.9" cy="256.1" rx="2.4" ry="1.2"/><ellipse cx="424.8" cy="259.4" rx="2.4" ry="1.2"/><ellipse cx="431.6" cy="262.7" rx="2.4" ry="1.2"/><ellipse cx="438.4" cy="265.9" rx="2.4" ry="1.2"/><ellipse cx="445.3" cy="269.2" rx="2.4" ry="1.1"/><ellipse cx="452.1" cy="272.5" rx="2.4" ry="1.1"/><ellipse cx="458.9" cy="275.7" rx="2.3" ry="1.1"/><ellipse cx="465.7" cy="279.0" rx="2.3" ry="1.1"/><ellipse cx="472.6" cy="282.3" rx="2.3" ry="1.1"/><ellipse cx="479.4" cy="285.6" rx="2.3" ry="1.1"/><ellipse cx="486.2" cy="288.8" rx="2.3" ry="1.1"/><ellipse cx="493.0" cy="292.1" rx="2.2" ry="1.1"/><ellipse cx="499.9" cy="295.4" rx="2.2" ry="1.1"/><ellipse cx="506.7" cy="298.7" rx="2.2" ry="1.1"/><ellipse cx="513.5" cy="301.9" rx="2.2" ry="1.1"/><ellipse cx="520.4" cy="305.2" rx="2.2" ry="1.0"/><ellipse cx="527.2" cy="308.5" rx="2.2" ry="1.0"/><ellipse cx="534.0" cy="311.8" rx="2.1" ry="1.0"/><ellipse cx="540.8" cy="315.0" rx="2.1" ry="1.0"/><ellipse cx="547.7" cy="318.3" rx="2.1" ry="1.0"/><ellipse cx="554.5" cy="321.6" rx="2.1" ry="1.0"/><ellipse cx="561.3" cy="324.9" rx="2.1" ry="1.0"/><ellipse cx="568.1" cy="328.1" rx="2.0" ry="1.0"/><ellipse cx="256.4" cy="173.6" rx="2.9" ry="1.4"/><ellipse cx="263.3" cy="176.9" rx="2.9" ry="1.4"/><ellipse cx="270.1" cy="180.2" rx="2.8" ry="1.4"/><ellipse cx="276.9" cy="183.5" rx="2.8" ry="1.4"/><ellipse cx="283.7" cy="186.8" rx="2.8" ry="1.4"/><ellipse cx="290.5" cy="190.1" rx="2.8" ry="1.3"/><ellipse cx="297.3" cy="193.4" rx="2.8" ry="1.3"/><ellipse cx="304.1" cy="196.7" rx="2.8" ry="1.3"/><ellipse cx="310.9" cy="200.0" rx="2.7" ry="1.3"/><ellipse cx="317.7" cy="203.3" rx="2.7" ry="1.3"/><ellipse cx="324.5" cy="206.6" rx="2.7" ry="1.3"/><ellipse cx="331.4" cy="209.9" rx="2.7" ry="1.3"/><ellipse cx="338.2" cy="213.2" rx="2.7" ry="1.3"/><ellipse cx="345.0" cy="216.5" rx="2.6" ry="1.3"/><ellipse cx="351.8" cy="219.8" rx="2.6" ry="1.3"/><ellipse cx="358.6" cy="223.1" rx="2.6" ry="1.3"/><ellipse cx="365.4" cy="226.4" rx="2.6" ry="1.3"/><ellipse cx="372.2" cy="229.7" rx="2.6" ry="1.2"/><ellipse cx="379.0" cy="233.1" rx="2.6" ry="1.2"/><ellipse cx="385.8" cy="236.4" rx="2.5" ry="1.2"/><ellipse cx="392.6" cy="239.7" rx="2.5" ry="1.2"/><ellipse cx="399.5" cy="243.0" rx="2.5" ry="1.2"/><ellipse cx="406.3" cy="246.3" rx="2.5" ry="1.2"/><ellipse cx="413.1" cy="249.6" rx="2.5" ry="1.2"/><ellipse cx="419.9" cy="252.9" rx="2.4" ry="1.2"/><ellipse cx="426.7" cy="256.2" rx="2.4" ry="1.2"/><ellipse cx="433.5" cy="259.5" rx="2.4" ry="1.2"/><ellipse cx="440.3" cy="262.8" rx="2.4" ry="1.2"/><ellipse cx="447.1" cy="266.1" rx="2.4" ry="1.1"/><ellipse cx="453.9" cy="269.4" rx="2.4" ry="1.1"/><ellipse cx="460.7" cy="272.7" rx="2.3" ry="1.1"/><ellipse cx="467.6" cy="276.0" rx="2.3" ry="1.1"/><ellipse cx="474.4" cy="279.3" rx="2.3" ry="1.1"/><ellipse cx="481.2" cy="282.6" rx="2.3" ry="1.1"/><ellipse cx="488.0" cy="285.9" rx="2.3" ry="1.1"/><ellipse cx="494.8" cy="289.2" rx="2.3" ry="1.1"/><ellipse cx="501.6" cy="292.5" rx="2.2" ry="1.1"/><ellipse cx="508.4" cy="295.8" rx="2.2" ry="1.1"/><ellipse cx="515.2" cy="299.1" rx="2.2" ry="1.1"/><ellipse cx="522.0" cy="302.4" rx="2.2" ry="1.1"/><ellipse cx="528.8" cy="305.7" rx="2.2" ry="1.0"/><ellipse cx="535.7" cy="309.0" rx="2.1" ry="1.0"/><ellipse cx="542.5" cy="312.3" rx="2.1" ry="1.0"/><ellipse cx="549.3" cy="315.6" rx="2.1" ry="1.0"/><ellipse cx="556.1" cy="319.0" rx="2.1" ry="1.0"/><ellipse cx="562.9" cy="322.3" rx="2.1" ry="1.0"/><ellipse cx="569.7" cy="325.6" rx="2.1" ry="1.0"/><ellipse cx="265.6" cy="172.9" rx="2.9" ry="1.4"/><ellipse cx="272.4" cy="176.3" rx="2.9" ry="1.4"/><ellipse cx="279.2" cy="179.6" rx="2.8" ry="1.4"/><ellipse cx="286.0" cy="182.9" rx="2.8" ry="1.4"/><ellipse cx="292.8" cy="186.3" rx="2.8" ry="1.4"/><ellipse cx="299.6" cy="189.6" rx="2.8" ry="1.3"/><ellipse cx="306.4" cy="192.9" rx="2.8" ry="1.3"/><ellipse cx="313.2" cy="196.3" rx="2.7" ry="1.3"/><ellipse cx="319.9" cy="199.6" rx="2.7" ry="1.3"/><ellipse cx="326.7" cy="202.9" rx="2.7" ry="1.3"/><ellipse cx="333.5" cy="206.3" rx="2.7" ry="1.3"/><ellipse cx="340.3" cy="209.6" rx="2.7" ry="1.3"/><ellipse cx="347.1" cy="212.9" rx="2.7" ry="1.3"/><ellipse cx="353.9" cy="216.3" rx="2.6" ry="1.3"/><ellipse cx="360.7" cy="219.6" rx="2.6" ry="1.3"/><ellipse cx="367.5" cy="222.9" rx="2.6" ry="1.3"/><ellipse cx="374.3" cy="226.3" rx="2.6" ry="1.2"/><ellipse cx="381.1" cy="229.6" rx="2.6" ry="1.2"/><ellipse cx="387.9" cy="232.9" rx="2.5" ry="1.2"/><ellipse cx="394.7" cy="236.3" rx="2.5" ry="1.2"/><ellipse cx="401.5" cy="239.6" rx="2.5" ry="1.2"/><ellipse cx="408.3" cy="242.9" rx="2.5" ry="1.2"/><ellipse cx="415.0" cy="246.3" rx="2.5" ry="1.2"/><ellipse cx="421.8" cy="249.6" rx="2.5" ry="1.2"/><ellipse cx="428.6" cy="252.9" rx="2.4" ry="1.2"/><ellipse cx="435.4" cy="256.3" rx="2.4" ry="1.2"/><ellipse cx="442.2" cy="259.6" rx="2.4" ry="1.2"/><ellipse cx="449.0" cy="262.9" rx="2.4" ry="1.2"/><ellipse cx="455.8" cy="266.3" rx="2.4" ry="1.1"/><ellipse cx="462.6" cy="269.6" rx="2.4" ry="1.1"/><ellipse cx="469.4" cy="272.9" rx="2.3" ry="1.1"/><ellipse cx="476.2" cy="276.3" rx="2.3" ry="1.1"/><ellipse cx="483.0" cy="279.6" rx="2.3" ry="1.1"/><ellipse cx="489.8" cy="282.9" rx="2.3" ry="1.1"/><ellipse cx="496.6" cy="286.3" rx="2.3" ry="1.1"/><ellipse cx="503.4" cy="289.6" rx="2.2" ry="1.1"/><ellipse cx="510.2" cy="293.0" rx="2.2" ry="1.1"/><ellipse cx="516.9" cy="296.3" rx="2.2" ry="1.1"/><ellipse cx="523.7" cy="299.6" rx="2.2" ry="1.1"/><ellipse cx="530.5" cy="303.0" rx="2.2" ry="1.0"/><ellipse cx="537.3" cy="306.3" rx="2.2" ry="1.0"/><ellipse cx="544.1" cy="309.6" rx="2.1" ry="1.0"/><ellipse cx="550.9" cy="313.0" rx="2.1" ry="1.0"/><ellipse cx="557.7" cy="316.3" rx="2.1" ry="1.0"/><ellipse cx="564.5" cy="319.6" rx="2.1" ry="1.0"/><ellipse cx="571.3" cy="323.0" rx="2.1" ry="1.0"/><ellipse cx="578.1" cy="326.3" rx="2.0" ry="1.0"/><ellipse cx="268.0" cy="169.0" rx="2.9" ry="1.4"/><ellipse cx="274.7" cy="172.3" rx="2.9" ry="1.4"/><ellipse cx="281.5" cy="175.7" rx="2.8" ry="1.4"/><ellipse cx="288.3" cy="179.1" rx="2.8" ry="1.4"/><ellipse cx="295.1" cy="182.4" rx="2.8" ry="1.4"/><ellipse cx="301.8" cy="185.8" rx="2.8" ry="1.3"/><ellipse cx="308.6" cy="189.2" rx="2.8" ry="1.3"/><ellipse cx="315.4" cy="192.5" rx="2.8" ry="1.3"/><ellipse cx="322.2" cy="195.9" rx="2.7" ry="1.3"/><ellipse cx="328.9" cy="199.2" rx="2.7" ry="1.3"/><ellipse cx="335.7" cy="202.6" rx="2.7" ry="1.3"/><ellipse cx="342.5" cy="206.0" rx="2.7" ry="1.3"/><ellipse cx="349.3" cy="209.3" rx="2.7" ry="1.3"/><ellipse cx="356.1" cy="212.7" rx="2.6" ry="1.3"/><ellipse cx="362.8" cy="216.1" rx="2.6" ry="1.3"/><ellipse cx="369.6" cy="219.4" rx="2.6" ry="1.3"/><ellipse cx="376.4" cy="222.8" rx="2.6" ry="1.3"/><ellipse cx="383.2" cy="226.1" rx="2.6" ry="1.2"/><ellipse cx="389.9" cy="229.5" rx="2.6" ry="1.2"/><ellipse cx="396.7" cy="232.9" rx="2.5" ry="1.2"/><ellipse cx="403.5" cy="236.2" rx="2.5" ry="1.2"/><ellipse cx="410.3" cy="239.6" rx="2.5" ry="1.2"/><ellipse cx="417.0" cy="243.0" rx="2.5" ry="1.2"/><ellipse cx="423.8" cy="246.3" rx="2.5" ry="1.2"/><ellipse cx="430.6" cy="249.7" rx="2.4" ry="1.2"/><ellipse cx="437.4" cy="253.1" rx="2.4" ry="1.2"/><ellipse cx="444.1" cy="256.4" rx="2.4" ry="1.2"/><ellipse cx="450.9" cy="259.8" rx="2.4" ry="1.2"/><ellipse cx="457.7" cy="263.1" rx="2.4" ry="1.1"/><ellipse cx="464.5" cy="266.5" rx="2.4" ry="1.1"/><ellipse cx="471.2" cy="269.9" rx="2.3" ry="1.1"/><ellipse cx="478.0" cy="273.2" rx="2.3" ry="1.1"/><ellipse cx="484.8" cy="276.6" rx="2.3" ry="1.1"/><ellipse cx="491.6" cy="280.0" rx="2.3" ry="1.1"/><ellipse cx="498.4" cy="283.3" rx="2.3" ry="1.1"/><ellipse cx="505.1" cy="286.7" rx="2.3" ry="1.1"/><ellipse cx="511.9" cy="290.0" rx="2.2" ry="1.1"/><ellipse cx="518.7" cy="293.4" rx="2.2" ry="1.1"/><ellipse cx="525.5" cy="296.8" rx="2.2" ry="1.1"/><ellipse cx="532.2" cy="300.1" rx="2.2" ry="1.1"/><ellipse cx="539.0" cy="303.5" rx="2.2" ry="1.0"/><ellipse cx="545.8" cy="306.9" rx="2.1" ry="1.0"/><ellipse cx="552.6" cy="310.2" rx="2.1" ry="1.0"/><ellipse cx="559.3" cy="313.6" rx="2.1" ry="1.0"/><ellipse cx="566.1" cy="317.0" rx="2.1" ry="1.0"/><ellipse cx="572.9" cy="320.3" rx="2.1" ry="1.0"/><ellipse cx="579.7" cy="323.7" rx="2.1" ry="1.0"/><ellipse cx="277.1" cy="168.4" rx="2.9" ry="1.4"/><ellipse cx="283.9" cy="171.8" rx="2.9" ry="1.4"/><ellipse cx="290.6" cy="175.2" rx="2.8" ry="1.4"/><ellipse cx="297.4" cy="178.5" rx="2.8" ry="1.4"/><ellipse cx="304.1" cy="181.9" rx="2.8" ry="1.4"/><ellipse cx="310.9" cy="185.3" rx="2.8" ry="1.3"/><ellipse cx="317.7" cy="188.7" rx="2.8" ry="1.3"/><ellipse cx="324.4" cy="192.1" rx="2.7" ry="1.3"/><ellipse cx="331.2" cy="195.5" rx="2.7" ry="1.3"/><ellipse cx="337.9" cy="198.9" rx="2.7" ry="1.3"/><ellipse cx="344.7" cy="202.3" rx="2.7" ry="1.3"/><ellipse cx="351.5" cy="205.7" rx="2.7" ry="1.3"/><ellipse cx="358.2" cy="209.1" rx="2.7" ry="1.3"/><ellipse cx="365.0" cy="212.5" rx="2.6" ry="1.3"/><ellipse cx="371.7" cy="215.9" rx="2.6" ry="1.3"/><ellipse cx="378.5" cy="219.3" rx="2.6" ry="1.3"/><ellipse cx="385.2" cy="222.6" rx="2.6" ry="1.2"/><ellipse cx="392.0" cy="226.0" rx="2.6" ry="1.2"/><ellipse cx="398.8" cy="229.4" rx="2.5" ry="1.2"/><ellipse cx="405.5" cy="232.8" rx="2.5" ry="1.2"/><ellipse cx="412.3" cy="236.2" rx="2.5" ry="1.2"/><ellipse cx="419.0" cy="239.6" rx="2.5" ry="1.2"/><ellipse cx="425.8" cy="243.0" rx="2.5" ry="1.2"/><ellipse cx="432.6" cy="246.4" rx="2.5" ry="1.2"/><ellipse cx="439.3" cy="249.8" rx="2.4" ry="1.2"/><ellipse cx="446.1" cy="253.2" rx="2.4" ry="1.2"/><ellipse cx="452.8" cy="256.6" rx="2.4" ry="1.2"/><ellipse cx="459.6" cy="260.0" rx="2.4" ry="1.2"/><ellipse cx="466.4" cy="263.4" rx="2.4" ry="1.1"/><ellipse cx="473.1" cy="266.8" rx="2.4" ry="1.1"/><ellipse cx="479.9" cy="270.1" rx="2.3" ry="1.1"/><ellipse cx="486.6" cy="273.5" rx="2.3" ry="1.1"/><ellipse cx="493.4" cy="276.9" rx="2.3" ry="1.1"/><ellipse cx="500.2" cy="280.3" rx="2.3" ry="1.1"/><ellipse cx="506.9" cy="283.7" rx="2.3" ry="1.1"/><ellipse cx="513.7" cy="287.1" rx="2.2" ry="1.1"/><ellipse cx="520.4" cy="290.5" rx="2.2" ry="1.1"/><ellipse cx="527.2" cy="293.9" rx="2.2" ry="1.1"/><ellipse cx="533.9" cy="297.3" rx="2.2" ry="1.1"/><ellipse cx="540.7" cy="300.7" rx="2.2" ry="1.0"/><ellipse cx="547.5" cy="304.1" rx="2.2" ry="1.0"/><ellipse cx="554.2" cy="307.5" rx="2.1" ry="1.0"/><ellipse cx="561.0" cy="310.9" rx="2.1" ry="1.0"/><ellipse cx="567.7" cy="314.3" rx="2.1" ry="1.0"/><ellipse cx="574.5" cy="317.6" rx="2.1" ry="1.0"/><ellipse cx="581.3" cy="321.0" rx="2.1" ry="1.0"/><ellipse cx="588.0" cy="324.4" rx="2.0" ry="1.0"/></g>
<g fill="#5a5a5a" opacity="0.9"><ellipse cx="97.2" cy="241.9" rx="2.4" ry="1.7"/><ellipse cx="108.4" cy="245.6" rx="2.3" ry="1.7"/><ellipse cx="119.5" cy="249.4" rx="2.3" ry="1.6"/><ellipse cx="130.7" cy="253.1" rx="2.3" ry="1.6"/><ellipse cx="141.8" cy="256.9" rx="2.3" ry="1.6"/><ellipse cx="152.9" cy="260.6" rx="2.2" ry="1.6"/><ellipse cx="164.1" cy="264.3" rx="2.2" ry="1.6"/><ellipse cx="175.2" cy="268.1" rx="2.2" ry="1.5"/><ellipse cx="186.4" cy="271.8" rx="2.2" ry="1.5"/><ellipse cx="197.5" cy="275.6" rx="2.1" ry="1.5"/><ellipse cx="208.6" cy="279.3" rx="2.1" ry="1.5"/><ellipse cx="219.8" cy="283.1" rx="2.1" ry="1.5"/><ellipse cx="230.9" cy="286.8" rx="2.0" ry="1.5"/><ellipse cx="242.0" cy="290.5" rx="2.0" ry="1.4"/><ellipse cx="253.2" cy="294.3" rx="2.0" ry="1.4"/><ellipse cx="264.3" cy="298.0" rx="2.0" ry="1.4"/><ellipse cx="275.5" cy="301.8" rx="1.9" ry="1.4"/><ellipse cx="286.6" cy="305.5" rx="1.9" ry="1.4"/><ellipse cx="297.7" cy="309.3" rx="1.9" ry="1.3"/><ellipse cx="308.9" cy="313.0" rx="1.9" ry="1.3"/><ellipse cx="320.0" cy="316.7" rx="1.8" ry="1.3"/><ellipse cx="331.2" cy="320.5" rx="1.8" ry="1.3"/><ellipse cx="342.3" cy="324.2" rx="1.8" ry="1.3"/><ellipse cx="353.4" cy="328.0" rx="1.8" ry="1.2"/><ellipse cx="364.6" cy="331.7" rx="1.7" ry="1.2"/><ellipse cx="375.7" cy="335.5" rx="1.7" ry="1.2"/><ellipse cx="386.8" cy="339.2" rx="1.7" ry="1.2"/><ellipse cx="398.0" cy="342.9" rx="1.6" ry="1.2"/><ellipse cx="409.1" cy="346.7" rx="1.6" ry="1.1"/><ellipse cx="420.3" cy="350.4" rx="1.6" ry="1.1"/></g>
<line x1="138.2" y1="219.5" x2="474.4" y2="346.6" stroke="#555" stroke-width="0.8"/>
<line x1="226.1" y1="184.2" x2="550.1" y2="332.6" stroke="#555" stroke-width="0.8"/>
<polygon points="272.0,146.0 360.0,189.5 420.0,220.8 480.0,250.4 540.0,282.7 612.0,322.0 608.0,327.0 596.0,326.0 540.0,291.5 480.0,262.0 420.0,233.0 360.0,200.0 273.0,160.0" fill="url(#rimRg)" />
<polyline points="272.0,146.0 360.0,189.5 420.0,220.8 480.0,250.4 540.0,282.7 612.0,322.0" stroke="#c8c8c8" stroke-width="0.9" fill="none" opacity="0.8"/>
<polyline points="596.0,326.0 540.0,291.5 480.0,262.0 420.0,233.0 360.0,200.0 273.0,160.0" stroke="#9a9a9a" stroke-width="0.8" fill="none" opacity="0.7"/>
<polygon points="74.0,230.0 272.0,146.0 273.0,161.0 75.0,241.0" fill="url(#rimLg)" />
<polyline points="74,230 272,146" stroke="#8a8a8a" stroke-width="0.8" fill="none" opacity="0.7"/>
<polyline points="75,240 273,161" stroke="#111" stroke-width="1" fill="none"/>
<line x1="272" y1="146" x2="273" y2="161" stroke="#aaa" stroke-width="1.2"/>
<circle cx="107" cy="221.8" r="1.5" fill="#1a1a1a" stroke="#aaa" stroke-width="0.6"/>
<circle cx="225.8" cy="171.8" r="1.5" fill="#1a1a1a" stroke="#aaa" stroke-width="0.6"/>
<circle cx="317" cy="175.4" r="1.5" fill="#1a1a1a" stroke="#aaa" stroke-width="0.6"/>
<circle cx="524" cy="289" r="1.5" fill="#1a1a1a" stroke="#aaa" stroke-width="0.6"/>
<ellipse cx="117.7" cy="250.6" rx="2.2" ry="2" fill="#ddd"/>
<circle cx="428.4" cy="230.5" r="1.5" fill="#ddd"/>
<path d="M78,292.2 L278.5,224.4 L278.5,239.9 L129,301.6 C106,312 93,333 88.6,356.4 L78,360 Z" fill="url(#brL)" />
<path d="M278.5,239.9 L129,301.6 C106,312 93,333 88.6,356.4" stroke="#2a2a2a" stroke-width="1" fill="none"/>
<polygon points="278.5,224.4 289.8,228.0 280.5,236.0 278.5,239.9" fill="#3a3a3a" />
<ellipse cx="109.7" cy="297.8" rx="3.1" ry="5.2" fill="#f4f4f4"/>
<ellipse cx="143" cy="284" rx="2.9" ry="4.6" fill="#f4f4f4"/>
<ellipse cx="179.4" cy="268.7" rx="2.2" ry="2.8" fill="#111"/>
<ellipse cx="219.4" cy="252" rx="2" ry="2.6" fill="#111"/>
<ellipse cx="261.8" cy="235" rx="1.8" ry="2.3" fill="#111"/>
<polygon points="418.0,364.0 428.5,365.0 428.8,630.0 418.0,630.0" fill="url(#upR)" />
<rect x="424.6" y="371" width="2.2" height="7" fill="#1e1e1e"/><rect x="424.6" y="384" width="2.2" height="7" fill="#1e1e1e"/><rect x="424.6" y="397" width="2.2" height="7" fill="#1e1e1e"/><rect x="424.6" y="410" width="2.2" height="7" fill="#1e1e1e"/><rect x="424.6" y="423" width="2.2" height="7" fill="#1e1e1e"/><rect x="424.6" y="436" width="2.2" height="7" fill="#1e1e1e"/><rect x="424.6" y="449" width="2.2" height="7" fill="#1e1e1e"/><rect x="424.6" y="462" width="2.2" height="7" fill="#1e1e1e"/><rect x="424.6" y="475" width="2.2" height="7" fill="#1e1e1e"/><rect x="424.6" y="488" width="2.2" height="7" fill="#1e1e1e"/><rect x="424.6" y="501" width="2.2" height="7" fill="#1e1e1e"/><rect x="424.6" y="514" width="2.2" height="7" fill="#1e1e1e"/><rect x="424.6" y="527" width="2.2" height="7" fill="#1e1e1e"/><rect x="424.6" y="540" width="2.2" height="7" fill="#1e1e1e"/><rect x="424.6" y="553" width="2.2" height="7" fill="#1e1e1e"/><rect x="424.6" y="566" width="2.2" height="7" fill="#1e1e1e"/><rect x="424.6" y="579" width="2.2" height="7" fill="#1e1e1e"/><rect x="424.6" y="592" width="2.2" height="7" fill="#1e1e1e"/><rect x="424.6" y="605" width="2.2" height="7" fill="#1e1e1e"/><rect x="424.6" y="618" width="2.2" height="7" fill="#1e1e1e"/>
<path d="M429,390 L605.6,361 L607.5,372 L458,401.5 C443,409 434,422 430.8,436.5 L429,437 Z" fill="url(#brR)" />
<path d="M429,390 L605.6,361" stroke="#3a3a3a" stroke-width="1.5" fill="none"/>
<ellipse cx="460" cy="397" rx="2.8" ry="3.6" fill="#f2f2f2"/>
<ellipse cx="491.5" cy="391" rx="2.6" ry="3.2" fill="#f2f2f2"/>
<ellipse cx="524.6" cy="384" rx="2.4" ry="3" fill="#f2f2f2"/>
<ellipse cx="559.6" cy="376.5" rx="2.2" ry="2.7" fill="#f2f2f2"/>
<ellipse cx="595" cy="368.4" rx="2" ry="2.4" fill="#f2f2f2"/>
<polygon points="74.0,463.5 272.0,433.0 609.0,494.0 609.0,503.0 560.0,507.0 440.0,513.0 330.0,503.6 230.0,493.0 140.0,483.0 75.0,476.5" fill="#141414" />
<polygon points="170.0,458.0 230.0,459.0 330.0,473.0 505.0,495.0 595.0,500.0 595.0,502.0 505.0,503.0 330.0,486.0 230.0,472.7 170.0,466.0" fill="#333" />
<g fill="#a8a8a8" opacity="0.6"><rect x="176.0" y="459.6" width="2.4" height="1.2"/><rect x="176.0" y="461.8" width="2.4" height="1.2"/><rect x="176.0" y="464.0" width="2.4" height="1.2"/><rect x="180.2" y="459.7" width="2.4" height="1.2"/><rect x="180.2" y="462.1" width="2.4" height="1.2"/><rect x="180.2" y="464.4" width="2.4" height="1.2"/><rect x="184.3" y="459.9" width="2.3" height="1.2"/><rect x="184.3" y="462.3" width="2.3" height="1.2"/><rect x="184.3" y="464.8" width="2.3" height="1.2"/><rect x="188.5" y="460.0" width="2.3" height="1.2"/><rect x="188.5" y="462.6" width="2.3" height="1.2"/><rect x="188.5" y="465.2" width="2.3" height="1.2"/><rect x="192.6" y="460.1" width="2.3" height="1.2"/><rect x="192.6" y="462.8" width="2.3" height="1.2"/><rect x="192.6" y="465.6" width="2.3" height="1.2"/><rect x="196.7" y="459.9" width="2.3" height="1.2"/><rect x="196.7" y="462.0" width="2.3" height="1.2"/><rect x="196.7" y="464.2" width="2.3" height="1.2"/><rect x="196.7" y="466.3" width="2.3" height="1.2"/><rect x="200.7" y="460.0" width="2.3" height="1.2"/><rect x="200.7" y="462.3" width="2.3" height="1.2"/><rect x="200.7" y="464.5" width="2.3" height="1.2"/><rect x="200.7" y="466.7" width="2.3" height="1.2"/><rect x="204.8" y="460.1" width="2.3" height="1.2"/><rect x="204.8" y="462.5" width="2.3" height="1.2"/><rect x="204.8" y="464.8" width="2.3" height="1.2"/><rect x="204.8" y="467.1" width="2.3" height="1.2"/><rect x="208.8" y="460.3" width="2.3" height="1.2"/><rect x="208.8" y="462.7" width="2.3" height="1.2"/><rect x="208.8" y="465.1" width="2.3" height="1.2"/><rect x="208.8" y="467.5" width="2.3" height="1.2"/><rect x="212.8" y="460.4" width="2.2" height="1.2"/><rect x="212.8" y="462.9" width="2.2" height="1.2"/><rect x="212.8" y="465.4" width="2.2" height="1.2"/><rect x="212.8" y="467.9" width="2.2" height="1.2"/><rect x="216.8" y="460.5" width="2.2" height="1.2"/><rect x="216.8" y="463.1" width="2.2" height="1.2"/><rect x="216.8" y="465.7" width="2.2" height="1.2"/><rect x="216.8" y="468.3" width="2.2" height="1.2"/><rect x="220.8" y="460.6" width="2.2" height="1.2"/><rect x="220.8" y="463.3" width="2.2" height="1.2"/><rect x="220.8" y="466.0" width="2.2" height="1.2"/><rect x="220.8" y="468.7" width="2.2" height="1.2"/><rect x="224.8" y="460.4" width="2.2" height="1.2"/><rect x="224.8" y="462.7" width="2.2" height="1.2"/><rect x="224.8" y="464.9" width="2.2" height="1.2"/><rect x="224.8" y="467.2" width="2.2" height="1.2"/><rect x="224.8" y="469.4" width="2.2" height="1.2"/><rect x="228.7" y="460.5" width="2.2" height="1.2"/><rect x="228.7" y="462.9" width="2.2" height="1.2"/><rect x="228.7" y="465.2" width="2.2" height="1.2"/><rect x="228.7" y="467.5" width="2.2" height="1.2"/><rect x="228.7" y="469.8" width="2.2" height="1.2"/><rect x="232.6" y="460.9" width="2.2" height="1.2"/><rect x="232.6" y="463.3" width="2.2" height="1.2"/><rect x="232.6" y="465.6" width="2.2" height="1.2"/><rect x="232.6" y="467.9" width="2.2" height="1.2"/><rect x="232.6" y="470.3" width="2.2" height="1.2"/><rect x="236.5" y="461.5" width="2.2" height="1.2"/><rect x="236.5" y="463.8" width="2.2" height="1.2"/><rect x="236.5" y="466.1" width="2.2" height="1.2"/><rect x="236.5" y="468.5" width="2.2" height="1.2"/><rect x="236.5" y="470.8" width="2.2" height="1.2"/><rect x="240.4" y="462.0" width="2.1" height="1.2"/><rect x="240.4" y="464.3" width="2.1" height="1.2"/><rect x="240.4" y="466.7" width="2.1" height="1.2"/><rect x="240.4" y="469.0" width="2.1" height="1.2"/><rect x="240.4" y="471.3" width="2.1" height="1.2"/><rect x="244.3" y="462.6" width="2.1" height="1.2"/><rect x="244.3" y="464.9" width="2.1" height="1.2"/><rect x="244.3" y="467.2" width="2.1" height="1.2"/><rect x="244.3" y="469.5" width="2.1" height="1.2"/><rect x="244.3" y="471.8" width="2.1" height="1.2"/><rect x="248.1" y="463.1" width="2.1" height="1.2"/><rect x="248.1" y="465.4" width="2.1" height="1.2"/><rect x="248.1" y="467.7" width="2.1" height="1.2"/><rect x="248.1" y="470.0" width="2.1" height="1.2"/><rect x="248.1" y="472.4" width="2.1" height="1.2"/><rect x="252.0" y="463.6" width="2.1" height="1.2"/><rect x="252.0" y="465.9" width="2.1" height="1.2"/><rect x="252.0" y="468.2" width="2.1" height="1.2"/><rect x="252.0" y="470.6" width="2.1" height="1.2"/><rect x="252.0" y="472.9" width="2.1" height="1.2"/><rect x="255.8" y="464.2" width="2.1" height="1.2"/><rect x="255.8" y="466.5" width="2.1" height="1.2"/><rect x="255.8" y="468.8" width="2.1" height="1.2"/><rect x="255.8" y="471.1" width="2.1" height="1.2"/><rect x="255.8" y="473.4" width="2.1" height="1.2"/><rect x="259.6" y="464.7" width="2.1" height="1.2"/><rect x="259.6" y="467.0" width="2.1" height="1.2"/><rect x="259.6" y="469.3" width="2.1" height="1.2"/><rect x="259.6" y="471.6" width="2.1" height="1.2"/><rect x="259.6" y="473.9" width="2.1" height="1.2"/><rect x="263.3" y="465.2" width="2.1" height="1.2"/><rect x="263.3" y="467.5" width="2.1" height="1.2"/><rect x="263.3" y="469.8" width="2.1" height="1.2"/><rect x="263.3" y="472.1" width="2.1" height="1.2"/><rect x="263.3" y="474.4" width="2.1" height="1.2"/><rect x="267.1" y="465.7" width="2.1" height="1.2"/><rect x="267.1" y="468.0" width="2.1" height="1.2"/><rect x="267.1" y="470.3" width="2.1" height="1.2"/><rect x="267.1" y="472.6" width="2.1" height="1.2"/><rect x="267.1" y="474.9" width="2.1" height="1.2"/><rect x="270.8" y="466.3" width="2.0" height="1.2"/><rect x="270.8" y="468.5" width="2.0" height="1.2"/><rect x="270.8" y="470.8" width="2.0" height="1.2"/><rect x="270.8" y="473.1" width="2.0" height="1.2"/><rect x="270.8" y="475.4" width="2.0" height="1.2"/><rect x="274.5" y="466.8" width="2.0" height="1.2"/><rect x="274.5" y="469.1" width="2.0" height="1.2"/><rect x="274.5" y="471.3" width="2.0" height="1.2"/><rect x="274.5" y="473.6" width="2.0" height="1.2"/><rect x="274.5" y="475.9" width="2.0" height="1.2"/><rect x="278.2" y="467.3" width="2.0" height="1.2"/><rect x="278.2" y="469.6" width="2.0" height="1.2"/><rect x="278.2" y="471.8" width="2.0" height="1.2"/><rect x="278.2" y="474.1" width="2.0" height="1.2"/><rect x="278.2" y="476.4" width="2.0" height="1.2"/><rect x="281.9" y="467.8" width="2.0" height="1.2"/><rect x="281.9" y="470.1" width="2.0" height="1.2"/><rect x="281.9" y="472.3" width="2.0" height="1.2"/><rect x="281.9" y="474.6" width="2.0" height="1.2"/><rect x="281.9" y="476.9" width="2.0" height="1.2"/><rect x="285.6" y="468.3" width="2.0" height="1.2"/><rect x="285.6" y="470.6" width="2.0" height="1.2"/><rect x="285.6" y="472.8" width="2.0" height="1.2"/><rect x="285.6" y="475.1" width="2.0" height="1.2"/><rect x="285.6" y="477.4" width="2.0" height="1.2"/><rect x="289.2" y="468.8" width="2.0" height="1.2"/><rect x="289.2" y="471.1" width="2.0" height="1.2"/><rect x="289.2" y="473.3" width="2.0" height="1.2"/><rect x="289.2" y="475.6" width="2.0" height="1.2"/><rect x="289.2" y="477.9" width="2.0" height="1.2"/><rect x="292.9" y="469.3" width="2.0" height="1.2"/><rect x="292.9" y="471.6" width="2.0" height="1.2"/><rect x="292.9" y="473.8" width="2.0" height="1.2"/><rect x="292.9" y="476.1" width="2.0" height="1.2"/><rect x="292.9" y="478.3" width="2.0" height="1.2"/><rect x="296.5" y="469.8" width="1.9" height="1.2"/><rect x="296.5" y="472.1" width="1.9" height="1.2"/><rect x="296.5" y="474.3" width="1.9" height="1.2"/><rect x="296.5" y="476.6" width="1.9" height="1.2"/><rect x="296.5" y="478.8" width="1.9" height="1.2"/><rect x="300.1" y="470.3" width="1.9" height="1.2"/><rect x="300.1" y="472.6" width="1.9" height="1.2"/><rect x="300.1" y="474.8" width="1.9" height="1.2"/><rect x="300.1" y="477.1" width="1.9" height="1.2"/><rect x="300.1" y="479.3" width="1.9" height="1.2"/><rect x="303.7" y="470.8" width="1.9" height="1.2"/><rect x="303.7" y="473.1" width="1.9" height="1.2"/><rect x="303.7" y="475.3" width="1.9" height="1.2"/><rect x="303.7" y="477.5" width="1.9" height="1.2"/><rect x="303.7" y="479.8" width="1.9" height="1.2"/><rect x="307.2" y="471.3" width="1.9" height="1.2"/><rect x="307.2" y="473.6" width="1.9" height="1.2"/><rect x="307.2" y="475.8" width="1.9" height="1.2"/><rect x="307.2" y="478.0" width="1.9" height="1.2"/><rect x="307.2" y="480.3" width="1.9" height="1.2"/><rect x="310.8" y="471.8" width="1.9" height="1.2"/><rect x="310.8" y="474.0" width="1.9" height="1.2"/><rect x="310.8" y="476.3" width="1.9" height="1.2"/><rect x="310.8" y="478.5" width="1.9" height="1.2"/><rect x="310.8" y="480.7" width="1.9" height="1.2"/><rect x="314.3" y="472.3" width="1.9" height="1.2"/><rect x="314.3" y="474.5" width="1.9" height="1.2"/><rect x="314.3" y="476.8" width="1.9" height="1.2"/><rect x="314.3" y="479.0" width="1.9" height="1.2"/><rect x="314.3" y="481.2" width="1.9" height="1.2"/><rect x="317.8" y="472.8" width="1.9" height="1.2"/><rect x="317.8" y="475.0" width="1.9" height="1.2"/><rect x="317.8" y="477.2" width="1.9" height="1.2"/><rect x="317.8" y="479.5" width="1.9" height="1.2"/><rect x="317.8" y="481.7" width="1.9" height="1.2"/><rect x="321.3" y="473.3" width="1.9" height="1.2"/><rect x="321.3" y="475.5" width="1.9" height="1.2"/><rect x="321.3" y="477.7" width="1.9" height="1.2"/><rect x="321.3" y="479.9" width="1.9" height="1.2"/><rect x="321.3" y="482.1" width="1.9" height="1.2"/><rect x="324.8" y="473.8" width="1.8" height="1.2"/><rect x="324.8" y="476.0" width="1.8" height="1.2"/><rect x="324.8" y="478.2" width="1.8" height="1.2"/><rect x="324.8" y="480.4" width="1.8" height="1.2"/><rect x="324.8" y="482.6" width="1.8" height="1.2"/><rect x="328.3" y="474.3" width="1.8" height="1.2"/><rect x="328.3" y="476.5" width="1.8" height="1.2"/><rect x="328.3" y="478.7" width="1.8" height="1.2"/><rect x="328.3" y="480.9" width="1.8" height="1.2"/><rect x="328.3" y="483.1" width="1.8" height="1.2"/><rect x="331.7" y="475.0" width="1.8" height="1.2"/><rect x="331.7" y="477.7" width="1.8" height="1.2"/><rect x="331.7" y="480.5" width="1.8" height="1.2"/><rect x="331.7" y="483.2" width="1.8" height="1.2"/><rect x="335.1" y="475.4" width="1.8" height="1.2"/><rect x="335.1" y="478.1" width="1.8" height="1.2"/><rect x="335.1" y="480.8" width="1.8" height="1.2"/><rect x="335.1" y="483.5" width="1.8" height="1.2"/><rect x="338.5" y="475.8" width="1.8" height="1.2"/><rect x="338.5" y="478.5" width="1.8" height="1.2"/><rect x="338.5" y="481.2" width="1.8" height="1.2"/><rect x="338.5" y="483.9" width="1.8" height="1.2"/><rect x="341.9" y="476.2" width="1.8" height="1.2"/><rect x="341.9" y="478.9" width="1.8" height="1.2"/><rect x="341.9" y="481.6" width="1.8" height="1.2"/><rect x="341.9" y="484.2" width="1.8" height="1.2"/><rect x="345.3" y="476.6" width="1.8" height="1.2"/><rect x="345.3" y="479.3" width="1.8" height="1.2"/><rect x="345.3" y="481.9" width="1.8" height="1.2"/><rect x="345.3" y="484.6" width="1.8" height="1.2"/><rect x="348.7" y="477.1" width="1.8" height="1.2"/><rect x="348.7" y="479.7" width="1.8" height="1.2"/><rect x="348.7" y="482.3" width="1.8" height="1.2"/><rect x="348.7" y="484.9" width="1.8" height="1.2"/><rect x="352.0" y="477.5" width="1.7" height="1.2"/><rect x="352.0" y="480.1" width="1.7" height="1.2"/><rect x="352.0" y="482.7" width="1.7" height="1.2"/><rect x="352.0" y="485.2" width="1.7" height="1.2"/><rect x="355.4" y="477.9" width="1.7" height="1.2"/><rect x="355.4" y="480.4" width="1.7" height="1.2"/><rect x="355.4" y="483.0" width="1.7" height="1.2"/><rect x="355.4" y="485.6" width="1.7" height="1.2"/><rect x="358.7" y="478.3" width="1.7" height="1.2"/><rect x="358.7" y="480.8" width="1.7" height="1.2"/><rect x="358.7" y="483.4" width="1.7" height="1.2"/><rect x="358.7" y="485.9" width="1.7" height="1.2"/><rect x="362.0" y="478.7" width="1.7" height="1.2"/><rect x="362.0" y="481.2" width="1.7" height="1.2"/><rect x="362.0" y="483.7" width="1.7" height="1.2"/><rect x="362.0" y="486.2" width="1.7" height="1.2"/><rect x="365.3" y="479.1" width="1.7" height="1.2"/><rect x="365.3" y="481.6" width="1.7" height="1.2"/><rect x="365.3" y="484.1" width="1.7" height="1.2"/><rect x="365.3" y="486.6" width="1.7" height="1.2"/><rect x="368.5" y="479.5" width="1.7" height="1.2"/><rect x="368.5" y="482.0" width="1.7" height="1.2"/><rect x="368.5" y="484.4" width="1.7" height="1.2"/><rect x="368.5" y="486.9" width="1.7" height="1.2"/><rect x="371.8" y="479.9" width="1.7" height="1.2"/><rect x="371.8" y="482.3" width="1.7" height="1.2"/><rect x="371.8" y="484.8" width="1.7" height="1.2"/><rect x="371.8" y="487.2" width="1.7" height="1.2"/><rect x="375.0" y="480.3" width="1.7" height="1.2"/><rect x="375.0" y="482.7" width="1.7" height="1.2"/><rect x="375.0" y="485.1" width="1.7" height="1.2"/><rect x="375.0" y="487.6" width="1.7" height="1.2"/><rect x="378.3" y="480.7" width="1.7" height="1.2"/><rect x="378.3" y="483.1" width="1.7" height="1.2"/><rect x="378.3" y="485.5" width="1.7" height="1.2"/><rect x="378.3" y="487.9" width="1.7" height="1.2"/><rect x="381.5" y="481.1" width="1.6" height="1.2"/><rect x="381.5" y="483.4" width="1.6" height="1.2"/><rect x="381.5" y="485.8" width="1.6" height="1.2"/><rect x="381.5" y="488.2" width="1.6" height="1.2"/><rect x="384.7" y="481.5" width="1.6" height="1.2"/><rect x="384.7" y="483.8" width="1.6" height="1.2"/><rect x="384.7" y="486.2" width="1.6" height="1.2"/><rect x="384.7" y="488.5" width="1.6" height="1.2"/><rect x="387.8" y="481.8" width="1.6" height="1.2"/><rect x="387.8" y="484.2" width="1.6" height="1.2"/><rect x="387.8" y="486.5" width="1.6" height="1.2"/><rect x="387.8" y="488.9" width="1.6" height="1.2"/><rect x="391.0" y="482.2" width="1.6" height="1.2"/><rect x="391.0" y="484.5" width="1.6" height="1.2"/><rect x="391.0" y="486.9" width="1.6" height="1.2"/><rect x="391.0" y="489.2" width="1.6" height="1.2"/><rect x="394.2" y="482.6" width="1.6" height="1.2"/><rect x="394.2" y="484.9" width="1.6" height="1.2"/><rect x="394.2" y="487.2" width="1.6" height="1.2"/><rect x="394.2" y="489.5" width="1.6" height="1.2"/><rect x="397.3" y="483.0" width="1.6" height="1.2"/><rect x="397.3" y="485.3" width="1.6" height="1.2"/><rect x="397.3" y="487.5" width="1.6" height="1.2"/><rect x="397.3" y="489.8" width="1.6" height="1.2"/><rect x="400.4" y="483.4" width="1.6" height="1.2"/><rect x="400.4" y="485.6" width="1.6" height="1.2"/><rect x="400.4" y="487.9" width="1.6" height="1.2"/><rect x="400.4" y="490.1" width="1.6" height="1.2"/><rect x="403.5" y="483.8" width="1.6" height="1.2"/><rect x="403.5" y="486.0" width="1.6" height="1.2"/><rect x="403.5" y="488.2" width="1.6" height="1.2"/><rect x="403.5" y="490.4" width="1.6" height="1.2"/><rect x="406.6" y="484.1" width="1.6" height="1.2"/><rect x="406.6" y="486.3" width="1.6" height="1.2"/><rect x="406.6" y="488.5" width="1.6" height="1.2"/><rect x="406.6" y="490.7" width="1.6" height="1.2"/><rect x="409.7" y="484.5" width="1.5" height="1.2"/><rect x="409.7" y="486.7" width="1.5" height="1.2"/><rect x="409.7" y="488.9" width="1.5" height="1.2"/><rect x="409.7" y="491.0" width="1.5" height="1.2"/><rect x="412.7" y="484.9" width="1.5" height="1.2"/><rect x="412.7" y="487.0" width="1.5" height="1.2"/><rect x="412.7" y="489.2" width="1.5" height="1.2"/><rect x="412.7" y="491.4" width="1.5" height="1.2"/><rect x="415.8" y="485.3" width="1.5" height="1.2"/><rect x="415.8" y="487.4" width="1.5" height="1.2"/><rect x="415.8" y="489.5" width="1.5" height="1.2"/><rect x="415.8" y="491.7" width="1.5" height="1.2"/><rect x="418.8" y="485.6" width="1.5" height="1.2"/><rect x="418.8" y="487.7" width="1.5" height="1.2"/><rect x="418.8" y="489.9" width="1.5" height="1.2"/><rect x="418.8" y="492.0" width="1.5" height="1.2"/><rect x="421.8" y="486.3" width="1.5" height="1.2"/><rect x="421.8" y="489.1" width="1.5" height="1.2"/><rect x="421.8" y="491.9" width="1.5" height="1.2"/><rect x="424.8" y="486.7" width="1.5" height="1.2"/><rect x="424.8" y="489.5" width="1.5" height="1.2"/><rect x="424.8" y="492.2" width="1.5" height="1.2"/><rect x="427.8" y="487.1" width="1.5" height="1.2"/><rect x="427.8" y="489.8" width="1.5" height="1.2"/><rect x="427.8" y="492.5" width="1.5" height="1.2"/><rect x="430.8" y="487.4" width="1.5" height="1.2"/><rect x="430.8" y="490.1" width="1.5" height="1.2"/><rect x="430.8" y="492.8" width="1.5" height="1.2"/><rect x="433.7" y="487.8" width="1.5" height="1.2"/><rect x="433.7" y="490.5" width="1.5" height="1.2"/><rect x="433.7" y="493.1" width="1.5" height="1.2"/><rect x="436.7" y="488.1" width="1.4" height="1.2"/><rect x="436.7" y="490.8" width="1.4" height="1.2"/><rect x="436.7" y="493.4" width="1.4" height="1.2"/><rect x="439.6" y="488.5" width="1.4" height="1.2"/><rect x="439.6" y="491.1" width="1.4" height="1.2"/><rect x="439.6" y="493.7" width="1.4" height="1.2"/><rect x="442.5" y="488.8" width="1.4" height="1.2"/><rect x="442.5" y="491.4" width="1.4" height="1.2"/><rect x="442.5" y="494.0" width="1.4" height="1.2"/><rect x="445.4" y="489.2" width="1.4" height="1.2"/><rect x="445.4" y="491.8" width="1.4" height="1.2"/><rect x="445.4" y="494.3" width="1.4" height="1.2"/><rect x="448.3" y="489.5" width="1.4" height="1.2"/><rect x="448.3" y="492.1" width="1.4" height="1.2"/><rect x="448.3" y="494.6" width="1.4" height="1.2"/><rect x="451.2" y="489.9" width="1.4" height="1.2"/><rect x="451.2" y="492.4" width="1.4" height="1.2"/><rect x="451.2" y="494.9" width="1.4" height="1.2"/><rect x="454.1" y="490.2" width="1.4" height="1.2"/><rect x="454.1" y="492.7" width="1.4" height="1.2"/><rect x="454.1" y="495.2" width="1.4" height="1.2"/><rect x="456.9" y="490.6" width="1.4" height="1.2"/><rect x="456.9" y="493.0" width="1.4" height="1.2"/><rect x="456.9" y="495.5" width="1.4" height="1.2"/><rect x="459.7" y="490.9" width="1.4" height="1.2"/><rect x="459.7" y="493.4" width="1.4" height="1.2"/><rect x="459.7" y="495.8" width="1.4" height="1.2"/><rect x="462.6" y="491.3" width="1.4" height="1.2"/><rect x="462.6" y="493.7" width="1.4" height="1.2"/><rect x="462.6" y="496.1" width="1.4" height="1.2"/><rect x="465.4" y="491.6" width="1.3" height="1.2"/><rect x="465.4" y="494.0" width="1.3" height="1.2"/><rect x="465.4" y="496.4" width="1.3" height="1.2"/><rect x="468.2" y="491.9" width="1.3" height="1.2"/><rect x="468.2" y="494.3" width="1.3" height="1.2"/><rect x="468.2" y="496.6" width="1.3" height="1.2"/><rect x="470.9" y="492.3" width="1.3" height="1.2"/><rect x="470.9" y="494.6" width="1.3" height="1.2"/><rect x="470.9" y="496.9" width="1.3" height="1.2"/><rect x="473.7" y="492.6" width="1.3" height="1.2"/><rect x="473.7" y="494.9" width="1.3" height="1.2"/><rect x="473.7" y="497.2" width="1.3" height="1.2"/><rect x="476.5" y="492.9" width="1.3" height="1.2"/><rect x="476.5" y="495.2" width="1.3" height="1.2"/><rect x="476.5" y="497.5" width="1.3" height="1.2"/><rect x="479.2" y="493.3" width="1.3" height="1.2"/><rect x="479.2" y="495.5" width="1.3" height="1.2"/><rect x="479.2" y="497.8" width="1.3" height="1.2"/><rect x="481.9" y="493.6" width="1.3" height="1.2"/><rect x="481.9" y="495.8" width="1.3" height="1.2"/><rect x="481.9" y="498.0" width="1.3" height="1.2"/><rect x="484.6" y="493.9" width="1.3" height="1.2"/><rect x="484.6" y="496.1" width="1.3" height="1.2"/><rect x="484.6" y="498.3" width="1.3" height="1.2"/><rect x="487.3" y="494.3" width="1.3" height="1.2"/><rect x="487.3" y="496.4" width="1.3" height="1.2"/><rect x="487.3" y="498.6" width="1.3" height="1.2"/><rect x="490.0" y="494.6" width="1.3" height="1.2"/><rect x="490.0" y="496.7" width="1.3" height="1.2"/><rect x="490.0" y="498.9" width="1.3" height="1.2"/><rect x="492.7" y="494.9" width="1.2" height="1.2"/><rect x="492.7" y="497.0" width="1.2" height="1.2"/><rect x="492.7" y="499.1" width="1.2" height="1.2"/><rect x="495.4" y="495.2" width="1.2" height="1.2"/><rect x="495.4" y="497.3" width="1.2" height="1.2"/><rect x="495.4" y="499.4" width="1.2" height="1.2"/><rect x="498.0" y="495.6" width="1.2" height="1.2"/><rect x="498.0" y="497.6" width="1.2" height="1.2"/><rect x="498.0" y="499.7" width="1.2" height="1.2"/><rect x="500.7" y="495.9" width="1.2" height="1.2"/><rect x="500.7" y="497.9" width="1.2" height="1.2"/><rect x="500.7" y="500.0" width="1.2" height="1.2"/><rect x="503.3" y="496.2" width="1.2" height="1.2"/><rect x="503.3" y="498.2" width="1.2" height="1.2"/><rect x="503.3" y="500.2" width="1.2" height="1.2"/><rect x="505.9" y="496.4" width="1.2" height="1.2"/><rect x="505.9" y="498.4" width="1.2" height="1.2"/><rect x="505.9" y="500.4" width="1.2" height="1.2"/><rect x="508.5" y="497.0" width="1.2" height="1.2"/><rect x="508.5" y="499.9" width="1.2" height="1.2"/><rect x="511.1" y="497.1" width="1.2" height="1.2"/><rect x="511.1" y="499.9" width="1.2" height="1.2"/><rect x="513.7" y="497.2" width="1.2" height="1.2"/><rect x="513.7" y="499.9" width="1.2" height="1.2"/><rect x="516.2" y="497.3" width="1.2" height="1.2"/><rect x="516.2" y="500.0" width="1.2" height="1.2"/><rect x="518.8" y="497.4" width="1.2" height="1.2"/><rect x="518.8" y="500.0" width="1.2" height="1.2"/><rect x="521.3" y="497.5" width="1.1" height="1.2"/><rect x="521.3" y="500.0" width="1.1" height="1.2"/><rect x="523.8" y="497.6" width="1.1" height="1.2"/><rect x="523.8" y="500.0" width="1.1" height="1.2"/><rect x="526.4" y="497.7" width="1.1" height="1.2"/><rect x="526.4" y="500.0" width="1.1" height="1.2"/><rect x="528.9" y="497.8" width="1.1" height="1.2"/><rect x="528.9" y="500.0" width="1.1" height="1.2"/><rect x="531.3" y="497.9" width="1.1" height="1.2"/><rect x="531.3" y="500.0" width="1.1" height="1.2"/><rect x="533.8" y="498.0" width="1.1" height="1.2"/><rect x="533.8" y="500.1" width="1.1" height="1.2"/><rect x="536.3" y="498.1" width="1.1" height="1.2"/><rect x="536.3" y="500.1" width="1.1" height="1.2"/><rect x="538.8" y="498.2" width="1.1" height="1.2"/><rect x="538.8" y="500.1" width="1.1" height="1.2"/><rect x="541.2" y="498.3" width="1.1" height="1.2"/><rect x="541.2" y="500.1" width="1.1" height="1.2"/><rect x="543.6" y="498.4" width="1.1" height="1.2"/><rect x="543.6" y="500.1" width="1.1" height="1.2"/><rect x="546.0" y="498.5" width="1.1" height="1.2"/><rect x="546.0" y="500.1" width="1.1" height="1.2"/><rect x="548.5" y="498.6" width="1.0" height="1.2"/><rect x="548.5" y="500.1" width="1.0" height="1.2"/><rect x="550.9" y="498.7" width="1.0" height="1.2"/><rect x="550.9" y="500.2" width="1.0" height="1.2"/><rect x="553.2" y="498.8" width="1.0" height="1.2"/><rect x="553.2" y="500.2" width="1.0" height="1.2"/><rect x="555.6" y="498.9" width="1.0" height="1.2"/><rect x="555.6" y="500.2" width="1.0" height="1.2"/><rect x="558.0" y="499.0" width="1.0" height="1.2"/><rect x="558.0" y="500.2" width="1.0" height="1.2"/><rect x="560.3" y="499.1" width="1.0" height="1.2"/><rect x="560.3" y="500.2" width="1.0" height="1.2"/><rect x="562.7" y="499.1" width="1.0" height="1.2"/><rect x="562.7" y="500.2" width="1.0" height="1.2"/><rect x="565.0" y="499.2" width="1.0" height="1.2"/><rect x="565.0" y="500.2" width="1.0" height="1.2"/><rect x="567.3" y="499.3" width="1.0" height="1.2"/><rect x="567.3" y="500.2" width="1.0" height="1.2"/><rect x="569.6" y="499.4" width="1.0" height="1.2"/><rect x="569.6" y="500.3" width="1.0" height="1.2"/><rect x="571.9" y="499.5" width="1.0" height="1.2"/><rect x="571.9" y="500.3" width="1.0" height="1.2"/><rect x="574.2" y="499.6" width="1.0" height="1.2"/><rect x="574.2" y="500.3" width="1.0" height="1.2"/><rect x="576.5" y="499.7" width="0.9" height="1.2"/><rect x="576.5" y="500.3" width="0.9" height="1.2"/><rect x="578.8" y="499.8" width="0.9" height="1.2"/><rect x="578.8" y="500.3" width="0.9" height="1.2"/><rect x="581.0" y="499.9" width="0.9" height="1.2"/><rect x="581.0" y="500.3" width="0.9" height="1.2"/><rect x="583.3" y="499.9" width="0.9" height="1.2"/><rect x="583.3" y="500.3" width="0.9" height="1.2"/><rect x="585.5" y="500.0" width="0.9" height="1.2"/><rect x="585.5" y="500.3" width="0.9" height="1.2"/><rect x="587.7" y="500.1" width="0.9" height="1.2"/><rect x="587.7" y="500.4" width="0.9" height="1.2"/><rect x="589.9" y="500.2" width="0.9" height="1.2"/><rect x="589.9" y="500.4" width="0.9" height="1.2"/></g>
<polyline points="123.6,470 180,478 230,482 330,495 558,508" stroke="#4a4a4a" stroke-width="1" fill="none"/>
<polygon points="74.0,463.5 272.0,433.0 272.0,447.7 74.0,472.7" fill="url(#rimBL2)" />
<polyline points="74,463.5 272,433" stroke="#8a8a8a" stroke-width="0.9" fill="none" opacity="0.8"/>
<polygon points="272.0,433.0 609.0,494.0 609.0,503.0 272.0,447.7" fill="url(#rimB2)" />
<polyline points="272,433 609,494" stroke="#9a9a9a" stroke-width="1" fill="none" opacity="0.8"/>
<line x1="272.5" y1="433" x2="272.5" y2="448" stroke="#aaa" stroke-width="1"/>
<ellipse cx="234" cy="487.7" rx="2.2" ry="1.8" fill="#eee"/>
<ellipse cx="118.3" cy="474.5" rx="2.2" ry="1.8" fill="#eee"/>
<ellipse cx="393" cy="498" rx="2.2" ry="1.8" fill="#eee"/>
<ellipse cx="530" cy="503" rx="2.2" ry="1.8" fill="#eee"/>
<ellipse cx="547" cy="500" rx="2.2" ry="1.8" fill="#eee"/>
<circle cx="106.8" cy="464.7" r="1.4" fill="#111"/>
<circle cx="225" cy="440" r="1.4" fill="#111"/>
<circle cx="316" cy="448" r="1.4" fill="#111"/>
<circle cx="456" cy="470" r="1.4" fill="#111"/>
<circle cx="567" cy="488" r="1.4" fill="#111"/>
<polygon points="62.0,252.0 77.0,254.0 78.0,645.0 62.0,645.0" fill="url(#upL)" />
<rect x="71" y="262" width="3.2" height="12" fill="#0c0c0c"/><rect x="71" y="288" width="3.2" height="12" fill="#0c0c0c"/><rect x="71" y="314" width="3.2" height="12" fill="#0c0c0c"/><rect x="71" y="340" width="3.2" height="12" fill="#0c0c0c"/><rect x="71" y="366" width="3.2" height="12" fill="#0c0c0c"/><rect x="71" y="392" width="3.2" height="12" fill="#0c0c0c"/><rect x="71" y="418" width="3.2" height="12" fill="#0c0c0c"/><rect x="71" y="444" width="3.2" height="12" fill="#0c0c0c"/><rect x="71" y="470" width="3.2" height="12" fill="#0c0c0c"/><rect x="71" y="496" width="3.2" height="12" fill="#0c0c0c"/><rect x="71" y="522" width="3.2" height="12" fill="#0c0c0c"/><rect x="71" y="548" width="3.2" height="12" fill="#0c0c0c"/><rect x="71" y="574" width="3.2" height="12" fill="#0c0c0c"/><rect x="71" y="600" width="3.2" height="12" fill="#0c0c0c"/><rect x="71" y="626" width="3.2" height="12" fill="#0c0c0c"/>
<circle cx="72.5" cy="383" r="3" fill="#0c0c0c"/>
<circle cx="72.5" cy="508" r="3" fill="#0c0c0c"/>
<circle cx="72.5" cy="615" r="3" fill="#0c0c0c"/>
<path d="M78,524.7 L278,509.5 L290,508.4 L289.5,510.5 L279.5,512 L278.5,518.8 L114.8,545 C98,553 87,572 82,590.7 L78,591 Z" fill="url(#brL2)" />
<ellipse cx="108.7" cy="538" rx="2.6" ry="4" fill="#f0f0f0"/>
<ellipse cx="143.7" cy="533.8" rx="2.5" ry="3.6" fill="#f0f0f0"/>
<ellipse cx="180.8" cy="528.9" rx="2.3" ry="3.2" fill="#f0f0f0"/>
<ellipse cx="221" cy="522.7" rx="2" ry="2.8" fill="#f0f0f0"/>
<ellipse cx="263.3" cy="517.3" rx="1.8" ry="2.4" fill="#f0f0f0"/>
<path d="M429,548 L607.5,541.2 L607.5,551.5 L462,566 C446,572 436,584 430.8,594 L429,594 Z" fill="url(#brR2)" />
<path d="M429,548 L607.5,541.2" stroke="#555" stroke-width="1.3" fill="none"/>
<ellipse cx="459" cy="557" rx="2.8" ry="3.6" fill="#f4f4f4"/>
<ellipse cx="492" cy="554" rx="2.5" ry="3.2" fill="#f4f4f4"/>
<ellipse cx="525" cy="550.5" rx="2.3" ry="2.9" fill="#f4f4f4"/>
<ellipse cx="558" cy="547.5" rx="2.1" ry="2.6" fill="#f4f4f4"/>
<ellipse cx="596" cy="545" rx="1.9" ry="2.3" fill="#f4f4f4"/>
<line x1="30" y1="294.8" x2="47.5" y2="289.0" stroke="#b4b4b4" stroke-width="3.0" stroke-linecap="round"/>
<line x1="32" y1="293.8" x2="46.5" y2="289.0" stroke="#8a8a8a" stroke-width="1.0" />
<circle cx="49.5" cy="288.3" r="1.3" fill="#111"/>
<line x1="51" y1="287.8" x2="62.5" y2="284.1" stroke="#151515" stroke-width="2.0"/>
<line x1="30" y1="395.2" x2="47.5" y2="390.0" stroke="#b4b4b4" stroke-width="3.0" stroke-linecap="round"/>
<line x1="32" y1="394.3" x2="46.5" y2="390.0" stroke="#8a8a8a" stroke-width="1.0" />
<circle cx="49.5" cy="389.4" r="1.3" fill="#111"/>
<line x1="51" y1="388.9" x2="62.5" y2="385.5" stroke="#151515" stroke-width="2.0"/>
<line x1="30" y1="520.3" x2="48.5" y2="517.0" stroke="#b4b4b4" stroke-width="3.0" stroke-linecap="round"/>
<line x1="32" y1="519.7" x2="47.5" y2="516.9" stroke="#8a8a8a" stroke-width="1.0" />
<circle cx="50.5" cy="516.6" r="1.3" fill="#111"/>
<line x1="51" y1="516.5" x2="62.5" y2="514.5" stroke="#151515" stroke-width="2.0"/>
<line x1="30" y1="621.2" x2="48.5" y2="619.0" stroke="#b4b4b4" stroke-width="3.0" stroke-linecap="round"/>
<line x1="32" y1="620.7" x2="47.5" y2="618.8" stroke="#8a8a8a" stroke-width="1.0" />
<circle cx="50.5" cy="618.8" r="1.3" fill="#111"/>
<line x1="51" y1="618.7" x2="62.5" y2="617.3" stroke="#151515" stroke-width="2.0"/>
<line x1="386" y1="391.5" x2="402" y2="387.5" stroke="#b4b4b4" stroke-width="2.4" stroke-linecap="round"/>
<line x1="388" y1="390.7" x2="401" y2="387.4" stroke="#8a8a8a" stroke-width="0.8" />
<circle cx="403.6" cy="387.1" r="1.0" fill="#111"/>
<line x1="406" y1="386.5" x2="418.5" y2="383.4" stroke="#151515" stroke-width="1.6"/>
<line x1="387" y1="457.2" x2="402" y2="455.0" stroke="#b4b4b4" stroke-width="2.4" stroke-linecap="round"/>
<line x1="389" y1="456.6" x2="401" y2="454.8" stroke="#8a8a8a" stroke-width="0.8" />
<circle cx="403.6" cy="454.8" r="1.0" fill="#111"/>
<line x1="406" y1="454.4" x2="418.5" y2="452.5" stroke="#151515" stroke-width="1.6"/>
<line x1="385" y1="543.9" x2="403" y2="542.5" stroke="#b4b4b4" stroke-width="2.4" stroke-linecap="round"/>
<line x1="387" y1="543.5" x2="402" y2="542.3" stroke="#8a8a8a" stroke-width="0.8" />
<circle cx="404.6" cy="542.4" r="1.0" fill="#111"/>
<line x1="406" y1="542.3" x2="418.5" y2="541.3" stroke="#151515" stroke-width="1.6"/>
<line x1="385" y1="613.4" x2="403" y2="612.5" stroke="#b4b4b4" stroke-width="2.4" stroke-linecap="round"/>
<line x1="387" y1="613.0" x2="402" y2="612.2" stroke="#8a8a8a" stroke-width="0.8" />
<circle cx="404.6" cy="612.4" r="1.0" fill="#111"/>
<line x1="406" y1="612.4" x2="418.5" y2="611.7" stroke="#151515" stroke-width="1.6"/>
<line x1="468.8" y1="351" x2="468.8" y2="357" stroke="#222" stroke-width="1.2"/>
<line x1="557.8" y1="332" x2="557.8" y2="340" stroke="#222" stroke-width="1.2"/>
<line x1="313" y1="505" x2="313" y2="511" stroke="#222" stroke-width="1.2"/>
<line x1="533" y1="506" x2="533" y2="513" stroke="#222" stroke-width="1.2"/>
<polygon points="163.1,217.0 173.1,217.0 173.1,228.8 178.7,228.8 168.1,245.0 157.5,228.8 163.1,228.8" fill="#f4b800" />
<polygon points="163.2,476.0 172.3,476.0 172.3,486.1 177.5,486.1 167.8,500.0 158.0,486.1 163.2,486.1" fill="#f4b800" />
<polygon points="506.3,350.6 514.0,350.6 514.0,359.7 518.4,359.7 510.1,372.3 501.9,359.7 506.3,359.7" fill="#f4b800" />
<polygon points="506.3,518.0 513.2,518.0 513.2,527.5 517.0,527.5 509.8,540.5 502.5,527.5 506.3,527.5" fill="#f4b800" />
<polygon points="128.4,319.0 136.3,330.5 120.4,330.5" fill="#ee7a22" />
<rect x="127.5" y="330.0" width="1.8" height="19.3" fill="#ee7a22"/>
<polygon points="227.9,289.0 235.3,300.4 220.4,300.4" fill="#ee7a22" />
<rect x="227.0" y="299.9" width="1.8" height="19.1" fill="#ee7a22"/>
<polygon points="468.8,357.8 474.6,365.2 463.0,365.2" fill="#ee7a22" />
<rect x="467.9" y="364.7" width="1.8" height="12.7" fill="#ee7a22"/>
<polygon points="557.8,342.0 563.3,349.2 552.4,349.2" fill="#ee7a22" />
<rect x="556.9" y="348.7" width="1.8" height="12.3" fill="#ee7a22"/>
<polygon points="128.2,560.0 135.5,571.8 121.0,571.8" fill="#ee7a22" />
<rect x="127.3" y="571.3" width="1.8" height="19.7" fill="#ee7a22"/>
<polygon points="227.0,551.5 234.0,563.3 220.0,563.3" fill="#ee7a22" />
<rect x="226.1" y="562.8" width="1.8" height="19.7" fill="#ee7a22"/>
<polygon points="469.5,572.0 475.0,578.8 464.0,578.8" fill="#ee7a22" />
<rect x="468.6" y="578.3" width="1.8" height="11.7" fill="#ee7a22"/>
<polygon points="557.5,570.0 563.0,577.6 552.0,577.6" fill="#ee7a22" />
<rect x="556.6" y="577.1" width="1.8" height="12.9" fill="#ee7a22"/>
<rect x="124.5" y="307.5" width="6" height="3" rx="1" fill="#222"/>
<rect x="125" y="550.0" width="6" height="3" rx="1" fill="#222"/>
<rect x="224.5" y="545.9" width="6" height="3" rx="1" fill="#222"/>
<rect x="466" y="564.5" width="6" height="3" rx="1" fill="#222"/>
<rect x="554" y="561.5" width="6" height="3" rx="1" fill="#222"/>
<rect x="466.4" y="403.0" width="6" height="3" rx="1" fill="#222"/>
<rect x="554" y="389.5" width="6" height="3" rx="1" fill="#222"/>
<polygon points="455.0,91.0 664.0,91.0 664.0,95.5 455.0,95.5" fill="#505050" />
<polygon points="457.0,95.5 662.0,95.5 639.0,121.5 481.0,121.5" fill="#1e1e1e" />
<g fill="#d8d8d8" opacity="0.85"><rect x="460.0" y="96" width="1.3" height="2.2"/><rect x="462.4" y="96" width="1.3" height="2.2"/><rect x="464.7" y="96" width="1.3" height="2.2"/><rect x="467.1" y="96" width="1.3" height="2.2"/><rect x="469.4" y="96" width="1.3" height="2.2"/><rect x="471.8" y="96" width="1.3" height="2.2"/><rect x="474.1" y="96" width="1.3" height="2.2"/><rect x="476.4" y="96" width="1.3" height="2.2"/><rect x="478.8" y="96" width="1.3" height="2.2"/><rect x="481.1" y="96" width="1.3" height="2.2"/><rect x="483.5" y="96" width="1.3" height="2.2"/><rect x="485.9" y="96" width="1.3" height="2.2"/><rect x="488.2" y="96" width="1.3" height="2.2"/><rect x="490.6" y="96" width="1.3" height="2.2"/><rect x="492.9" y="96" width="1.3" height="2.2"/><rect x="495.2" y="96" width="1.3" height="2.2"/><rect x="497.6" y="96" width="1.3" height="2.2"/><rect x="499.9" y="96" width="1.3" height="2.2"/><rect x="502.3" y="96" width="1.3" height="2.2"/><rect x="504.6" y="96" width="1.3" height="2.2"/><rect x="507.0" y="96" width="1.3" height="2.2"/><rect x="509.4" y="96" width="1.3" height="2.2"/><rect x="511.7" y="96" width="1.3" height="2.2"/><rect x="514.0" y="96" width="1.3" height="2.2"/><rect x="516.4" y="96" width="1.3" height="2.2"/><rect x="518.8" y="96" width="1.3" height="2.2"/><rect x="521.1" y="96" width="1.3" height="2.2"/><rect x="523.5" y="96" width="1.3" height="2.2"/><rect x="525.8" y="96" width="1.3" height="2.2"/><rect x="528.1" y="96" width="1.3" height="2.2"/><rect x="530.5" y="96" width="1.3" height="2.2"/><rect x="532.9" y="96" width="1.3" height="2.2"/><rect x="535.2" y="96" width="1.3" height="2.2"/><rect x="537.5" y="96" width="1.3" height="2.2"/><rect x="539.9" y="96" width="1.3" height="2.2"/><rect x="542.2" y="96" width="1.3" height="2.2"/><rect x="544.6" y="96" width="1.3" height="2.2"/><rect x="547.0" y="96" width="1.3" height="2.2"/><rect x="549.3" y="96" width="1.3" height="2.2"/><rect x="551.6" y="96" width="1.3" height="2.2"/><rect x="554.0" y="96" width="1.3" height="2.2"/><rect x="556.4" y="96" width="1.3" height="2.2"/><rect x="558.7" y="96" width="1.3" height="2.2"/><rect x="561.0" y="96" width="1.3" height="2.2"/><rect x="563.4" y="96" width="1.3" height="2.2"/><rect x="565.8" y="96" width="1.3" height="2.2"/><rect x="568.1" y="96" width="1.3" height="2.2"/><rect x="570.5" y="96" width="1.3" height="2.2"/><rect x="572.8" y="96" width="1.3" height="2.2"/><rect x="575.1" y="96" width="1.3" height="2.2"/><rect x="577.5" y="96" width="1.3" height="2.2"/><rect x="579.9" y="96" width="1.3" height="2.2"/><rect x="582.2" y="96" width="1.3" height="2.2"/><rect x="584.5" y="96" width="1.3" height="2.2"/><rect x="586.9" y="96" width="1.3" height="2.2"/><rect x="589.2" y="96" width="1.3" height="2.2"/><rect x="591.6" y="96" width="1.3" height="2.2"/><rect x="594.0" y="96" width="1.3" height="2.2"/><rect x="596.3" y="96" width="1.3" height="2.2"/><rect x="598.6" y="96" width="1.3" height="2.2"/><rect x="601.0" y="96" width="1.3" height="2.2"/><rect x="603.4" y="96" width="1.3" height="2.2"/><rect x="605.7" y="96" width="1.3" height="2.2"/><rect x="608.0" y="96" width="1.3" height="2.2"/><rect x="610.4" y="96" width="1.3" height="2.2"/><rect x="612.8" y="96" width="1.3" height="2.2"/><rect x="615.1" y="96" width="1.3" height="2.2"/><rect x="617.5" y="96" width="1.3" height="2.2"/><rect x="619.8" y="96" width="1.3" height="2.2"/><rect x="622.1" y="96" width="1.3" height="2.2"/><rect x="624.5" y="96" width="1.3" height="2.2"/><rect x="626.9" y="96" width="1.3" height="2.2"/><rect x="629.2" y="96" width="1.3" height="2.2"/><rect x="631.5" y="96" width="1.3" height="2.2"/><rect x="633.9" y="96" width="1.3" height="2.2"/><rect x="636.2" y="96" width="1.3" height="2.2"/><rect x="638.6" y="96" width="1.3" height="2.2"/><rect x="641.0" y="96" width="1.3" height="2.2"/><rect x="643.3" y="96" width="1.3" height="2.2"/><rect x="645.6" y="96" width="1.3" height="2.2"/><rect x="648.0" y="96" width="1.3" height="2.2"/><rect x="650.4" y="96" width="1.3" height="2.2"/><rect x="652.7" y="96" width="1.3" height="2.2"/><rect x="655.0" y="96" width="1.3" height="2.2"/><rect x="657.4" y="96" width="1.3" height="2.2"/><rect x="659.8" y="96" width="1.3" height="2.2"/></g>
<g fill="#a8a8a8" opacity="0.85"><path d="M470.0,101 l1.4,0 l4.5,11.5 l-1.4,0 z"/><path d="M472.9,101 l1.4,0 l4.4,11.5 l-1.4,0 z"/><path d="M475.8,101 l1.4,0 l4.2,11.5 l-1.4,0 z"/><path d="M478.7,101 l1.4,0 l4.1,11.5 l-1.4,0 z"/><path d="M481.6,101 l1.4,0 l3.9,11.5 l-1.4,0 z"/><path d="M484.5,101 l1.4,0 l3.8,11.5 l-1.4,0 z"/><path d="M487.4,101 l1.4,0 l3.6,11.5 l-1.4,0 z"/><path d="M490.3,101 l1.4,0 l3.5,11.5 l-1.4,0 z"/><path d="M493.2,101 l1.4,0 l3.3,11.5 l-1.4,0 z"/><path d="M496.1,101 l1.4,0 l3.2,11.5 l-1.4,0 z"/><path d="M499.0,101 l1.4,0 l3.0,11.5 l-1.4,0 z"/><path d="M501.9,101 l1.4,0 l2.9,11.5 l-1.4,0 z"/><path d="M504.8,101 l1.4,0 l2.8,11.5 l-1.4,0 z"/><path d="M507.7,101 l1.4,0 l2.6,11.5 l-1.4,0 z"/><path d="M510.6,101 l1.4,0 l2.5,11.5 l-1.4,0 z"/><path d="M513.5,101 l1.4,0 l2.3,11.5 l-1.4,0 z"/><path d="M516.4,101 l1.4,0 l2.2,11.5 l-1.4,0 z"/><path d="M519.3,101 l1.4,0 l2.0,11.5 l-1.4,0 z"/><path d="M522.2,101 l1.4,0 l1.9,11.5 l-1.4,0 z"/><path d="M525.1,101 l1.4,0 l1.7,11.5 l-1.4,0 z"/><path d="M528.0,101 l1.4,0 l1.6,11.5 l-1.4,0 z"/><path d="M530.9,101 l1.4,0 l1.5,11.5 l-1.4,0 z"/><path d="M533.8,101 l1.4,0 l1.3,11.5 l-1.4,0 z"/><path d="M536.7,101 l1.4,0 l1.2,11.5 l-1.4,0 z"/><path d="M539.6,101 l1.4,0 l1.0,11.5 l-1.4,0 z"/><path d="M542.5,101 l1.4,0 l0.9,11.5 l-1.4,0 z"/><path d="M545.4,101 l1.4,0 l0.7,11.5 l-1.4,0 z"/><path d="M548.3,101 l1.4,0 l0.6,11.5 l-1.4,0 z"/><path d="M551.2,101 l1.4,0 l0.4,11.5 l-1.4,0 z"/><path d="M554.1,101 l1.4,0 l0.3,11.5 l-1.4,0 z"/><path d="M557.0,101 l1.4,0 l0.1,11.5 l-1.4,0 z"/><path d="M559.9,101 l1.4,0 l0.0,11.5 l-1.4,0 z"/><path d="M562.8,101 l1.4,0 l-0.1,11.5 l-1.4,0 z"/><path d="M565.7,101 l1.4,0 l-0.3,11.5 l-1.4,0 z"/><path d="M568.6,101 l1.4,0 l-0.4,11.5 l-1.4,0 z"/><path d="M571.5,101 l1.4,0 l-0.6,11.5 l-1.4,0 z"/><path d="M574.4,101 l1.4,0 l-0.7,11.5 l-1.4,0 z"/><path d="M577.3,101 l1.4,0 l-0.9,11.5 l-1.4,0 z"/><path d="M580.2,101 l1.4,0 l-1.0,11.5 l-1.4,0 z"/><path d="M583.1,101 l1.4,0 l-1.2,11.5 l-1.4,0 z"/><path d="M586.0,101 l1.4,0 l-1.3,11.5 l-1.4,0 z"/><path d="M588.9,101 l1.4,0 l-1.4,11.5 l-1.4,0 z"/><path d="M591.8,101 l1.4,0 l-1.6,11.5 l-1.4,0 z"/><path d="M594.7,101 l1.4,0 l-1.7,11.5 l-1.4,0 z"/><path d="M597.6,101 l1.4,0 l-1.9,11.5 l-1.4,0 z"/><path d="M600.5,101 l1.4,0 l-2.0,11.5 l-1.4,0 z"/><path d="M603.4,101 l1.4,0 l-2.2,11.5 l-1.4,0 z"/><path d="M606.3,101 l1.4,0 l-2.3,11.5 l-1.4,0 z"/><path d="M609.2,101 l1.4,0 l-2.5,11.5 l-1.4,0 z"/><path d="M612.1,101 l1.4,0 l-2.6,11.5 l-1.4,0 z"/><path d="M615.0,101 l1.4,0 l-2.8,11.5 l-1.4,0 z"/><path d="M617.9,101 l1.4,0 l-2.9,11.5 l-1.4,0 z"/><path d="M620.8,101 l1.4,0 l-3.0,11.5 l-1.4,0 z"/><path d="M623.7,101 l1.4,0 l-3.2,11.5 l-1.4,0 z"/><path d="M626.6,101 l1.4,0 l-3.3,11.5 l-1.4,0 z"/><path d="M629.5,101 l1.4,0 l-3.5,11.5 l-1.4,0 z"/><path d="M632.4,101 l1.4,0 l-3.6,11.5 l-1.4,0 z"/><path d="M635.3,101 l1.4,0 l-3.8,11.5 l-1.4,0 z"/><path d="M638.2,101 l1.4,0 l-3.9,11.5 l-1.4,0 z"/><path d="M641.1,101 l1.4,0 l-4.1,11.5 l-1.4,0 z"/><path d="M644.0,101 l1.4,0 l-4.2,11.5 l-1.4,0 z"/><path d="M646.9,101 l1.4,0 l-4.3,11.5 l-1.4,0 z"/></g>
<g fill="#c8c8c8" opacity="0.75"><rect x="481.0" y="115.5" width="1.2" height="2.2"/><rect x="483.3" y="115.5" width="1.2" height="2.2"/><rect x="485.6" y="115.5" width="1.2" height="2.2"/><rect x="487.9" y="115.5" width="1.2" height="2.2"/><rect x="490.2" y="115.5" width="1.2" height="2.2"/><rect x="492.5" y="115.5" width="1.2" height="2.2"/><rect x="494.8" y="115.5" width="1.2" height="2.2"/><rect x="497.1" y="115.5" width="1.2" height="2.2"/><rect x="499.4" y="115.5" width="1.2" height="2.2"/><rect x="501.7" y="115.5" width="1.2" height="2.2"/><rect x="504.0" y="115.5" width="1.2" height="2.2"/><rect x="506.3" y="115.5" width="1.2" height="2.2"/><rect x="508.6" y="115.5" width="1.2" height="2.2"/><rect x="510.9" y="115.5" width="1.2" height="2.2"/><rect x="513.2" y="115.5" width="1.2" height="2.2"/><rect x="515.5" y="115.5" width="1.2" height="2.2"/><rect x="517.8" y="115.5" width="1.2" height="2.2"/><rect x="520.1" y="115.5" width="1.2" height="2.2"/><rect x="522.4" y="115.5" width="1.2" height="2.2"/><rect x="524.7" y="115.5" width="1.2" height="2.2"/><rect x="527.0" y="115.5" width="1.2" height="2.2"/><rect x="529.3" y="115.5" width="1.2" height="2.2"/><rect x="531.6" y="115.5" width="1.2" height="2.2"/><rect x="533.9" y="115.5" width="1.2" height="2.2"/><rect x="536.2" y="115.5" width="1.2" height="2.2"/><rect x="538.5" y="115.5" width="1.2" height="2.2"/><rect x="540.8" y="115.5" width="1.2" height="2.2"/><rect x="543.1" y="115.5" width="1.2" height="2.2"/><rect x="545.4" y="115.5" width="1.2" height="2.2"/><rect x="547.7" y="115.5" width="1.2" height="2.2"/><rect x="550.0" y="115.5" width="1.2" height="2.2"/><rect x="552.3" y="115.5" width="1.2" height="2.2"/><rect x="554.6" y="115.5" width="1.2" height="2.2"/><rect x="556.9" y="115.5" width="1.2" height="2.2"/><rect x="559.2" y="115.5" width="1.2" height="2.2"/><rect x="561.5" y="115.5" width="1.2" height="2.2"/><rect x="563.8" y="115.5" width="1.2" height="2.2"/><rect x="566.1" y="115.5" width="1.2" height="2.2"/><rect x="568.4" y="115.5" width="1.2" height="2.2"/><rect x="570.7" y="115.5" width="1.2" height="2.2"/><rect x="573.0" y="115.5" width="1.2" height="2.2"/><rect x="575.3" y="115.5" width="1.2" height="2.2"/><rect x="577.6" y="115.5" width="1.2" height="2.2"/><rect x="579.9" y="115.5" width="1.2" height="2.2"/><rect x="582.2" y="115.5" width="1.2" height="2.2"/><rect x="584.5" y="115.5" width="1.2" height="2.2"/><rect x="586.8" y="115.5" width="1.2" height="2.2"/><rect x="589.1" y="115.5" width="1.2" height="2.2"/><rect x="591.4" y="115.5" width="1.2" height="2.2"/><rect x="593.7" y="115.5" width="1.2" height="2.2"/><rect x="596.0" y="115.5" width="1.2" height="2.2"/><rect x="598.3" y="115.5" width="1.2" height="2.2"/><rect x="600.6" y="115.5" width="1.2" height="2.2"/><rect x="602.9" y="115.5" width="1.2" height="2.2"/><rect x="605.2" y="115.5" width="1.2" height="2.2"/><rect x="607.5" y="115.5" width="1.2" height="2.2"/><rect x="609.8" y="115.5" width="1.2" height="2.2"/><rect x="612.1" y="115.5" width="1.2" height="2.2"/><rect x="614.4" y="115.5" width="1.2" height="2.2"/><rect x="616.7" y="115.5" width="1.2" height="2.2"/><rect x="619.0" y="115.5" width="1.2" height="2.2"/><rect x="621.3" y="115.5" width="1.2" height="2.2"/><rect x="623.6" y="115.5" width="1.2" height="2.2"/><rect x="625.9" y="115.5" width="1.2" height="2.2"/><rect x="628.2" y="115.5" width="1.2" height="2.2"/><rect x="630.5" y="115.5" width="1.2" height="2.2"/><rect x="632.8" y="115.5" width="1.2" height="2.2"/><rect x="635.1" y="115.5" width="1.2" height="2.2"/><rect x="637.4" y="115.5" width="1.2" height="2.2"/><rect x="639.7" y="115.5" width="1.2" height="2.2"/></g>
<line x1="457.6" y1="96.4" x2="482" y2="122" stroke="#3a3a3a" stroke-width="2.6"/>
<line x1="661.5" y1="96.4" x2="637.5" y2="122" stroke="#3a3a3a" stroke-width="2.6"/>
<polygon points="629.0,91.2 644.0,91.2 644.0,94.6 629.0,94.6" fill="#e8c020" />
<rect x="481.6" y="120" width="3.3" height="83.5" fill="#2e2e2e"/>
<rect x="503.5" y="120" width="3.3" height="83.5" fill="#484848"/>
<rect x="526" y="120" width="3.3" height="83.5" fill="#8c8c8c"/>
<rect x="589" y="120" width="3.3" height="83.5" fill="#8c8c8c"/>
<rect x="612.7" y="120" width="3.3" height="83.5" fill="#484848"/>
<rect x="634.5" y="120" width="3.3" height="83.5" fill="#2e2e2e"/>
<polygon points="455.0,169.8 664.0,169.8 664.0,174.5 455.0,174.5" fill="#1e1e1e" />
<polygon points="458.0,174.5 662.0,174.5 660.0,180.5 460.0,180.5" fill="#3a3a3a" />
<polygon points="457.0,175.0 482.0,183.0 484.0,183.0 482.0,194.0 480.0,183.0 458.0,178.0" fill="#222" />
<polygon points="662.0,175.0 637.0,183.0 635.0,183.0 637.0,194.0 639.0,183.0 661.0,178.0" fill="#222" />
<polygon points="503.5,180.5 517.5,180.5 503.5,190.0" fill="#b0b0b0" opacity="0.6"/>
<polygon points="615.8,180.5 601.8,180.5 615.8,190.0" fill="#b0b0b0" opacity="0.6"/>
<polygon points="487.0,149.5 492.0,145.5 492.0,147.7 497.0,147.7 497.0,151.3 492.0,151.3 492.0,153.5" fill="#eab40a" opacity="0.45"/>
<polygon points="510.0,149.5 515.0,145.5 515.0,147.7 520.0,147.7 520.0,151.3 515.0,151.3 515.0,153.5" fill="#eab40a" opacity="0.7"/>
<polygon points="533.0,149.5 538.0,145.5 538.0,147.7 543.0,147.7 543.0,151.3 538.0,151.3 538.0,153.5" fill="#eab40a" opacity="1"/>
<polygon points="586.0,149.5 581.0,145.5 581.0,147.7 576.0,147.7 576.0,151.3 581.0,151.3 581.0,153.5" fill="#eab40a" opacity="1"/>
<polygon points="609.0,149.5 604.0,145.5 604.0,147.7 599.0,147.7 599.0,151.3 604.0,151.3 604.0,153.5" fill="#eab40a" opacity="0.7"/>
<polygon points="632.0,149.5 627.0,145.5 627.0,147.7 622.0,147.7 622.0,151.3 627.0,151.3 627.0,153.5" fill="#eab40a" opacity="0.45"/>
<polygon points="468.0,226.0 484.0,226.0 484.0,218.0 499.0,234.5 484.0,251.0 484.0,243.0 468.0,243.0" fill="url(#yaL2)" />
<polygon points="651.0,226.0 635.0,226.0 635.0,218.0 621.0,235.0 635.0,252.0 635.0,244.0 651.0,244.0" fill="url(#yaR2)" />
</svg>
<div class="t" id="l1">Free Installation With</div>
<div class="t" id="l2">Any Spaced Wood Keel</div>
</body></html>
